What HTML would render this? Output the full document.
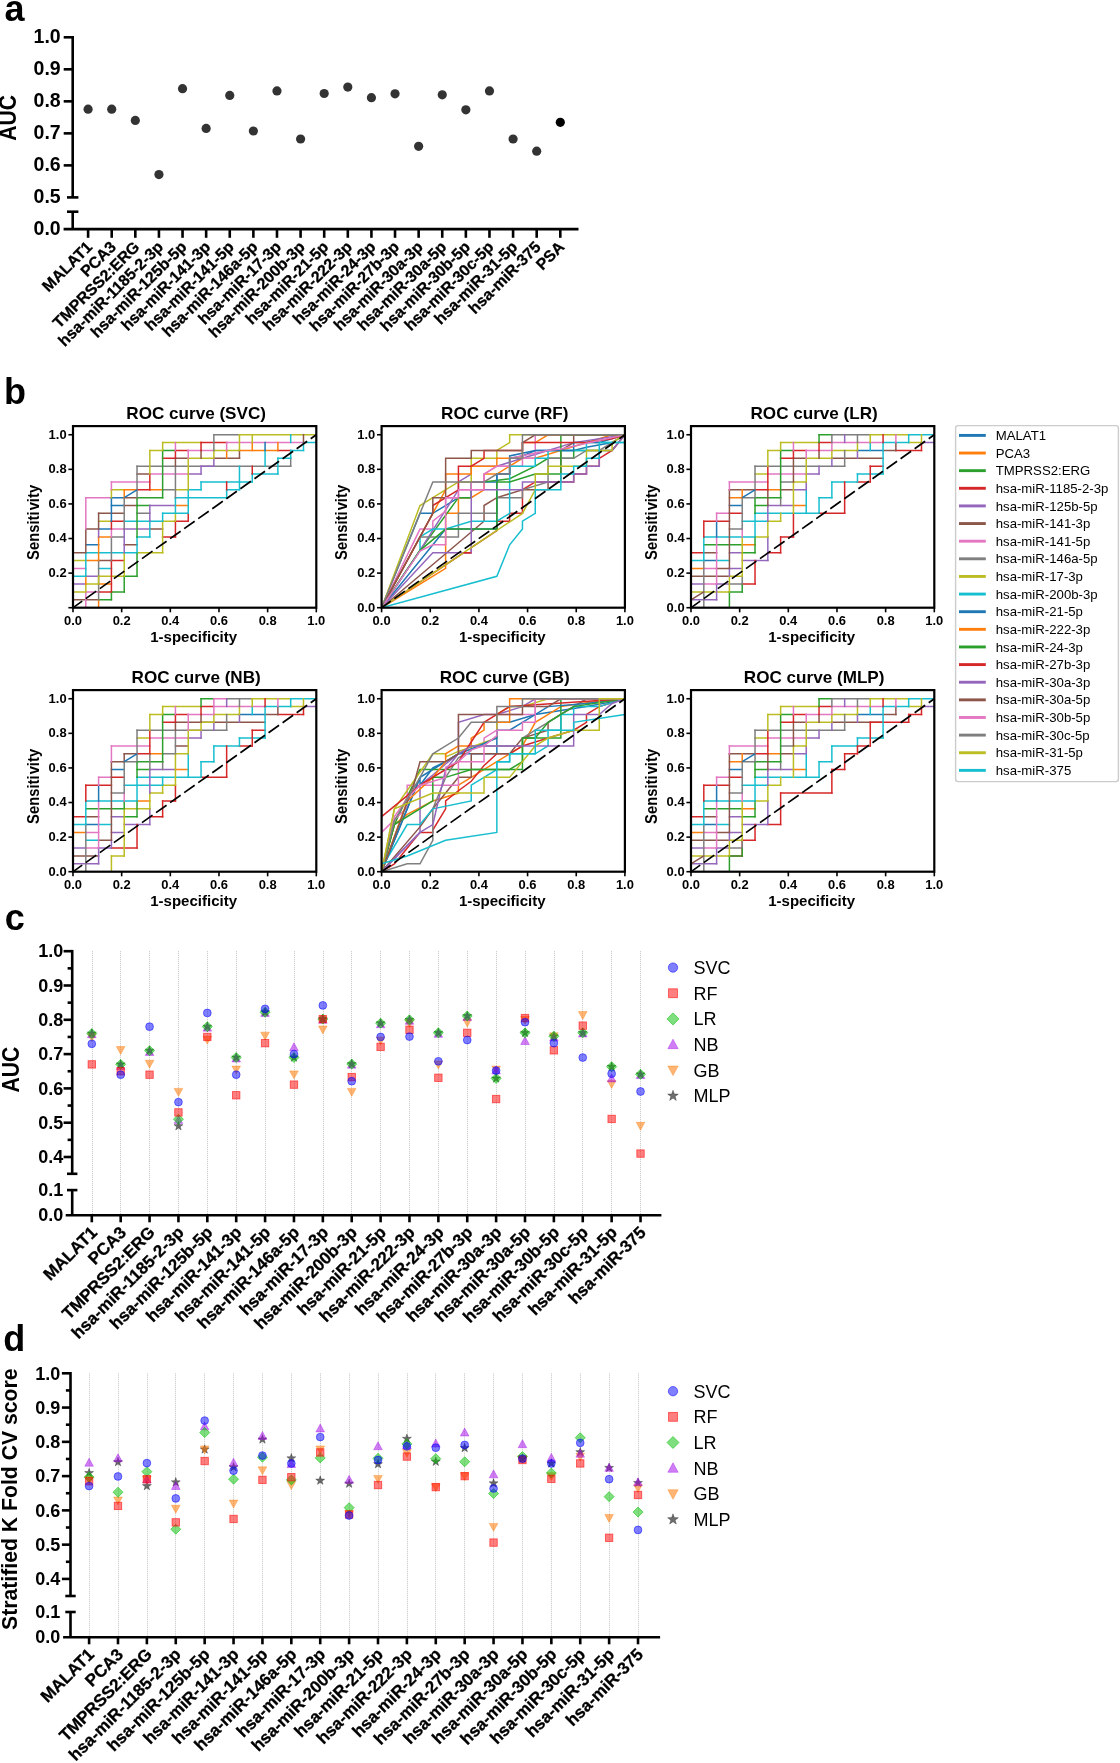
<!DOCTYPE html>
<html><head><meta charset="utf-8"><title>Figure</title>
<style>
html,body{margin:0;padding:0;background:#fff;}
body{width:1120px;height:1763px;overflow:hidden;}
svg{display:block;font-family:"Liberation Sans",sans-serif;will-change:transform;transform:translateZ(0);}
</style></head><body>
<svg width="1120" height="1763" viewBox="0 0 1120 1763">
<text x="4.6" y="21" font-size="36" font-weight="bold" text-anchor="start">a</text>
<text x="4" y="404.3" font-size="36" font-weight="bold" text-anchor="start">b</text>
<text x="4.85" y="929.65" font-size="36" font-weight="bold" text-anchor="start">c</text>
<text x="3.2" y="1351" font-size="36" font-weight="bold" text-anchor="start">d</text>
<line x1="72.7" y1="36" x2="72.7" y2="197.4" stroke="#000" stroke-width="2.6"/>
<line x1="67" y1="197.4" x2="78.4" y2="197.4" stroke="#000" stroke-width="2.6"/>
<line x1="67" y1="211.7" x2="78.4" y2="211.7" stroke="#000" stroke-width="2.6"/>
<line x1="72.7" y1="211.7" x2="72.7" y2="229.1" stroke="#000" stroke-width="2.6"/>
<line x1="63.6" y1="229.1" x2="578.5" y2="229.1" stroke="#000" stroke-width="2.6"/>
<line x1="63.7" y1="37.3" x2="72.7" y2="37.3" stroke="#000" stroke-width="2.6"/>
<text x="60.7" y="42.8" font-size="19.5" font-weight="bold" text-anchor="end">1.0</text>
<line x1="63.7" y1="69.32" x2="72.7" y2="69.32" stroke="#000" stroke-width="2.6"/>
<text x="60.7" y="74.82" font-size="19.5" font-weight="bold" text-anchor="end">0.9</text>
<line x1="63.7" y1="101.34" x2="72.7" y2="101.34" stroke="#000" stroke-width="2.6"/>
<text x="60.7" y="106.84" font-size="19.5" font-weight="bold" text-anchor="end">0.8</text>
<line x1="63.7" y1="133.36" x2="72.7" y2="133.36" stroke="#000" stroke-width="2.6"/>
<text x="60.7" y="138.86" font-size="19.5" font-weight="bold" text-anchor="end">0.7</text>
<line x1="63.7" y1="165.38" x2="72.7" y2="165.38" stroke="#000" stroke-width="2.6"/>
<text x="60.7" y="170.88" font-size="19.5" font-weight="bold" text-anchor="end">0.6</text>
<text x="60.7" y="202.9" font-size="19.5" font-weight="bold" text-anchor="end">0.5</text>
<text x="60.7" y="234.6" font-size="19.5" font-weight="bold" text-anchor="end">0.0</text>
<text transform="translate(15.5 117.8) rotate(-90) scale(1 1.09)" font-size="21.1" font-weight="bold" text-anchor="middle">AUC</text>
<line x1="88.1" y1="229.1" x2="88.1" y2="237.8" stroke="#000" stroke-width="2.6"/>
<text x="93.3" y="247.9" font-size="15.9" font-weight="bold" text-anchor="end" transform="rotate(-45 93.3 247.9)" stroke="#000" stroke-width="0.3">MALAT1</text>
<circle cx="88.1" cy="109.2" r="4.6" fill="#333"/>
<line x1="111.71" y1="229.1" x2="111.71" y2="237.8" stroke="#000" stroke-width="2.6"/>
<text x="116.91" y="247.9" font-size="15.9" font-weight="bold" text-anchor="end" transform="rotate(-45 116.91 247.9)" stroke="#000" stroke-width="0.3">PCA3</text>
<circle cx="111.71" cy="109.2" r="4.6" fill="#333"/>
<line x1="135.32" y1="229.1" x2="135.32" y2="237.8" stroke="#000" stroke-width="2.6"/>
<text x="140.52" y="247.9" font-size="15.9" font-weight="bold" text-anchor="end" transform="rotate(-45 140.52 247.9)" stroke="#000" stroke-width="0.3">TMPRSS2:ERG</text>
<circle cx="135.32" cy="120.41" r="4.6" fill="#333"/>
<line x1="158.93" y1="229.1" x2="158.93" y2="237.8" stroke="#000" stroke-width="2.6"/>
<text x="164.13" y="247.9" font-size="15.9" font-weight="bold" text-anchor="end" transform="rotate(-45 164.13 247.9)" stroke="#000" stroke-width="0.3">hsa-miR-1185-2-3p</text>
<circle cx="158.93" cy="174.53" r="4.6" fill="#333"/>
<line x1="182.54" y1="229.1" x2="182.54" y2="237.8" stroke="#000" stroke-width="2.6"/>
<text x="187.74" y="247.9" font-size="15.9" font-weight="bold" text-anchor="end" transform="rotate(-45 187.74 247.9)" stroke="#000" stroke-width="0.3">hsa-miR-125b-5p</text>
<circle cx="182.54" cy="88.71" r="4.6" fill="#333"/>
<line x1="206.15" y1="229.1" x2="206.15" y2="237.8" stroke="#000" stroke-width="2.6"/>
<text x="211.35" y="247.9" font-size="15.9" font-weight="bold" text-anchor="end" transform="rotate(-45 211.35 247.9)" stroke="#000" stroke-width="0.3">hsa-miR-141-3p</text>
<circle cx="206.15" cy="128.42" r="4.6" fill="#333"/>
<line x1="229.76" y1="229.1" x2="229.76" y2="237.8" stroke="#000" stroke-width="2.6"/>
<text x="234.96" y="247.9" font-size="15.9" font-weight="bold" text-anchor="end" transform="rotate(-45 234.96 247.9)" stroke="#000" stroke-width="0.3">hsa-miR-141-5p</text>
<circle cx="229.76" cy="95.44" r="4.6" fill="#333"/>
<line x1="253.37" y1="229.1" x2="253.37" y2="237.8" stroke="#000" stroke-width="2.6"/>
<text x="258.57" y="247.9" font-size="15.9" font-weight="bold" text-anchor="end" transform="rotate(-45 258.57 247.9)" stroke="#000" stroke-width="0.3">hsa-miR-146a-5p</text>
<circle cx="253.37" cy="130.98" r="4.6" fill="#333"/>
<line x1="276.98" y1="229.1" x2="276.98" y2="237.8" stroke="#000" stroke-width="2.6"/>
<text x="282.18" y="247.9" font-size="15.9" font-weight="bold" text-anchor="end" transform="rotate(-45 282.18 247.9)" stroke="#000" stroke-width="0.3">hsa-miR-17-3p</text>
<circle cx="276.98" cy="90.95" r="4.6" fill="#333"/>
<line x1="300.59" y1="229.1" x2="300.59" y2="237.8" stroke="#000" stroke-width="2.6"/>
<text x="305.79" y="247.9" font-size="15.9" font-weight="bold" text-anchor="end" transform="rotate(-45 305.79 247.9)" stroke="#000" stroke-width="0.3">hsa-miR-200b-3p</text>
<circle cx="300.59" cy="138.98" r="4.6" fill="#333"/>
<line x1="324.2" y1="229.1" x2="324.2" y2="237.8" stroke="#000" stroke-width="2.6"/>
<text x="329.4" y="247.9" font-size="15.9" font-weight="bold" text-anchor="end" transform="rotate(-45 329.4 247.9)" stroke="#000" stroke-width="0.3">hsa-miR-21-5p</text>
<circle cx="324.2" cy="93.51" r="4.6" fill="#333"/>
<line x1="347.81" y1="229.1" x2="347.81" y2="237.8" stroke="#000" stroke-width="2.6"/>
<text x="353.01" y="247.9" font-size="15.9" font-weight="bold" text-anchor="end" transform="rotate(-45 353.01 247.9)" stroke="#000" stroke-width="0.3">hsa-miR-222-3p</text>
<circle cx="347.81" cy="87.11" r="4.6" fill="#333"/>
<line x1="371.42" y1="229.1" x2="371.42" y2="237.8" stroke="#000" stroke-width="2.6"/>
<text x="376.62" y="247.9" font-size="15.9" font-weight="bold" text-anchor="end" transform="rotate(-45 376.62 247.9)" stroke="#000" stroke-width="0.3">hsa-miR-24-3p</text>
<circle cx="371.42" cy="97.68" r="4.6" fill="#333"/>
<line x1="395.03" y1="229.1" x2="395.03" y2="237.8" stroke="#000" stroke-width="2.6"/>
<text x="400.23" y="247.9" font-size="15.9" font-weight="bold" text-anchor="end" transform="rotate(-45 400.23 247.9)" stroke="#000" stroke-width="0.3">hsa-miR-27b-3p</text>
<circle cx="395.03" cy="93.84" r="4.6" fill="#333"/>
<line x1="418.64" y1="229.1" x2="418.64" y2="237.8" stroke="#000" stroke-width="2.6"/>
<text x="423.84" y="247.9" font-size="15.9" font-weight="bold" text-anchor="end" transform="rotate(-45 423.84 247.9)" stroke="#000" stroke-width="0.3">hsa-miR-30a-3p</text>
<circle cx="418.64" cy="146.35" r="4.6" fill="#333"/>
<line x1="442.25" y1="229.1" x2="442.25" y2="237.8" stroke="#000" stroke-width="2.6"/>
<text x="447.45" y="247.9" font-size="15.9" font-weight="bold" text-anchor="end" transform="rotate(-45 447.45 247.9)" stroke="#000" stroke-width="0.3">hsa-miR-30a-5p</text>
<circle cx="442.25" cy="94.8" r="4.6" fill="#333"/>
<line x1="465.86" y1="229.1" x2="465.86" y2="237.8" stroke="#000" stroke-width="2.6"/>
<text x="471.06" y="247.9" font-size="15.9" font-weight="bold" text-anchor="end" transform="rotate(-45 471.06 247.9)" stroke="#000" stroke-width="0.3">hsa-miR-30b-5p</text>
<circle cx="465.86" cy="109.84" r="4.6" fill="#333"/>
<line x1="489.47" y1="229.1" x2="489.47" y2="237.8" stroke="#000" stroke-width="2.6"/>
<text x="494.67" y="247.9" font-size="15.9" font-weight="bold" text-anchor="end" transform="rotate(-45 494.67 247.9)" stroke="#000" stroke-width="0.3">hsa-miR-30c-5p</text>
<circle cx="489.47" cy="90.95" r="4.6" fill="#333"/>
<line x1="513.08" y1="229.1" x2="513.08" y2="237.8" stroke="#000" stroke-width="2.6"/>
<text x="518.28" y="247.9" font-size="15.9" font-weight="bold" text-anchor="end" transform="rotate(-45 518.28 247.9)" stroke="#000" stroke-width="0.3">hsa-miR-31-5p</text>
<circle cx="513.08" cy="138.98" r="4.6" fill="#333"/>
<line x1="536.69" y1="229.1" x2="536.69" y2="237.8" stroke="#000" stroke-width="2.6"/>
<text x="541.89" y="247.9" font-size="15.9" font-weight="bold" text-anchor="end" transform="rotate(-45 541.89 247.9)" stroke="#000" stroke-width="0.3">hsa-miR-375</text>
<circle cx="536.69" cy="151.15" r="4.6" fill="#333"/>
<line x1="560.3" y1="229.1" x2="560.3" y2="237.8" stroke="#000" stroke-width="2.6"/>
<text x="565.5" y="247.9" font-size="15.9" font-weight="bold" text-anchor="end" transform="rotate(-45 565.5 247.9)" stroke="#000" stroke-width="0.3">PSA</text>
<circle cx="560.3" cy="122.33" r="4.6" fill="#000"/>
<g clip-path="url(#clip_SVC)">
<clipPath id="clip_SVC"><rect x="73" y="426.1" width="243.3" height="181.6"/></clipPath>
<path d="M73,599.84L98.61,599.84" stroke="#8c564b" stroke-width="1.5" stroke-linecap="square"/>
<path d="M98.61,599.84L111.42,599.84" stroke="#2ca02c" stroke-width="1.5" stroke-linecap="square"/>
<path d="M73,591.98L85.81,591.98" stroke="#bcbd22" stroke-width="1.5" stroke-linecap="square"/>
<path d="M85.81,591.98L98.61,591.98" stroke="#e377c2" stroke-width="1.5" stroke-linecap="square"/>
<path d="M98.61,591.98L111.42,591.98" stroke="#d62728" stroke-width="1.5" stroke-linecap="square"/>
<path d="M111.42,591.98L124.22,591.98" stroke="#2ca02c" stroke-width="1.5" stroke-linecap="square"/>
<path d="M73,584.12L85.81,584.12" stroke="#9467bd" stroke-width="1.5" stroke-linecap="square"/>
<path d="M85.81,584.12L98.61,584.12" stroke="#bcbd22" stroke-width="1.5" stroke-linecap="square"/>
<path d="M98.61,584.12L111.42,584.12" stroke="#ff7f0e" stroke-width="1.5" stroke-linecap="square"/>
<path d="M73,576.25L85.81,576.25" stroke="#17becf" stroke-width="1.5" stroke-linecap="square"/>
<path d="M85.81,576.25L98.61,576.25" stroke="#9467bd" stroke-width="1.5" stroke-linecap="square"/>
<path d="M98.61,576.25L124.22,576.25" stroke="#bcbd22" stroke-width="1.5" stroke-linecap="square"/>
<path d="M124.22,576.25L137.03,576.25" stroke="#2ca02c" stroke-width="1.5" stroke-linecap="square"/>
<path d="M73,568.39L85.81,568.39" stroke="#e377c2" stroke-width="1.5" stroke-linecap="square"/>
<path d="M98.61,568.39L111.42,568.39" stroke="#17becf" stroke-width="1.5" stroke-linecap="square"/>
<path d="M73,560.53L85.81,560.53" stroke="#bcbd22" stroke-width="1.5" stroke-linecap="square"/>
<path d="M85.81,560.53L98.61,560.53" stroke="#ff7f0e" stroke-width="1.5" stroke-linecap="square"/>
<path d="M98.61,560.53L111.42,560.53" stroke="#8c564b" stroke-width="1.5" stroke-linecap="square"/>
<path d="M111.42,560.53L124.22,560.53" stroke="#d62728" stroke-width="1.5" stroke-linecap="square"/>
<path d="M73,552.67L85.81,552.67" stroke="#8c564b" stroke-width="1.5" stroke-linecap="square"/>
<path d="M85.81,552.67L137.03,552.67" stroke="#17becf" stroke-width="1.5" stroke-linecap="square"/>
<path d="M137.03,552.67L162.64,552.67" stroke="#bcbd22" stroke-width="1.5" stroke-linecap="square"/>
<path d="M85.81,544.81L98.61,544.81" stroke="#1f77b4" stroke-width="1.5" stroke-linecap="square"/>
<path d="M124.22,544.81L137.03,544.81" stroke="#8c564b" stroke-width="1.5" stroke-linecap="square"/>
<path d="M98.61,536.95L111.42,536.95" stroke="#ff7f0e" stroke-width="1.5" stroke-linecap="square"/>
<path d="M111.42,536.95L124.22,536.95" stroke="#7f7f7f" stroke-width="1.5" stroke-linecap="square"/>
<path d="M137.03,536.95L149.83,536.95" stroke="#17becf" stroke-width="1.5" stroke-linecap="square"/>
<path d="M162.64,536.95L175.44,536.95" stroke="#d62728" stroke-width="1.5" stroke-linecap="square"/>
<path d="M85.81,529.09L98.61,529.09" stroke="#8c564b" stroke-width="1.5" stroke-linecap="square"/>
<path d="M98.61,529.09L111.42,529.09" stroke="#1f77b4" stroke-width="1.5" stroke-linecap="square"/>
<path d="M111.42,529.09L124.22,529.09" stroke="#e377c2" stroke-width="1.5" stroke-linecap="square"/>
<path d="M124.22,529.09L149.83,529.09" stroke="#9467bd" stroke-width="1.5" stroke-linecap="square"/>
<path d="M149.83,529.09L162.64,529.09" stroke="#8c564b" stroke-width="1.5" stroke-linecap="square"/>
<path d="M98.61,521.22L111.42,521.22" stroke="#bcbd22" stroke-width="1.5" stroke-linecap="square"/>
<path d="M111.42,521.22L124.22,521.22" stroke="#d62728" stroke-width="1.5" stroke-linecap="square"/>
<path d="M124.22,521.22L162.64,521.22" stroke="#17becf" stroke-width="1.5" stroke-linecap="square"/>
<path d="M162.64,521.22L175.44,521.22" stroke="#bcbd22" stroke-width="1.5" stroke-linecap="square"/>
<path d="M175.44,521.22L188.25,521.22" stroke="#d62728" stroke-width="1.5" stroke-linecap="square"/>
<path d="M98.61,513.36L124.22,513.36" stroke="#8c564b" stroke-width="1.5" stroke-linecap="square"/>
<path d="M137.03,513.36L149.83,513.36" stroke="#7f7f7f" stroke-width="1.5" stroke-linecap="square"/>
<path d="M162.64,513.36L188.25,513.36" stroke="#17becf" stroke-width="1.5" stroke-linecap="square"/>
<path d="M111.42,505.5L124.22,505.5" stroke="#1f77b4" stroke-width="1.5" stroke-linecap="square"/>
<path d="M124.22,505.5L137.03,505.5" stroke="#8c564b" stroke-width="1.5" stroke-linecap="square"/>
<path d="M137.03,505.5L149.83,505.5" stroke="#2ca02c" stroke-width="1.5" stroke-linecap="square"/>
<path d="M149.83,505.5L175.44,505.5" stroke="#9467bd" stroke-width="1.5" stroke-linecap="square"/>
<path d="M175.44,505.5L188.25,505.5" stroke="#ff7f0e" stroke-width="1.5" stroke-linecap="square"/>
<path d="M85.81,497.64L111.42,497.64" stroke="#e377c2" stroke-width="1.5" stroke-linecap="square"/>
<path d="M111.42,497.64L124.22,497.64" stroke="#1f77b4" stroke-width="1.5" stroke-linecap="square"/>
<path d="M124.22,497.64L137.03,497.64" stroke="#8c564b" stroke-width="1.5" stroke-linecap="square"/>
<path d="M137.03,497.64L162.64,497.64" stroke="#2ca02c" stroke-width="1.5" stroke-linecap="square"/>
<path d="M175.44,497.64L226.66,497.64" stroke="#17becf" stroke-width="1.5" stroke-linecap="square"/>
<path d="M111.42,489.78L124.22,489.78" stroke="#bcbd22" stroke-width="1.5" stroke-linecap="square"/>
<path d="M124.22,489.78L137.03,489.78" stroke="#ff7f0e" stroke-width="1.5" stroke-linecap="square"/>
<path d="M137.03,489.78L149.83,489.78" stroke="#d62728" stroke-width="1.5" stroke-linecap="square"/>
<path d="M149.83,489.78L162.64,489.78" stroke="#ff7f0e" stroke-width="1.5" stroke-linecap="square"/>
<path d="M162.64,489.78L175.44,489.78" stroke="#7f7f7f" stroke-width="1.5" stroke-linecap="square"/>
<path d="M175.44,489.78L188.25,489.78" stroke="#bcbd22" stroke-width="1.5" stroke-linecap="square"/>
<path d="M188.25,489.78L201.05,489.78" stroke="#17becf" stroke-width="1.5" stroke-linecap="square"/>
<path d="M226.66,489.78L239.47,489.78" stroke="#17becf" stroke-width="1.5" stroke-linecap="square"/>
<path d="M111.42,481.92L149.83,481.92" stroke="#e377c2" stroke-width="1.5" stroke-linecap="square"/>
<path d="M201.05,481.92L252.27,481.92" stroke="#17becf" stroke-width="1.5" stroke-linecap="square"/>
<path d="M137.03,474.05L149.83,474.05" stroke="#8c564b" stroke-width="1.5" stroke-linecap="square"/>
<path d="M149.83,474.05L188.25,474.05" stroke="#e377c2" stroke-width="1.5" stroke-linecap="square"/>
<path d="M188.25,474.05L201.05,474.05" stroke="#9467bd" stroke-width="1.5" stroke-linecap="square"/>
<path d="M252.27,474.05L277.88,474.05" stroke="#17becf" stroke-width="1.5" stroke-linecap="square"/>
<path d="M137.03,466.19L290.69,466.19" stroke="#7f7f7f" stroke-width="1.5" stroke-linecap="square"/>
<path d="M201.05,466.19L213.86,466.19" stroke="#9467bd" stroke-width="1.5" stroke-linecap="square"/>
<path d="M162.64,458.33L175.44,458.33" stroke="#d62728" stroke-width="1.5" stroke-linecap="square"/>
<path d="M175.44,458.33L188.25,458.33" stroke="#8c564b" stroke-width="1.5" stroke-linecap="square"/>
<path d="M188.25,458.33L213.86,458.33" stroke="#bcbd22" stroke-width="1.5" stroke-linecap="square"/>
<path d="M213.86,458.33L239.47,458.33" stroke="#8c564b" stroke-width="1.5" stroke-linecap="square"/>
<path d="M277.88,458.33L290.69,458.33" stroke="#17becf" stroke-width="1.5" stroke-linecap="square"/>
<path d="M149.83,450.47L162.64,450.47" stroke="#bcbd22" stroke-width="1.5" stroke-linecap="square"/>
<path d="M162.64,450.47L175.44,450.47" stroke="#2ca02c" stroke-width="1.5" stroke-linecap="square"/>
<path d="M175.44,450.47L188.25,450.47" stroke="#d62728" stroke-width="1.5" stroke-linecap="square"/>
<path d="M188.25,450.47L213.86,450.47" stroke="#e377c2" stroke-width="1.5" stroke-linecap="square"/>
<path d="M213.86,450.47L239.47,450.47" stroke="#bcbd22" stroke-width="1.5" stroke-linecap="square"/>
<path d="M239.47,450.47L277.88,450.47" stroke="#ff7f0e" stroke-width="1.5" stroke-linecap="square"/>
<path d="M277.88,450.47L290.69,450.47" stroke="#d62728" stroke-width="1.5" stroke-linecap="square"/>
<path d="M290.69,450.47L303.49,450.47" stroke="#17becf" stroke-width="1.5" stroke-linecap="square"/>
<path d="M162.64,442.61L201.05,442.61" stroke="#bcbd22" stroke-width="1.5" stroke-linecap="square"/>
<path d="M201.05,442.61L226.66,442.61" stroke="#d62728" stroke-width="1.5" stroke-linecap="square"/>
<path d="M226.66,442.61L303.49,442.61" stroke="#e377c2" stroke-width="1.5" stroke-linecap="square"/>
<path d="M303.49,442.61L316.3,442.61" stroke="#17becf" stroke-width="1.5" stroke-linecap="square"/>
<path d="M213.86,434.75L239.47,434.75" stroke="#7f7f7f" stroke-width="1.5" stroke-linecap="square"/>
<path d="M239.47,434.75L316.3,434.75" stroke="#bcbd22" stroke-width="1.5" stroke-linecap="square"/>
<path d="M85.81,607.7L85.81,591.98" stroke="#e377c2" stroke-width="1.5" stroke-linecap="square"/>
<path d="M85.81,591.98L85.81,584.12" stroke="#bcbd22" stroke-width="1.5" stroke-linecap="square"/>
<path d="M85.81,584.12L85.81,576.25" stroke="#ff7f0e" stroke-width="1.5" stroke-linecap="square"/>
<path d="M85.81,576.25L85.81,552.67" stroke="#17becf" stroke-width="1.5" stroke-linecap="square"/>
<path d="M85.81,552.67L85.81,529.09" stroke="#8c564b" stroke-width="1.5" stroke-linecap="square"/>
<path d="M85.81,529.09L85.81,497.64" stroke="#e377c2" stroke-width="1.5" stroke-linecap="square"/>
<path d="M98.61,607.7L98.61,599.84" stroke="#ff7f0e" stroke-width="1.5" stroke-linecap="square"/>
<path d="M98.61,599.84L98.61,560.53" stroke="#7f7f7f" stroke-width="1.5" stroke-linecap="square"/>
<path d="M98.61,584.12L98.61,576.25" stroke="#bcbd22" stroke-width="1.5" stroke-linecap="square"/>
<path d="M98.61,560.53L98.61,536.95" stroke="#ff7f0e" stroke-width="1.5" stroke-linecap="square"/>
<path d="M98.61,536.95L98.61,529.09" stroke="#9467bd" stroke-width="1.5" stroke-linecap="square"/>
<path d="M98.61,529.09L98.61,513.36" stroke="#8c564b" stroke-width="1.5" stroke-linecap="square"/>
<path d="M111.42,599.84L111.42,591.98" stroke="#2ca02c" stroke-width="1.5" stroke-linecap="square"/>
<path d="M111.42,591.98L111.42,560.53" stroke="#d62728" stroke-width="1.5" stroke-linecap="square"/>
<path d="M111.42,560.53L111.42,536.95" stroke="#7f7f7f" stroke-width="1.5" stroke-linecap="square"/>
<path d="M111.42,536.95L111.42,529.09" stroke="#e377c2" stroke-width="1.5" stroke-linecap="square"/>
<path d="M111.42,529.09L111.42,521.22" stroke="#d62728" stroke-width="1.5" stroke-linecap="square"/>
<path d="M111.42,521.22L111.42,497.64" stroke="#1f77b4" stroke-width="1.5" stroke-linecap="square"/>
<path d="M111.42,497.64L111.42,489.78" stroke="#bcbd22" stroke-width="1.5" stroke-linecap="square"/>
<path d="M111.42,489.78L111.42,481.92" stroke="#e377c2" stroke-width="1.5" stroke-linecap="square"/>
<path d="M124.22,591.98L124.22,576.25" stroke="#2ca02c" stroke-width="1.5" stroke-linecap="square"/>
<path d="M124.22,576.25L124.22,552.67" stroke="#bcbd22" stroke-width="1.5" stroke-linecap="square"/>
<path d="M124.22,552.67L124.22,529.09" stroke="#9467bd" stroke-width="1.5" stroke-linecap="square"/>
<path d="M124.22,529.09L124.22,497.64" stroke="#7f7f7f" stroke-width="1.5" stroke-linecap="square"/>
<path d="M124.22,497.64L124.22,489.78" stroke="#ff7f0e" stroke-width="1.5" stroke-linecap="square"/>
<path d="M137.03,576.25L137.03,552.67" stroke="#2ca02c" stroke-width="1.5" stroke-linecap="square"/>
<path d="M137.03,552.67L137.03,536.95" stroke="#17becf" stroke-width="1.5" stroke-linecap="square"/>
<path d="M137.03,536.95L137.03,497.64" stroke="#2ca02c" stroke-width="1.5" stroke-linecap="square"/>
<path d="M137.03,497.64L137.03,466.19" stroke="#7f7f7f" stroke-width="1.5" stroke-linecap="square"/>
<path d="M149.83,536.95L149.83,521.22" stroke="#17becf" stroke-width="1.5" stroke-linecap="square"/>
<path d="M149.83,521.22L149.83,505.5" stroke="#9467bd" stroke-width="1.5" stroke-linecap="square"/>
<path d="M149.83,489.78L149.83,474.05" stroke="#d62728" stroke-width="1.5" stroke-linecap="square"/>
<path d="M149.83,474.05L149.83,450.47" stroke="#bcbd22" stroke-width="1.5" stroke-linecap="square"/>
<path d="M162.64,552.67L162.64,521.22" stroke="#bcbd22" stroke-width="1.5" stroke-linecap="square"/>
<path d="M162.64,521.22L162.64,513.36" stroke="#17becf" stroke-width="1.5" stroke-linecap="square"/>
<path d="M162.64,497.64L162.64,450.47" stroke="#2ca02c" stroke-width="1.5" stroke-linecap="square"/>
<path d="M162.64,450.47L162.64,442.61" stroke="#bcbd22" stroke-width="1.5" stroke-linecap="square"/>
<path d="M175.44,536.95L175.44,521.22" stroke="#d62728" stroke-width="1.5" stroke-linecap="square"/>
<path d="M175.44,521.22L175.44,513.36" stroke="#bcbd22" stroke-width="1.5" stroke-linecap="square"/>
<path d="M175.44,513.36L175.44,497.64" stroke="#17becf" stroke-width="1.5" stroke-linecap="square"/>
<path d="M175.44,497.64L175.44,466.19" stroke="#7f7f7f" stroke-width="1.5" stroke-linecap="square"/>
<path d="M175.44,466.19L175.44,458.33" stroke="#8c564b" stroke-width="1.5" stroke-linecap="square"/>
<path d="M175.44,458.33L175.44,450.47" stroke="#d62728" stroke-width="1.5" stroke-linecap="square"/>
<path d="M175.44,450.47L175.44,442.61" stroke="#e377c2" stroke-width="1.5" stroke-linecap="square"/>
<path d="M188.25,521.22L188.25,513.36" stroke="#d62728" stroke-width="1.5" stroke-linecap="square"/>
<path d="M188.25,513.36L188.25,489.78" stroke="#17becf" stroke-width="1.5" stroke-linecap="square"/>
<path d="M188.25,489.78L188.25,458.33" stroke="#bcbd22" stroke-width="1.5" stroke-linecap="square"/>
<path d="M188.25,458.33L188.25,450.47" stroke="#e377c2" stroke-width="1.5" stroke-linecap="square"/>
<path d="M201.05,489.78L201.05,481.92" stroke="#17becf" stroke-width="1.5" stroke-linecap="square"/>
<path d="M201.05,474.05L201.05,466.19" stroke="#9467bd" stroke-width="1.5" stroke-linecap="square"/>
<path d="M201.05,458.33L201.05,450.47" stroke="#8c564b" stroke-width="1.5" stroke-linecap="square"/>
<path d="M201.05,450.47L201.05,442.61" stroke="#d62728" stroke-width="1.5" stroke-linecap="square"/>
<path d="M213.86,466.19L213.86,458.33" stroke="#9467bd" stroke-width="1.5" stroke-linecap="square"/>
<path d="M213.86,458.33L213.86,450.47" stroke="#bcbd22" stroke-width="1.5" stroke-linecap="square"/>
<path d="M213.86,450.47L213.86,434.75" stroke="#7f7f7f" stroke-width="1.5" stroke-linecap="square"/>
<path d="M226.66,497.64L226.66,489.78" stroke="#17becf" stroke-width="1.5" stroke-linecap="square"/>
<path d="M226.66,489.78L226.66,481.92" stroke="#d62728" stroke-width="1.5" stroke-linecap="square"/>
<path d="M226.66,458.33L226.66,450.47" stroke="#ff7f0e" stroke-width="1.5" stroke-linecap="square"/>
<path d="M226.66,450.47L226.66,442.61" stroke="#e377c2" stroke-width="1.5" stroke-linecap="square"/>
<path d="M239.47,489.78L239.47,466.19" stroke="#17becf" stroke-width="1.5" stroke-linecap="square"/>
<path d="M239.47,458.33L239.47,450.47" stroke="#8c564b" stroke-width="1.5" stroke-linecap="square"/>
<path d="M239.47,450.47L239.47,434.75" stroke="#bcbd22" stroke-width="1.5" stroke-linecap="square"/>
<path d="M252.27,481.92L252.27,474.05" stroke="#17becf" stroke-width="1.5" stroke-linecap="square"/>
<path d="M252.27,474.05L252.27,466.19" stroke="#d62728" stroke-width="1.5" stroke-linecap="square"/>
<path d="M252.27,450.47L252.27,442.61" stroke="#ff7f0e" stroke-width="1.5" stroke-linecap="square"/>
<path d="M252.27,442.61L252.27,434.75" stroke="#bcbd22" stroke-width="1.5" stroke-linecap="square"/>
<path d="M265.08,466.19L265.08,450.47" stroke="#17becf" stroke-width="1.5" stroke-linecap="square"/>
<path d="M265.08,450.47L265.08,442.61" stroke="#1f77b4" stroke-width="1.5" stroke-linecap="square"/>
<path d="M277.88,474.05L277.88,458.33" stroke="#17becf" stroke-width="1.5" stroke-linecap="square"/>
<path d="M277.88,450.47L277.88,442.61" stroke="#ff7f0e" stroke-width="1.5" stroke-linecap="square"/>
<path d="M290.69,466.19L290.69,458.33" stroke="#7f7f7f" stroke-width="1.5" stroke-linecap="square"/>
<path d="M290.69,458.33L290.69,450.47" stroke="#17becf" stroke-width="1.5" stroke-linecap="square"/>
<path d="M290.69,442.61L290.69,434.75" stroke="#17becf" stroke-width="1.5" stroke-linecap="square"/>
<path d="M303.49,450.47L303.49,442.61" stroke="#17becf" stroke-width="1.5" stroke-linecap="square"/>
<path d="M303.49,442.61L303.49,434.75" stroke="#8c564b" stroke-width="1.5" stroke-linecap="square"/>
<path d="M124.22,497.64L137.03,489.78" stroke="#1f77b4" stroke-width="1.5"/>
<path d="M73,607.7L316.3,434.75" stroke="#000" stroke-width="1.7" stroke-dasharray="12.9 4.35" stroke-dashoffset="1.6"/>
</g>
<rect x="73" y="426.1" width="243.3" height="181.6" fill="none" stroke="#000" stroke-width="2.2"/>
<line x1="73" y1="607.7" x2="73" y2="612.3" stroke="#000" stroke-width="1.6"/>
<text transform="translate(73 625) scale(1.08 1)" font-size="12" font-weight="bold" text-anchor="middle">0.0</text>
<line x1="68.4" y1="607.7" x2="73" y2="607.7" stroke="#000" stroke-width="1.6"/>
<line x1="121.66" y1="607.7" x2="121.66" y2="612.3" stroke="#000" stroke-width="1.6"/>
<text transform="translate(121.66 625) scale(1.08 1)" font-size="12" font-weight="bold" text-anchor="middle">0.2</text>
<line x1="68.4" y1="573.11" x2="73" y2="573.11" stroke="#000" stroke-width="1.6"/>
<text transform="translate(66.6 577.01) scale(1.08 1)" font-size="12" font-weight="bold" text-anchor="end">0.2</text>
<line x1="170.32" y1="607.7" x2="170.32" y2="612.3" stroke="#000" stroke-width="1.6"/>
<text transform="translate(170.32 625) scale(1.08 1)" font-size="12" font-weight="bold" text-anchor="middle">0.4</text>
<line x1="68.4" y1="538.52" x2="73" y2="538.52" stroke="#000" stroke-width="1.6"/>
<text transform="translate(66.6 542.42) scale(1.08 1)" font-size="12" font-weight="bold" text-anchor="end">0.4</text>
<line x1="218.98" y1="607.7" x2="218.98" y2="612.3" stroke="#000" stroke-width="1.6"/>
<text transform="translate(218.98 625) scale(1.08 1)" font-size="12" font-weight="bold" text-anchor="middle">0.6</text>
<line x1="68.4" y1="503.93" x2="73" y2="503.93" stroke="#000" stroke-width="1.6"/>
<text transform="translate(66.6 507.83) scale(1.08 1)" font-size="12" font-weight="bold" text-anchor="end">0.6</text>
<line x1="267.64" y1="607.7" x2="267.64" y2="612.3" stroke="#000" stroke-width="1.6"/>
<text transform="translate(267.64 625) scale(1.08 1)" font-size="12" font-weight="bold" text-anchor="middle">0.8</text>
<line x1="68.4" y1="469.34" x2="73" y2="469.34" stroke="#000" stroke-width="1.6"/>
<text transform="translate(66.6 473.24) scale(1.08 1)" font-size="12" font-weight="bold" text-anchor="end">0.8</text>
<line x1="316.3" y1="607.7" x2="316.3" y2="612.3" stroke="#000" stroke-width="1.6"/>
<text transform="translate(316.3 625) scale(1.08 1)" font-size="12" font-weight="bold" text-anchor="middle">1.0</text>
<line x1="68.4" y1="434.75" x2="73" y2="434.75" stroke="#000" stroke-width="1.6"/>
<text transform="translate(66.6 438.65) scale(1.08 1)" font-size="12" font-weight="bold" text-anchor="end">1.0</text>
<text x="196.15" y="418.9" font-size="17.1" font-weight="bold" text-anchor="middle">ROC curve (SVC)</text>
<text x="193.65" y="641.8" font-size="15.0" font-weight="bold" text-anchor="middle">1-specificity</text>
<text transform="translate(38.8 522.42) rotate(-90) scale(1 1.14)" font-size="14.8" font-weight="bold" text-anchor="middle">Sensiti<tspan dx="1.1">vity</tspan></text>
<g clip-path="url(#clip_RF)">
<clipPath id="clip_RF"><rect x="381.6" y="426.1" width="243.3" height="181.6"/></clipPath>
<path d="M381.6,607.7 L420.02,513.36 L432.82,513.36 L458.43,497.64 L471.24,497.64 L471.24,481.92 L496.85,481.92 L496.85,474.05 L509.65,474.05 L509.65,455.97 L535.26,450.47 L573.68,450.47 L586.48,447.33 L612.09,442.61 L624.9,434.75" fill="none" stroke="#1f77b4" stroke-width="1.5" stroke-linejoin="miter"/>
<path d="M381.6,607.7 L445.63,568.39 L445.63,513.36 L458.43,513.36 L458.43,497.64 L471.24,497.64 L484.04,489.78 L484.04,474.05 L496.85,474.05 L522.46,458.33 L535.26,458.33 L573.68,446.54 L599.29,438.68 L612.09,434.75 L624.9,434.75" fill="none" stroke="#ff7f0e" stroke-width="1.5" stroke-linejoin="miter"/>
<path d="M381.6,607.7 L420.02,550.31 L458.43,497.64 L471.24,497.64 L471.24,481.92 L484.04,481.92 L509.65,478.77 L535.26,466.19 L548.07,458.33 L573.68,458.33 L573.68,450.47 L612.09,450.47 L624.9,434.75" fill="none" stroke="#2ca02c" stroke-width="1.5" stroke-linejoin="miter"/>
<path d="M381.6,607.7 L463.55,552.83 L471.24,552.67 L471.24,547.64 L496.85,530.5 L496.85,521.22 L509.65,521.22 L509.65,513.36 L522.46,513.36 L522.46,489.78 L535.26,481.92 L573.68,481.92 L573.68,474.05 L586.48,474.05 L586.48,466.19 L599.29,466.19 L599.29,458.33 L612.09,450.47 L624.9,434.75" fill="none" stroke="#d62728" stroke-width="1.5" stroke-linejoin="miter"/>
<path d="M381.6,607.7 L420.02,550.31 L458.43,489.78 L458.43,481.92 L471.24,474.05 L471.24,466.19 L496.85,466.19 L522.46,458.33 L548.07,450.47 L573.68,442.61 L599.29,438.68 L624.9,434.75" fill="none" stroke="#9467bd" stroke-width="1.5" stroke-linejoin="miter"/>
<path d="M381.6,607.7 L484.04,521.22 L484.04,505.5 L496.85,497.64 L522.46,489.78 L548.07,489.78 L548.07,481.92 L560.87,481.92 L560.87,450.47 L573.68,442.61 L573.68,434.75 L624.9,434.75" fill="none" stroke="#8c564b" stroke-width="1.5" stroke-linejoin="miter"/>
<path d="M381.6,607.7 L420.02,529.09 L432.82,529.09 L432.82,521.22 L445.63,511 L445.63,497.64 L458.43,497.64 L458.43,489.78 L471.24,489.78 L471.24,481.92 L484.04,481.92 L484.04,474.05 L496.85,466.19 L522.46,466.19 L522.46,458.33 L535.26,458.33 L535.26,434.75 L624.9,434.75" fill="none" stroke="#e377c2" stroke-width="1.5" stroke-linejoin="miter"/>
<path d="M381.6,607.7 L420.02,536.95 L458.43,536.95 L458.43,513.36 L496.85,513.36 L496.85,497.64 L522.46,497.64 L522.46,489.78 L548.07,481.92 L548.07,458.33 L573.68,458.33 L586.48,450.47 L599.29,450.47 L624.9,434.75" fill="none" stroke="#7f7f7f" stroke-width="1.5" stroke-linejoin="miter"/>
<path d="M381.6,607.7 L420.02,505.5 L432.82,497.64 L458.43,481.92 L471.24,481.92 L471.24,458.33 L496.85,458.33 L496.85,450.47 L509.65,442.61 L509.65,434.75 L624.9,434.75" fill="none" stroke="#bcbd22" stroke-width="1.5" stroke-linejoin="miter"/>
<path d="M381.6,607.7 L420.02,550.31 L420.02,536.95 L432.82,529.09 L445.63,529.09 L471.24,521.22 L496.85,521.22 L509.65,513.36 L509.65,466.19 L535.26,466.19 L535.26,458.33 L548.07,458.33 L548.07,450.47 L586.48,450.47 L586.48,442.61 L624.9,442.61 L624.9,434.75" fill="none" stroke="#17becf" stroke-width="1.5" stroke-linejoin="miter"/>
<path d="M381.6,607.7 L445.63,529.09 L496.85,529.09 L496.85,474.05 L509.65,474.05 L509.65,458.33 L522.46,455.97 L535.26,450.47 L573.68,450.47 L573.68,442.61 L599.29,442.61 L624.9,434.75" fill="none" stroke="#1f77b4" stroke-width="1.5" stroke-linejoin="miter"/>
<path d="M381.6,607.7 L432.82,513.36 L445.63,489.78 L445.63,474.05 L471.24,474.05 L471.24,466.19 L496.85,466.19 L496.85,458.33 L522.46,458.33 L522.46,442.61 L535.26,442.61 L548.07,434.75 L624.9,434.75" fill="none" stroke="#ff7f0e" stroke-width="1.5" stroke-linejoin="miter"/>
<path d="M381.6,607.7 L420.02,550.31 L445.63,529.09 L496.85,529.09 L496.85,481.92 L509.65,481.92 L535.26,474.05 L560.87,474.05 L560.87,434.75 L624.9,434.75" fill="none" stroke="#2ca02c" stroke-width="1.5" stroke-linejoin="miter"/>
<path d="M381.6,607.7 L432.82,513.36 L432.82,505.5 L458.43,489.78 L458.43,466.19 L471.24,466.19 L484.04,458.33 L484.04,450.47 L522.46,450.47 L522.46,442.61 L586.48,442.61 L612.09,438.68 L624.9,434.75" fill="none" stroke="#d62728" stroke-width="1.5" stroke-linejoin="miter"/>
<path d="M381.6,607.7 L432.82,552.67 L471.24,552.67 L471.24,489.78 L522.46,489.78 L522.46,481.92 L573.68,481.92 L573.68,474.05 L586.48,474.05 L586.48,466.19 L599.29,466.19 L599.29,450.47 L612.09,450.47 L624.9,434.75" fill="none" stroke="#9467bd" stroke-width="1.5" stroke-linejoin="miter"/>
<path d="M381.6,607.7 L432.82,513.36 L432.82,497.64 L445.63,497.64 L445.63,458.33 L471.24,458.33 L471.24,450.47 L522.46,450.47 L522.46,442.61 L535.26,434.75 L624.9,434.75" fill="none" stroke="#8c564b" stroke-width="1.5" stroke-linejoin="miter"/>
<path d="M381.6,607.7 L420.02,551.1 L432.82,544.81 L445.63,544.81 L445.63,497.64 L458.43,497.64 L458.43,489.78 L484.04,489.78 L484.04,474.05 L496.85,466.19 L509.65,466.19 L509.65,458.33 L548.07,450.47 L560.87,448.9 L624.9,434.75" fill="none" stroke="#e377c2" stroke-width="1.5" stroke-linejoin="miter"/>
<path d="M381.6,607.7 L432.82,481.92 L484.04,481.92 L496.85,474.05 L509.65,474.05 L509.65,458.33 L522.46,458.33 L522.46,434.75 L624.9,434.75" fill="none" stroke="#7f7f7f" stroke-width="1.5" stroke-linejoin="miter"/>
<path d="M381.6,607.7 L522.46,513.36 L535.26,489.78 L535.26,474.05 L548.07,474.05 L548.07,466.19 L586.48,466.19 L586.48,450.47 L612.09,450.47 L612.09,442.61 L624.9,434.75" fill="none" stroke="#bcbd22" stroke-width="1.5" stroke-linejoin="miter"/>
<path d="M381.6,607.7 L496.85,576.25 L509.65,544.81 L522.46,529.09 L522.46,521.22 L535.26,513.36 L535.26,489.78 L560.87,489.78 L560.87,474.05 L573.68,474.05 L573.68,466.19 L586.48,466.19 L586.48,458.33 L599.29,458.33 L599.29,442.61 L624.9,442.61" fill="none" stroke="#17becf" stroke-width="1.5" stroke-linejoin="miter"/>
<path d="M463.55,552.67 L471.24,552.67" fill="none" stroke="#d62728" stroke-width="1.5"/>
<path d="M381.6,607.7L624.9,434.75" stroke="#000" stroke-width="1.7" stroke-dasharray="12.9 4.35" stroke-dashoffset="1.6"/>
</g>
<rect x="381.6" y="426.1" width="243.3" height="181.6" fill="none" stroke="#000" stroke-width="2.2"/>
<line x1="381.6" y1="607.7" x2="381.6" y2="612.3" stroke="#000" stroke-width="1.6"/>
<text transform="translate(381.6 625) scale(1.08 1)" font-size="12" font-weight="bold" text-anchor="middle">0.0</text>
<line x1="377" y1="607.7" x2="381.6" y2="607.7" stroke="#000" stroke-width="1.6"/>
<text transform="translate(375.2 611.6) scale(1.08 1)" font-size="12" font-weight="bold" text-anchor="end">0.0</text>
<line x1="430.26" y1="607.7" x2="430.26" y2="612.3" stroke="#000" stroke-width="1.6"/>
<text transform="translate(430.26 625) scale(1.08 1)" font-size="12" font-weight="bold" text-anchor="middle">0.2</text>
<line x1="377" y1="573.11" x2="381.6" y2="573.11" stroke="#000" stroke-width="1.6"/>
<text transform="translate(375.2 577.01) scale(1.08 1)" font-size="12" font-weight="bold" text-anchor="end">0.2</text>
<line x1="478.92" y1="607.7" x2="478.92" y2="612.3" stroke="#000" stroke-width="1.6"/>
<text transform="translate(478.92 625) scale(1.08 1)" font-size="12" font-weight="bold" text-anchor="middle">0.4</text>
<line x1="377" y1="538.52" x2="381.6" y2="538.52" stroke="#000" stroke-width="1.6"/>
<text transform="translate(375.2 542.42) scale(1.08 1)" font-size="12" font-weight="bold" text-anchor="end">0.4</text>
<line x1="527.58" y1="607.7" x2="527.58" y2="612.3" stroke="#000" stroke-width="1.6"/>
<text transform="translate(527.58 625) scale(1.08 1)" font-size="12" font-weight="bold" text-anchor="middle">0.6</text>
<line x1="377" y1="503.93" x2="381.6" y2="503.93" stroke="#000" stroke-width="1.6"/>
<text transform="translate(375.2 507.83) scale(1.08 1)" font-size="12" font-weight="bold" text-anchor="end">0.6</text>
<line x1="576.24" y1="607.7" x2="576.24" y2="612.3" stroke="#000" stroke-width="1.6"/>
<text transform="translate(576.24 625) scale(1.08 1)" font-size="12" font-weight="bold" text-anchor="middle">0.8</text>
<line x1="377" y1="469.34" x2="381.6" y2="469.34" stroke="#000" stroke-width="1.6"/>
<text transform="translate(375.2 473.24) scale(1.08 1)" font-size="12" font-weight="bold" text-anchor="end">0.8</text>
<line x1="624.9" y1="607.7" x2="624.9" y2="612.3" stroke="#000" stroke-width="1.6"/>
<text transform="translate(624.9 625) scale(1.08 1)" font-size="12" font-weight="bold" text-anchor="middle">1.0</text>
<line x1="377" y1="434.75" x2="381.6" y2="434.75" stroke="#000" stroke-width="1.6"/>
<text transform="translate(375.2 438.65) scale(1.08 1)" font-size="12" font-weight="bold" text-anchor="end">1.0</text>
<text x="504.75" y="418.9" font-size="17.1" font-weight="bold" text-anchor="middle">ROC curve (RF)</text>
<text x="502.25" y="641.8" font-size="15.0" font-weight="bold" text-anchor="middle">1-specificity</text>
<text transform="translate(347.4 522.42) rotate(-90) scale(1 1.14)" font-size="14.8" font-weight="bold" text-anchor="middle">Sensiti<tspan dx="1.1">vity</tspan></text>
<g clip-path="url(#clip_LR)">
<clipPath id="clip_LR"><rect x="691" y="426.1" width="243.3" height="181.6"/></clipPath>
<path d="M691,599.84L716.61,599.84" stroke="#9467bd" stroke-width="1.5" stroke-linecap="square"/>
<path d="M691,591.98L729.42,591.98" stroke="#bcbd22" stroke-width="1.5" stroke-linecap="square"/>
<path d="M729.42,591.98L742.22,591.98" stroke="#2ca02c" stroke-width="1.5" stroke-linecap="square"/>
<path d="M691,584.12L703.81,584.12" stroke="#9467bd" stroke-width="1.5" stroke-linecap="square"/>
<path d="M703.81,584.12L716.61,584.12" stroke="#e377c2" stroke-width="1.5" stroke-linecap="square"/>
<path d="M716.61,584.12L729.42,584.12" stroke="#9467bd" stroke-width="1.5" stroke-linecap="square"/>
<path d="M729.42,584.12L742.22,584.12" stroke="#7f7f7f" stroke-width="1.5" stroke-linecap="square"/>
<path d="M742.22,584.12L755.03,584.12" stroke="#d62728" stroke-width="1.5" stroke-linecap="square"/>
<path d="M691,576.25L729.42,576.25" stroke="#8c564b" stroke-width="1.5" stroke-linecap="square"/>
<path d="M729.42,576.25L742.22,576.25" stroke="#bcbd22" stroke-width="1.5" stroke-linecap="square"/>
<path d="M691,568.39L703.81,568.39" stroke="#ff7f0e" stroke-width="1.5" stroke-linecap="square"/>
<path d="M703.81,568.39L716.61,568.39" stroke="#e377c2" stroke-width="1.5" stroke-linecap="square"/>
<path d="M716.61,568.39L729.42,568.39" stroke="#8c564b" stroke-width="1.5" stroke-linecap="square"/>
<path d="M729.42,568.39L742.22,568.39" stroke="#9467bd" stroke-width="1.5" stroke-linecap="square"/>
<path d="M691,560.53L703.81,560.53" stroke="#17becf" stroke-width="1.5" stroke-linecap="square"/>
<path d="M703.81,560.53L716.61,560.53" stroke="#1f77b4" stroke-width="1.5" stroke-linecap="square"/>
<path d="M716.61,560.53L729.42,560.53" stroke="#17becf" stroke-width="1.5" stroke-linecap="square"/>
<path d="M742.22,560.53L767.83,560.53" stroke="#9467bd" stroke-width="1.5" stroke-linecap="square"/>
<path d="M691,552.67L703.81,552.67" stroke="#d62728" stroke-width="1.5" stroke-linecap="square"/>
<path d="M703.81,552.67L716.61,552.67" stroke="#8c564b" stroke-width="1.5" stroke-linecap="square"/>
<path d="M729.42,552.67L742.22,552.67" stroke="#9467bd" stroke-width="1.5" stroke-linecap="square"/>
<path d="M742.22,552.67L755.03,552.67" stroke="#2ca02c" stroke-width="1.5" stroke-linecap="square"/>
<path d="M767.83,552.67L780.64,552.67" stroke="#d62728" stroke-width="1.5" stroke-linecap="square"/>
<path d="M703.81,544.81L742.22,544.81" stroke="#2ca02c" stroke-width="1.5" stroke-linecap="square"/>
<path d="M742.22,544.81L755.03,544.81" stroke="#ff7f0e" stroke-width="1.5" stroke-linecap="square"/>
<path d="M703.81,536.95L755.03,536.95" stroke="#17becf" stroke-width="1.5" stroke-linecap="square"/>
<path d="M755.03,536.95L767.83,536.95" stroke="#bcbd22" stroke-width="1.5" stroke-linecap="square"/>
<path d="M780.64,536.95L793.44,536.95" stroke="#d62728" stroke-width="1.5" stroke-linecap="square"/>
<path d="M729.42,529.09L742.22,529.09" stroke="#7f7f7f" stroke-width="1.5" stroke-linecap="square"/>
<path d="M703.81,521.22L729.42,521.22" stroke="#d62728" stroke-width="1.5" stroke-linecap="square"/>
<path d="M742.22,521.22L767.83,521.22" stroke="#17becf" stroke-width="1.5" stroke-linecap="square"/>
<path d="M767.83,521.22L780.64,521.22" stroke="#bcbd22" stroke-width="1.5" stroke-linecap="square"/>
<path d="M716.61,513.36L729.42,513.36" stroke="#e377c2" stroke-width="1.5" stroke-linecap="square"/>
<path d="M729.42,513.36L742.22,513.36" stroke="#d62728" stroke-width="1.5" stroke-linecap="square"/>
<path d="M755.03,513.36L819.05,513.36" stroke="#17becf" stroke-width="1.5" stroke-linecap="square"/>
<path d="M819.05,513.36L844.66,513.36" stroke="#d62728" stroke-width="1.5" stroke-linecap="square"/>
<path d="M729.42,505.5L742.22,505.5" stroke="#1f77b4" stroke-width="1.5" stroke-linecap="square"/>
<path d="M755.03,505.5L767.83,505.5" stroke="#2ca02c" stroke-width="1.5" stroke-linecap="square"/>
<path d="M767.83,505.5L793.44,505.5" stroke="#9467bd" stroke-width="1.5" stroke-linecap="square"/>
<path d="M793.44,505.5L806.25,505.5" stroke="#ff7f0e" stroke-width="1.5" stroke-linecap="square"/>
<path d="M729.42,497.64L742.22,497.64" stroke="#ff7f0e" stroke-width="1.5" stroke-linecap="square"/>
<path d="M742.22,497.64L755.03,497.64" stroke="#7f7f7f" stroke-width="1.5" stroke-linecap="square"/>
<path d="M755.03,497.64L780.64,497.64" stroke="#2ca02c" stroke-width="1.5" stroke-linecap="square"/>
<path d="M819.05,497.64L831.86,497.64" stroke="#17becf" stroke-width="1.5" stroke-linecap="square"/>
<path d="M729.42,489.78L755.03,489.78" stroke="#8c564b" stroke-width="1.5" stroke-linecap="square"/>
<path d="M755.03,489.78L767.83,489.78" stroke="#d62728" stroke-width="1.5" stroke-linecap="square"/>
<path d="M767.83,489.78L780.64,489.78" stroke="#ff7f0e" stroke-width="1.5" stroke-linecap="square"/>
<path d="M780.64,489.78L793.44,489.78" stroke="#8c564b" stroke-width="1.5" stroke-linecap="square"/>
<path d="M793.44,489.78L806.25,489.78" stroke="#9467bd" stroke-width="1.5" stroke-linecap="square"/>
<path d="M729.42,481.92L767.83,481.92" stroke="#e377c2" stroke-width="1.5" stroke-linecap="square"/>
<path d="M780.64,481.92L793.44,481.92" stroke="#7f7f7f" stroke-width="1.5" stroke-linecap="square"/>
<path d="M793.44,481.92L806.25,481.92" stroke="#bcbd22" stroke-width="1.5" stroke-linecap="square"/>
<path d="M831.86,481.92L857.47,481.92" stroke="#17becf" stroke-width="1.5" stroke-linecap="square"/>
<path d="M857.47,481.92L870.27,481.92" stroke="#d62728" stroke-width="1.5" stroke-linecap="square"/>
<path d="M755.03,474.05L767.83,474.05" stroke="#bcbd22" stroke-width="1.5" stroke-linecap="square"/>
<path d="M767.83,474.05L806.25,474.05" stroke="#e377c2" stroke-width="1.5" stroke-linecap="square"/>
<path d="M806.25,474.05L819.05,474.05" stroke="#9467bd" stroke-width="1.5" stroke-linecap="square"/>
<path d="M857.47,474.05L883.08,474.05" stroke="#17becf" stroke-width="1.5" stroke-linecap="square"/>
<path d="M755.03,466.19L844.66,466.19" stroke="#7f7f7f" stroke-width="1.5" stroke-linecap="square"/>
<path d="M870.27,466.19L883.08,466.19" stroke="#d62728" stroke-width="1.5" stroke-linecap="square"/>
<path d="M780.64,458.33L793.44,458.33" stroke="#d62728" stroke-width="1.5" stroke-linecap="square"/>
<path d="M793.44,458.33L806.25,458.33" stroke="#8c564b" stroke-width="1.5" stroke-linecap="square"/>
<path d="M806.25,458.33L831.86,458.33" stroke="#bcbd22" stroke-width="1.5" stroke-linecap="square"/>
<path d="M831.86,458.33L883.08,458.33" stroke="#8c564b" stroke-width="1.5" stroke-linecap="square"/>
<path d="M767.83,450.47L780.64,450.47" stroke="#bcbd22" stroke-width="1.5" stroke-linecap="square"/>
<path d="M780.64,450.47L793.44,450.47" stroke="#2ca02c" stroke-width="1.5" stroke-linecap="square"/>
<path d="M793.44,450.47L806.25,450.47" stroke="#d62728" stroke-width="1.5" stroke-linecap="square"/>
<path d="M806.25,450.47L831.86,450.47" stroke="#e377c2" stroke-width="1.5" stroke-linecap="square"/>
<path d="M831.86,450.47L857.47,450.47" stroke="#bcbd22" stroke-width="1.5" stroke-linecap="square"/>
<path d="M857.47,450.47L883.08,450.47" stroke="#1f77b4" stroke-width="1.5" stroke-linecap="square"/>
<path d="M883.08,450.47L895.88,450.47" stroke="#8c564b" stroke-width="1.5" stroke-linecap="square"/>
<path d="M895.88,450.47L921.49,450.47" stroke="#d62728" stroke-width="1.5" stroke-linecap="square"/>
<path d="M780.64,442.61L819.05,442.61" stroke="#bcbd22" stroke-width="1.5" stroke-linecap="square"/>
<path d="M819.05,442.61L831.86,442.61" stroke="#d62728" stroke-width="1.5" stroke-linecap="square"/>
<path d="M831.86,442.61L883.08,442.61" stroke="#e377c2" stroke-width="1.5" stroke-linecap="square"/>
<path d="M883.08,442.61L908.69,442.61" stroke="#17becf" stroke-width="1.5" stroke-linecap="square"/>
<path d="M908.69,442.61L921.49,442.61" stroke="#bcbd22" stroke-width="1.5" stroke-linecap="square"/>
<path d="M921.49,442.61L934.3,442.61" stroke="#9467bd" stroke-width="1.5" stroke-linecap="square"/>
<path d="M819.05,434.75L831.86,434.75" stroke="#2ca02c" stroke-width="1.5" stroke-linecap="square"/>
<path d="M831.86,434.75L870.27,434.75" stroke="#7f7f7f" stroke-width="1.5" stroke-linecap="square"/>
<path d="M870.27,434.75L908.69,434.75" stroke="#bcbd22" stroke-width="1.5" stroke-linecap="square"/>
<path d="M908.69,434.75L934.3,434.75" stroke="#17becf" stroke-width="1.5" stroke-linecap="square"/>
<path d="M703.81,607.7L703.81,560.53" stroke="#7f7f7f" stroke-width="1.5" stroke-linecap="square"/>
<path d="M703.81,560.53L703.81,536.95" stroke="#17becf" stroke-width="1.5" stroke-linecap="square"/>
<path d="M703.81,536.95L703.81,521.22" stroke="#d62728" stroke-width="1.5" stroke-linecap="square"/>
<path d="M716.61,599.84L716.61,584.12" stroke="#9467bd" stroke-width="1.5" stroke-linecap="square"/>
<path d="M716.61,584.12L716.61,536.95" stroke="#e377c2" stroke-width="1.5" stroke-linecap="square"/>
<path d="M716.61,536.95L716.61,521.22" stroke="#1f77b4" stroke-width="1.5" stroke-linecap="square"/>
<path d="M716.61,521.22L716.61,513.36" stroke="#e377c2" stroke-width="1.5" stroke-linecap="square"/>
<path d="M729.42,607.7L729.42,591.98" stroke="#2ca02c" stroke-width="1.5" stroke-linecap="square"/>
<path d="M729.42,591.98L729.42,576.25" stroke="#bcbd22" stroke-width="1.5" stroke-linecap="square"/>
<path d="M729.42,576.25L729.42,568.39" stroke="#9467bd" stroke-width="1.5" stroke-linecap="square"/>
<path d="M729.42,568.39L729.42,489.78" stroke="#8c564b" stroke-width="1.5" stroke-linecap="square"/>
<path d="M729.42,489.78L729.42,481.92" stroke="#e377c2" stroke-width="1.5" stroke-linecap="square"/>
<path d="M742.22,591.98L742.22,584.12" stroke="#2ca02c" stroke-width="1.5" stroke-linecap="square"/>
<path d="M742.22,584.12L742.22,576.25" stroke="#7f7f7f" stroke-width="1.5" stroke-linecap="square"/>
<path d="M742.22,576.25L742.22,536.95" stroke="#bcbd22" stroke-width="1.5" stroke-linecap="square"/>
<path d="M742.22,536.95L742.22,529.09" stroke="#e377c2" stroke-width="1.5" stroke-linecap="square"/>
<path d="M742.22,529.09L742.22,497.64" stroke="#7f7f7f" stroke-width="1.5" stroke-linecap="square"/>
<path d="M742.22,497.64L742.22,489.78" stroke="#ff7f0e" stroke-width="1.5" stroke-linecap="square"/>
<path d="M755.03,584.12L755.03,560.53" stroke="#d62728" stroke-width="1.5" stroke-linecap="square"/>
<path d="M755.03,552.67L755.03,536.95" stroke="#2ca02c" stroke-width="1.5" stroke-linecap="square"/>
<path d="M755.03,536.95L755.03,513.36" stroke="#17becf" stroke-width="1.5" stroke-linecap="square"/>
<path d="M755.03,513.36L755.03,497.64" stroke="#2ca02c" stroke-width="1.5" stroke-linecap="square"/>
<path d="M755.03,497.64L755.03,466.19" stroke="#7f7f7f" stroke-width="1.5" stroke-linecap="square"/>
<path d="M767.83,560.53L767.83,536.95" stroke="#9467bd" stroke-width="1.5" stroke-linecap="square"/>
<path d="M767.83,536.95L767.83,521.22" stroke="#bcbd22" stroke-width="1.5" stroke-linecap="square"/>
<path d="M767.83,521.22L767.83,505.5" stroke="#9467bd" stroke-width="1.5" stroke-linecap="square"/>
<path d="M767.83,505.5L767.83,489.78" stroke="#8c564b" stroke-width="1.5" stroke-linecap="square"/>
<path d="M767.83,489.78L767.83,466.19" stroke="#d62728" stroke-width="1.5" stroke-linecap="square"/>
<path d="M767.83,466.19L767.83,450.47" stroke="#bcbd22" stroke-width="1.5" stroke-linecap="square"/>
<path d="M780.64,552.67L780.64,536.95" stroke="#d62728" stroke-width="1.5" stroke-linecap="square"/>
<path d="M780.64,521.22L780.64,513.36" stroke="#bcbd22" stroke-width="1.5" stroke-linecap="square"/>
<path d="M780.64,505.5L780.64,497.64" stroke="#7f7f7f" stroke-width="1.5" stroke-linecap="square"/>
<path d="M780.64,497.64L780.64,450.47" stroke="#2ca02c" stroke-width="1.5" stroke-linecap="square"/>
<path d="M780.64,450.47L780.64,442.61" stroke="#bcbd22" stroke-width="1.5" stroke-linecap="square"/>
<path d="M793.44,536.95L793.44,513.36" stroke="#d62728" stroke-width="1.5" stroke-linecap="square"/>
<path d="M793.44,513.36L793.44,481.92" stroke="#bcbd22" stroke-width="1.5" stroke-linecap="square"/>
<path d="M793.44,481.92L793.44,458.33" stroke="#8c564b" stroke-width="1.5" stroke-linecap="square"/>
<path d="M793.44,458.33L793.44,450.47" stroke="#d62728" stroke-width="1.5" stroke-linecap="square"/>
<path d="M793.44,450.47L793.44,442.61" stroke="#e377c2" stroke-width="1.5" stroke-linecap="square"/>
<path d="M806.25,513.36L806.25,489.78" stroke="#17becf" stroke-width="1.5" stroke-linecap="square"/>
<path d="M806.25,489.78L806.25,481.92" stroke="#9467bd" stroke-width="1.5" stroke-linecap="square"/>
<path d="M806.25,481.92L806.25,458.33" stroke="#bcbd22" stroke-width="1.5" stroke-linecap="square"/>
<path d="M806.25,458.33L806.25,450.47" stroke="#e377c2" stroke-width="1.5" stroke-linecap="square"/>
<path d="M819.05,513.36L819.05,497.64" stroke="#17becf" stroke-width="1.5" stroke-linecap="square"/>
<path d="M819.05,474.05L819.05,466.19" stroke="#9467bd" stroke-width="1.5" stroke-linecap="square"/>
<path d="M819.05,458.33L819.05,450.47" stroke="#8c564b" stroke-width="1.5" stroke-linecap="square"/>
<path d="M819.05,450.47L819.05,442.61" stroke="#d62728" stroke-width="1.5" stroke-linecap="square"/>
<path d="M819.05,442.61L819.05,434.75" stroke="#2ca02c" stroke-width="1.5" stroke-linecap="square"/>
<path d="M831.86,497.64L831.86,481.92" stroke="#17becf" stroke-width="1.5" stroke-linecap="square"/>
<path d="M831.86,466.19L831.86,458.33" stroke="#9467bd" stroke-width="1.5" stroke-linecap="square"/>
<path d="M831.86,458.33L831.86,450.47" stroke="#bcbd22" stroke-width="1.5" stroke-linecap="square"/>
<path d="M831.86,450.47L831.86,442.61" stroke="#e377c2" stroke-width="1.5" stroke-linecap="square"/>
<path d="M831.86,442.61L831.86,434.75" stroke="#7f7f7f" stroke-width="1.5" stroke-linecap="square"/>
<path d="M844.66,513.36L844.66,481.92" stroke="#d62728" stroke-width="1.5" stroke-linecap="square"/>
<path d="M844.66,466.19L844.66,450.47" stroke="#7f7f7f" stroke-width="1.5" stroke-linecap="square"/>
<path d="M844.66,442.61L844.66,434.75" stroke="#9467bd" stroke-width="1.5" stroke-linecap="square"/>
<path d="M857.47,481.92L857.47,474.05" stroke="#17becf" stroke-width="1.5" stroke-linecap="square"/>
<path d="M857.47,458.33L857.47,450.47" stroke="#9467bd" stroke-width="1.5" stroke-linecap="square"/>
<path d="M857.47,450.47L857.47,442.61" stroke="#bcbd22" stroke-width="1.5" stroke-linecap="square"/>
<path d="M857.47,442.61L857.47,434.75" stroke="#7f7f7f" stroke-width="1.5" stroke-linecap="square"/>
<path d="M870.27,481.92L870.27,466.19" stroke="#d62728" stroke-width="1.5" stroke-linecap="square"/>
<path d="M870.27,450.47L870.27,442.61" stroke="#17becf" stroke-width="1.5" stroke-linecap="square"/>
<path d="M870.27,442.61L870.27,434.75" stroke="#bcbd22" stroke-width="1.5" stroke-linecap="square"/>
<path d="M883.08,474.05L883.08,442.61" stroke="#17becf" stroke-width="1.5" stroke-linecap="square"/>
<path d="M883.08,442.61L883.08,434.75" stroke="#d62728" stroke-width="1.5" stroke-linecap="square"/>
<path d="M895.88,450.47L895.88,442.61" stroke="#8c564b" stroke-width="1.5" stroke-linecap="square"/>
<path d="M895.88,442.61L895.88,434.75" stroke="#e377c2" stroke-width="1.5" stroke-linecap="square"/>
<path d="M908.69,442.61L908.69,434.75" stroke="#17becf" stroke-width="1.5" stroke-linecap="square"/>
<path d="M921.49,450.47L921.49,442.61" stroke="#d62728" stroke-width="1.5" stroke-linecap="square"/>
<path d="M921.49,442.61L921.49,434.75" stroke="#bcbd22" stroke-width="1.5" stroke-linecap="square"/>
<path d="M742.22,497.64L755.03,489.78" stroke="#1f77b4" stroke-width="1.5"/>
<path d="M691,599.84L703.81,591.98" stroke="#8c564b" stroke-width="1.5"/>
<path d="M691,607.7L934.3,434.75" stroke="#000" stroke-width="1.7" stroke-dasharray="12.9 4.35" stroke-dashoffset="1.6"/>
</g>
<rect x="691" y="426.1" width="243.3" height="181.6" fill="none" stroke="#000" stroke-width="2.2"/>
<line x1="691" y1="607.7" x2="691" y2="612.3" stroke="#000" stroke-width="1.6"/>
<text transform="translate(691 625) scale(1.08 1)" font-size="12" font-weight="bold" text-anchor="middle">0.0</text>
<line x1="686.4" y1="607.7" x2="691" y2="607.7" stroke="#000" stroke-width="1.6"/>
<text transform="translate(684.6 611.6) scale(1.08 1)" font-size="12" font-weight="bold" text-anchor="end">0.0</text>
<line x1="739.66" y1="607.7" x2="739.66" y2="612.3" stroke="#000" stroke-width="1.6"/>
<text transform="translate(739.66 625) scale(1.08 1)" font-size="12" font-weight="bold" text-anchor="middle">0.2</text>
<line x1="686.4" y1="573.11" x2="691" y2="573.11" stroke="#000" stroke-width="1.6"/>
<text transform="translate(684.6 577.01) scale(1.08 1)" font-size="12" font-weight="bold" text-anchor="end">0.2</text>
<line x1="788.32" y1="607.7" x2="788.32" y2="612.3" stroke="#000" stroke-width="1.6"/>
<text transform="translate(788.32 625) scale(1.08 1)" font-size="12" font-weight="bold" text-anchor="middle">0.4</text>
<line x1="686.4" y1="538.52" x2="691" y2="538.52" stroke="#000" stroke-width="1.6"/>
<text transform="translate(684.6 542.42) scale(1.08 1)" font-size="12" font-weight="bold" text-anchor="end">0.4</text>
<line x1="836.98" y1="607.7" x2="836.98" y2="612.3" stroke="#000" stroke-width="1.6"/>
<text transform="translate(836.98 625) scale(1.08 1)" font-size="12" font-weight="bold" text-anchor="middle">0.6</text>
<line x1="686.4" y1="503.93" x2="691" y2="503.93" stroke="#000" stroke-width="1.6"/>
<text transform="translate(684.6 507.83) scale(1.08 1)" font-size="12" font-weight="bold" text-anchor="end">0.6</text>
<line x1="885.64" y1="607.7" x2="885.64" y2="612.3" stroke="#000" stroke-width="1.6"/>
<text transform="translate(885.64 625) scale(1.08 1)" font-size="12" font-weight="bold" text-anchor="middle">0.8</text>
<line x1="686.4" y1="469.34" x2="691" y2="469.34" stroke="#000" stroke-width="1.6"/>
<text transform="translate(684.6 473.24) scale(1.08 1)" font-size="12" font-weight="bold" text-anchor="end">0.8</text>
<line x1="934.3" y1="607.7" x2="934.3" y2="612.3" stroke="#000" stroke-width="1.6"/>
<text transform="translate(934.3 625) scale(1.08 1)" font-size="12" font-weight="bold" text-anchor="middle">1.0</text>
<line x1="686.4" y1="434.75" x2="691" y2="434.75" stroke="#000" stroke-width="1.6"/>
<text transform="translate(684.6 438.65) scale(1.08 1)" font-size="12" font-weight="bold" text-anchor="end">1.0</text>
<text x="814.15" y="418.9" font-size="17.1" font-weight="bold" text-anchor="middle">ROC curve (LR)</text>
<text x="811.65" y="641.8" font-size="15.0" font-weight="bold" text-anchor="middle">1-specificity</text>
<text transform="translate(656.8 522.42) rotate(-90) scale(1 1.14)" font-size="14.8" font-weight="bold" text-anchor="middle">Sensiti<tspan dx="1.1">vity</tspan></text>
<g clip-path="url(#clip_NB)">
<clipPath id="clip_NB"><rect x="73" y="690.1" width="243.3" height="181.6"/></clipPath>
<path d="M73,863.84L98.61,863.84" stroke="#9467bd" stroke-width="1.5" stroke-linecap="square"/>
<path d="M73,855.98L98.61,855.98" stroke="#8c564b" stroke-width="1.5" stroke-linecap="square"/>
<path d="M111.42,855.98L124.22,855.98" stroke="#bcbd22" stroke-width="1.5" stroke-linecap="square"/>
<path d="M73,848.12L85.81,848.12" stroke="#9467bd" stroke-width="1.5" stroke-linecap="square"/>
<path d="M85.81,848.12L98.61,848.12" stroke="#e377c2" stroke-width="1.5" stroke-linecap="square"/>
<path d="M98.61,848.12L111.42,848.12" stroke="#9467bd" stroke-width="1.5" stroke-linecap="square"/>
<path d="M111.42,848.12L137.03,848.12" stroke="#d62728" stroke-width="1.5" stroke-linecap="square"/>
<path d="M85.81,840.25L98.61,840.25" stroke="#17becf" stroke-width="1.5" stroke-linecap="square"/>
<path d="M98.61,840.25L111.42,840.25" stroke="#8c564b" stroke-width="1.5" stroke-linecap="square"/>
<path d="M73,832.39L85.81,832.39" stroke="#ff7f0e" stroke-width="1.5" stroke-linecap="square"/>
<path d="M85.81,832.39L98.61,832.39" stroke="#e377c2" stroke-width="1.5" stroke-linecap="square"/>
<path d="M111.42,832.39L124.22,832.39" stroke="#9467bd" stroke-width="1.5" stroke-linecap="square"/>
<path d="M73,824.53L85.81,824.53" stroke="#17becf" stroke-width="1.5" stroke-linecap="square"/>
<path d="M85.81,824.53L98.61,824.53" stroke="#1f77b4" stroke-width="1.5" stroke-linecap="square"/>
<path d="M98.61,824.53L111.42,824.53" stroke="#17becf" stroke-width="1.5" stroke-linecap="square"/>
<path d="M124.22,824.53L149.83,824.53" stroke="#9467bd" stroke-width="1.5" stroke-linecap="square"/>
<path d="M73,816.67L85.81,816.67" stroke="#d62728" stroke-width="1.5" stroke-linecap="square"/>
<path d="M85.81,816.67L98.61,816.67" stroke="#8c564b" stroke-width="1.5" stroke-linecap="square"/>
<path d="M111.42,816.67L124.22,816.67" stroke="#9467bd" stroke-width="1.5" stroke-linecap="square"/>
<path d="M124.22,816.67L137.03,816.67" stroke="#2ca02c" stroke-width="1.5" stroke-linecap="square"/>
<path d="M149.83,816.67L162.64,816.67" stroke="#d62728" stroke-width="1.5" stroke-linecap="square"/>
<path d="M85.81,808.81L124.22,808.81" stroke="#2ca02c" stroke-width="1.5" stroke-linecap="square"/>
<path d="M124.22,808.81L149.83,808.81" stroke="#bcbd22" stroke-width="1.5" stroke-linecap="square"/>
<path d="M85.81,800.95L137.03,800.95" stroke="#17becf" stroke-width="1.5" stroke-linecap="square"/>
<path d="M137.03,800.95L149.83,800.95" stroke="#ff7f0e" stroke-width="1.5" stroke-linecap="square"/>
<path d="M162.64,800.95L175.44,800.95" stroke="#d62728" stroke-width="1.5" stroke-linecap="square"/>
<path d="M111.42,793.09L124.22,793.09" stroke="#7f7f7f" stroke-width="1.5" stroke-linecap="square"/>
<path d="M149.83,793.09L162.64,793.09" stroke="#bcbd22" stroke-width="1.5" stroke-linecap="square"/>
<path d="M85.81,785.22L111.42,785.22" stroke="#d62728" stroke-width="1.5" stroke-linecap="square"/>
<path d="M124.22,785.22L162.64,785.22" stroke="#17becf" stroke-width="1.5" stroke-linecap="square"/>
<path d="M162.64,785.22L175.44,785.22" stroke="#bcbd22" stroke-width="1.5" stroke-linecap="square"/>
<path d="M98.61,777.36L111.42,777.36" stroke="#e377c2" stroke-width="1.5" stroke-linecap="square"/>
<path d="M111.42,777.36L124.22,777.36" stroke="#d62728" stroke-width="1.5" stroke-linecap="square"/>
<path d="M137.03,777.36L201.05,777.36" stroke="#17becf" stroke-width="1.5" stroke-linecap="square"/>
<path d="M201.05,777.36L226.66,777.36" stroke="#d62728" stroke-width="1.5" stroke-linecap="square"/>
<path d="M111.42,769.5L124.22,769.5" stroke="#1f77b4" stroke-width="1.5" stroke-linecap="square"/>
<path d="M137.03,769.5L149.83,769.5" stroke="#2ca02c" stroke-width="1.5" stroke-linecap="square"/>
<path d="M149.83,769.5L175.44,769.5" stroke="#9467bd" stroke-width="1.5" stroke-linecap="square"/>
<path d="M175.44,769.5L188.25,769.5" stroke="#ff7f0e" stroke-width="1.5" stroke-linecap="square"/>
<path d="M111.42,761.64L124.22,761.64" stroke="#8c564b" stroke-width="1.5" stroke-linecap="square"/>
<path d="M124.22,761.64L137.03,761.64" stroke="#7f7f7f" stroke-width="1.5" stroke-linecap="square"/>
<path d="M137.03,761.64L162.64,761.64" stroke="#2ca02c" stroke-width="1.5" stroke-linecap="square"/>
<path d="M201.05,761.64L213.86,761.64" stroke="#17becf" stroke-width="1.5" stroke-linecap="square"/>
<path d="M124.22,753.78L137.03,753.78" stroke="#8c564b" stroke-width="1.5" stroke-linecap="square"/>
<path d="M137.03,753.78L149.83,753.78" stroke="#d62728" stroke-width="1.5" stroke-linecap="square"/>
<path d="M149.83,753.78L162.64,753.78" stroke="#ff7f0e" stroke-width="1.5" stroke-linecap="square"/>
<path d="M162.64,753.78L175.44,753.78" stroke="#7f7f7f" stroke-width="1.5" stroke-linecap="square"/>
<path d="M175.44,753.78L188.25,753.78" stroke="#bcbd22" stroke-width="1.5" stroke-linecap="square"/>
<path d="M111.42,745.92L149.83,745.92" stroke="#e377c2" stroke-width="1.5" stroke-linecap="square"/>
<path d="M175.44,745.92L188.25,745.92" stroke="#8c564b" stroke-width="1.5" stroke-linecap="square"/>
<path d="M213.86,745.92L239.47,745.92" stroke="#17becf" stroke-width="1.5" stroke-linecap="square"/>
<path d="M239.47,745.92L252.27,745.92" stroke="#d62728" stroke-width="1.5" stroke-linecap="square"/>
<path d="M137.03,738.05L149.83,738.05" stroke="#bcbd22" stroke-width="1.5" stroke-linecap="square"/>
<path d="M149.83,738.05L188.25,738.05" stroke="#e377c2" stroke-width="1.5" stroke-linecap="square"/>
<path d="M188.25,738.05L201.05,738.05" stroke="#9467bd" stroke-width="1.5" stroke-linecap="square"/>
<path d="M239.47,738.05L265.08,738.05" stroke="#17becf" stroke-width="1.5" stroke-linecap="square"/>
<path d="M137.03,730.19L226.66,730.19" stroke="#7f7f7f" stroke-width="1.5" stroke-linecap="square"/>
<path d="M188.25,730.19L201.05,730.19" stroke="#bcbd22" stroke-width="1.5" stroke-linecap="square"/>
<path d="M252.27,730.19L265.08,730.19" stroke="#d62728" stroke-width="1.5" stroke-linecap="square"/>
<path d="M162.64,722.33L175.44,722.33" stroke="#d62728" stroke-width="1.5" stroke-linecap="square"/>
<path d="M175.44,722.33L265.08,722.33" stroke="#8c564b" stroke-width="1.5" stroke-linecap="square"/>
<path d="M201.05,722.33L213.86,722.33" stroke="#bcbd22" stroke-width="1.5" stroke-linecap="square"/>
<path d="M149.83,714.47L162.64,714.47" stroke="#bcbd22" stroke-width="1.5" stroke-linecap="square"/>
<path d="M162.64,714.47L175.44,714.47" stroke="#2ca02c" stroke-width="1.5" stroke-linecap="square"/>
<path d="M175.44,714.47L188.25,714.47" stroke="#d62728" stroke-width="1.5" stroke-linecap="square"/>
<path d="M188.25,714.47L213.86,714.47" stroke="#e377c2" stroke-width="1.5" stroke-linecap="square"/>
<path d="M213.86,714.47L239.47,714.47" stroke="#bcbd22" stroke-width="1.5" stroke-linecap="square"/>
<path d="M239.47,714.47L265.08,714.47" stroke="#1f77b4" stroke-width="1.5" stroke-linecap="square"/>
<path d="M265.08,714.47L277.88,714.47" stroke="#8c564b" stroke-width="1.5" stroke-linecap="square"/>
<path d="M277.88,714.47L303.49,714.47" stroke="#d62728" stroke-width="1.5" stroke-linecap="square"/>
<path d="M162.64,706.61L201.05,706.61" stroke="#bcbd22" stroke-width="1.5" stroke-linecap="square"/>
<path d="M201.05,706.61L213.86,706.61" stroke="#d62728" stroke-width="1.5" stroke-linecap="square"/>
<path d="M213.86,706.61L265.08,706.61" stroke="#e377c2" stroke-width="1.5" stroke-linecap="square"/>
<path d="M265.08,706.61L290.69,706.61" stroke="#17becf" stroke-width="1.5" stroke-linecap="square"/>
<path d="M290.69,706.61L303.49,706.61" stroke="#bcbd22" stroke-width="1.5" stroke-linecap="square"/>
<path d="M303.49,706.61L316.3,706.61" stroke="#9467bd" stroke-width="1.5" stroke-linecap="square"/>
<path d="M201.05,698.75L213.86,698.75" stroke="#2ca02c" stroke-width="1.5" stroke-linecap="square"/>
<path d="M213.86,698.75L226.66,698.75" stroke="#e377c2" stroke-width="1.5" stroke-linecap="square"/>
<path d="M226.66,698.75L252.27,698.75" stroke="#7f7f7f" stroke-width="1.5" stroke-linecap="square"/>
<path d="M252.27,698.75L290.69,698.75" stroke="#bcbd22" stroke-width="1.5" stroke-linecap="square"/>
<path d="M290.69,698.75L316.3,698.75" stroke="#17becf" stroke-width="1.5" stroke-linecap="square"/>
<path d="M85.81,871.7L85.81,824.53" stroke="#7f7f7f" stroke-width="1.5" stroke-linecap="square"/>
<path d="M85.81,824.53L85.81,800.95" stroke="#17becf" stroke-width="1.5" stroke-linecap="square"/>
<path d="M85.81,800.95L85.81,785.22" stroke="#d62728" stroke-width="1.5" stroke-linecap="square"/>
<path d="M98.61,863.84L98.61,848.12" stroke="#9467bd" stroke-width="1.5" stroke-linecap="square"/>
<path d="M98.61,848.12L98.61,800.95" stroke="#e377c2" stroke-width="1.5" stroke-linecap="square"/>
<path d="M98.61,800.95L98.61,785.22" stroke="#1f77b4" stroke-width="1.5" stroke-linecap="square"/>
<path d="M98.61,785.22L98.61,777.36" stroke="#e377c2" stroke-width="1.5" stroke-linecap="square"/>
<path d="M111.42,871.7L111.42,855.98" stroke="#bcbd22" stroke-width="1.5" stroke-linecap="square"/>
<path d="M111.42,848.12L111.42,840.25" stroke="#9467bd" stroke-width="1.5" stroke-linecap="square"/>
<path d="M111.42,840.25L111.42,761.64" stroke="#8c564b" stroke-width="1.5" stroke-linecap="square"/>
<path d="M111.42,761.64L111.42,745.92" stroke="#e377c2" stroke-width="1.5" stroke-linecap="square"/>
<path d="M124.22,855.98L124.22,808.81" stroke="#bcbd22" stroke-width="1.5" stroke-linecap="square"/>
<path d="M124.22,808.81L124.22,800.95" stroke="#2ca02c" stroke-width="1.5" stroke-linecap="square"/>
<path d="M124.22,800.95L124.22,793.09" stroke="#e377c2" stroke-width="1.5" stroke-linecap="square"/>
<path d="M124.22,793.09L124.22,761.64" stroke="#7f7f7f" stroke-width="1.5" stroke-linecap="square"/>
<path d="M124.22,761.64L124.22,753.78" stroke="#8c564b" stroke-width="1.5" stroke-linecap="square"/>
<path d="M137.03,848.12L137.03,824.53" stroke="#d62728" stroke-width="1.5" stroke-linecap="square"/>
<path d="M137.03,816.67L137.03,800.95" stroke="#2ca02c" stroke-width="1.5" stroke-linecap="square"/>
<path d="M137.03,800.95L137.03,777.36" stroke="#17becf" stroke-width="1.5" stroke-linecap="square"/>
<path d="M137.03,777.36L137.03,761.64" stroke="#2ca02c" stroke-width="1.5" stroke-linecap="square"/>
<path d="M137.03,761.64L137.03,730.19" stroke="#7f7f7f" stroke-width="1.5" stroke-linecap="square"/>
<path d="M149.83,824.53L149.83,808.81" stroke="#9467bd" stroke-width="1.5" stroke-linecap="square"/>
<path d="M149.83,808.81L149.83,793.09" stroke="#bcbd22" stroke-width="1.5" stroke-linecap="square"/>
<path d="M149.83,793.09L149.83,769.5" stroke="#9467bd" stroke-width="1.5" stroke-linecap="square"/>
<path d="M149.83,769.5L149.83,753.78" stroke="#7f7f7f" stroke-width="1.5" stroke-linecap="square"/>
<path d="M149.83,753.78L149.83,730.19" stroke="#d62728" stroke-width="1.5" stroke-linecap="square"/>
<path d="M149.83,730.19L149.83,714.47" stroke="#bcbd22" stroke-width="1.5" stroke-linecap="square"/>
<path d="M162.64,816.67L162.64,800.95" stroke="#d62728" stroke-width="1.5" stroke-linecap="square"/>
<path d="M162.64,793.09L162.64,785.22" stroke="#bcbd22" stroke-width="1.5" stroke-linecap="square"/>
<path d="M162.64,785.22L162.64,777.36" stroke="#17becf" stroke-width="1.5" stroke-linecap="square"/>
<path d="M162.64,769.5L162.64,761.64" stroke="#7f7f7f" stroke-width="1.5" stroke-linecap="square"/>
<path d="M162.64,761.64L162.64,714.47" stroke="#2ca02c" stroke-width="1.5" stroke-linecap="square"/>
<path d="M162.64,714.47L162.64,706.61" stroke="#bcbd22" stroke-width="1.5" stroke-linecap="square"/>
<path d="M175.44,800.95L175.44,785.22" stroke="#d62728" stroke-width="1.5" stroke-linecap="square"/>
<path d="M175.44,785.22L175.44,753.78" stroke="#bcbd22" stroke-width="1.5" stroke-linecap="square"/>
<path d="M175.44,753.78L175.44,730.19" stroke="#7f7f7f" stroke-width="1.5" stroke-linecap="square"/>
<path d="M175.44,730.19L175.44,722.33" stroke="#8c564b" stroke-width="1.5" stroke-linecap="square"/>
<path d="M175.44,722.33L175.44,714.47" stroke="#d62728" stroke-width="1.5" stroke-linecap="square"/>
<path d="M175.44,714.47L175.44,706.61" stroke="#e377c2" stroke-width="1.5" stroke-linecap="square"/>
<path d="M188.25,777.36L188.25,753.78" stroke="#17becf" stroke-width="1.5" stroke-linecap="square"/>
<path d="M188.25,753.78L188.25,730.19" stroke="#bcbd22" stroke-width="1.5" stroke-linecap="square"/>
<path d="M188.25,730.19L188.25,714.47" stroke="#e377c2" stroke-width="1.5" stroke-linecap="square"/>
<path d="M201.05,777.36L201.05,761.64" stroke="#17becf" stroke-width="1.5" stroke-linecap="square"/>
<path d="M201.05,738.05L201.05,730.19" stroke="#9467bd" stroke-width="1.5" stroke-linecap="square"/>
<path d="M201.05,730.19L201.05,722.33" stroke="#bcbd22" stroke-width="1.5" stroke-linecap="square"/>
<path d="M201.05,722.33L201.05,714.47" stroke="#8c564b" stroke-width="1.5" stroke-linecap="square"/>
<path d="M201.05,714.47L201.05,706.61" stroke="#d62728" stroke-width="1.5" stroke-linecap="square"/>
<path d="M201.05,706.61L201.05,698.75" stroke="#2ca02c" stroke-width="1.5" stroke-linecap="square"/>
<path d="M213.86,761.64L213.86,745.92" stroke="#17becf" stroke-width="1.5" stroke-linecap="square"/>
<path d="M213.86,730.19L213.86,722.33" stroke="#9467bd" stroke-width="1.5" stroke-linecap="square"/>
<path d="M213.86,722.33L213.86,714.47" stroke="#bcbd22" stroke-width="1.5" stroke-linecap="square"/>
<path d="M213.86,714.47L213.86,698.75" stroke="#e377c2" stroke-width="1.5" stroke-linecap="square"/>
<path d="M226.66,777.36L226.66,745.92" stroke="#d62728" stroke-width="1.5" stroke-linecap="square"/>
<path d="M226.66,730.19L226.66,714.47" stroke="#7f7f7f" stroke-width="1.5" stroke-linecap="square"/>
<path d="M226.66,706.61L226.66,698.75" stroke="#9467bd" stroke-width="1.5" stroke-linecap="square"/>
<path d="M239.47,745.92L239.47,738.05" stroke="#17becf" stroke-width="1.5" stroke-linecap="square"/>
<path d="M239.47,722.33L239.47,714.47" stroke="#9467bd" stroke-width="1.5" stroke-linecap="square"/>
<path d="M239.47,714.47L239.47,706.61" stroke="#bcbd22" stroke-width="1.5" stroke-linecap="square"/>
<path d="M239.47,706.61L239.47,698.75" stroke="#7f7f7f" stroke-width="1.5" stroke-linecap="square"/>
<path d="M252.27,745.92L252.27,730.19" stroke="#d62728" stroke-width="1.5" stroke-linecap="square"/>
<path d="M252.27,714.47L252.27,706.61" stroke="#17becf" stroke-width="1.5" stroke-linecap="square"/>
<path d="M252.27,706.61L252.27,698.75" stroke="#bcbd22" stroke-width="1.5" stroke-linecap="square"/>
<path d="M265.08,738.05L265.08,706.61" stroke="#17becf" stroke-width="1.5" stroke-linecap="square"/>
<path d="M265.08,706.61L265.08,698.75" stroke="#d62728" stroke-width="1.5" stroke-linecap="square"/>
<path d="M277.88,714.47L277.88,706.61" stroke="#8c564b" stroke-width="1.5" stroke-linecap="square"/>
<path d="M277.88,706.61L277.88,698.75" stroke="#e377c2" stroke-width="1.5" stroke-linecap="square"/>
<path d="M290.69,706.61L290.69,698.75" stroke="#17becf" stroke-width="1.5" stroke-linecap="square"/>
<path d="M303.49,714.47L303.49,706.61" stroke="#d62728" stroke-width="1.5" stroke-linecap="square"/>
<path d="M303.49,706.61L303.49,698.75" stroke="#bcbd22" stroke-width="1.5" stroke-linecap="square"/>
<path d="M124.22,761.64L137.03,753.78" stroke="#1f77b4" stroke-width="1.5"/>
<path d="M73,871.7L316.3,698.75" stroke="#000" stroke-width="1.7" stroke-dasharray="12.9 4.35" stroke-dashoffset="1.6"/>
</g>
<rect x="73" y="690.1" width="243.3" height="181.6" fill="none" stroke="#000" stroke-width="2.2"/>
<line x1="73" y1="871.7" x2="73" y2="876.3" stroke="#000" stroke-width="1.6"/>
<text transform="translate(73 889) scale(1.08 1)" font-size="12" font-weight="bold" text-anchor="middle">0.0</text>
<line x1="68.4" y1="871.7" x2="73" y2="871.7" stroke="#000" stroke-width="1.6"/>
<text transform="translate(66.6 875.6) scale(1.08 1)" font-size="12" font-weight="bold" text-anchor="end">0.0</text>
<line x1="121.66" y1="871.7" x2="121.66" y2="876.3" stroke="#000" stroke-width="1.6"/>
<text transform="translate(121.66 889) scale(1.08 1)" font-size="12" font-weight="bold" text-anchor="middle">0.2</text>
<line x1="68.4" y1="837.11" x2="73" y2="837.11" stroke="#000" stroke-width="1.6"/>
<text transform="translate(66.6 841.01) scale(1.08 1)" font-size="12" font-weight="bold" text-anchor="end">0.2</text>
<line x1="170.32" y1="871.7" x2="170.32" y2="876.3" stroke="#000" stroke-width="1.6"/>
<text transform="translate(170.32 889) scale(1.08 1)" font-size="12" font-weight="bold" text-anchor="middle">0.4</text>
<line x1="68.4" y1="802.52" x2="73" y2="802.52" stroke="#000" stroke-width="1.6"/>
<text transform="translate(66.6 806.42) scale(1.08 1)" font-size="12" font-weight="bold" text-anchor="end">0.4</text>
<line x1="218.98" y1="871.7" x2="218.98" y2="876.3" stroke="#000" stroke-width="1.6"/>
<text transform="translate(218.98 889) scale(1.08 1)" font-size="12" font-weight="bold" text-anchor="middle">0.6</text>
<line x1="68.4" y1="767.93" x2="73" y2="767.93" stroke="#000" stroke-width="1.6"/>
<text transform="translate(66.6 771.83) scale(1.08 1)" font-size="12" font-weight="bold" text-anchor="end">0.6</text>
<line x1="267.64" y1="871.7" x2="267.64" y2="876.3" stroke="#000" stroke-width="1.6"/>
<text transform="translate(267.64 889) scale(1.08 1)" font-size="12" font-weight="bold" text-anchor="middle">0.8</text>
<line x1="68.4" y1="733.34" x2="73" y2="733.34" stroke="#000" stroke-width="1.6"/>
<text transform="translate(66.6 737.24) scale(1.08 1)" font-size="12" font-weight="bold" text-anchor="end">0.8</text>
<line x1="316.3" y1="871.7" x2="316.3" y2="876.3" stroke="#000" stroke-width="1.6"/>
<text transform="translate(316.3 889) scale(1.08 1)" font-size="12" font-weight="bold" text-anchor="middle">1.0</text>
<line x1="68.4" y1="698.75" x2="73" y2="698.75" stroke="#000" stroke-width="1.6"/>
<text transform="translate(66.6 702.65) scale(1.08 1)" font-size="12" font-weight="bold" text-anchor="end">1.0</text>
<text x="196.15" y="682.9" font-size="17.1" font-weight="bold" text-anchor="middle">ROC curve (NB)</text>
<text x="193.65" y="905.8" font-size="15.0" font-weight="bold" text-anchor="middle">1-specificity</text>
<text transform="translate(38.8 786.42) rotate(-90) scale(1 1.14)" font-size="14.8" font-weight="bold" text-anchor="middle">Sensiti<tspan dx="1.1">vity</tspan></text>
<g clip-path="url(#clip_GB)">
<clipPath id="clip_GB"><rect x="381.6" y="690.1" width="243.3" height="181.6"/></clipPath>
<path d="M381.6,871.7 L420.02,777.36 L432.82,769.5 L445.63,761.64 L458.43,753.78 L496.85,753.78 L496.85,722.33 L509.65,722.33 L535.26,714.47 L586.48,706.61 L612.09,701.89 L624.9,698.75" fill="none" stroke="#1f77b4" stroke-width="1.5" stroke-linejoin="miter"/>
<path d="M381.6,871.7 L394.41,824.53 L407.21,814.31 L432.82,800.95 L458.43,793.09 L458.43,785.22 L471.24,777.36 L496.85,761.64 L509.65,753.78 L522.46,745.92 L535.26,722.33 L560.87,706.61 L586.48,702.68 L624.9,698.75" fill="none" stroke="#ff7f0e" stroke-width="1.5" stroke-linejoin="miter"/>
<path d="M381.6,871.7 L394.41,824.53 L420.02,769.5 L509.65,769.5 L522.46,769.5 L522.46,738.05 L560.87,738.05 L560.87,698.75 L624.9,698.75" fill="none" stroke="#2ca02c" stroke-width="1.5" stroke-linejoin="miter"/>
<path d="M381.6,871.7 L394.41,863.84 L420.02,832.39 L432.82,832.39 L432.82,830.03 L445.63,808.81 L445.63,800.95 L458.43,790.73 L471.24,781.29 L484.04,765.57 L496.85,753.78 L509.65,753.78 L522.46,745.92 L548.07,738.05 L573.68,730.19 L586.48,722.33 L586.48,714.47 L599.29,706.61 L624.9,698.75" fill="none" stroke="#d62728" stroke-width="1.5" stroke-linejoin="miter"/>
<path d="M381.6,871.7 L420.02,832.39 L420.02,785.22 L432.82,775 L445.63,764 L458.43,753.78 L458.43,744.34 L458.43,722.33 L484.04,714.47 L496.85,714.47 L522.46,706.61 L535.26,698.75 L624.9,698.75" fill="none" stroke="#9467bd" stroke-width="1.5" stroke-linejoin="miter"/>
<path d="M381.6,871.7 L420.02,826.89 L432.82,808.81 L445.63,793.09 L458.43,777.36 L471.24,777.36 L471.24,753.78 L509.65,753.78 L522.46,738.05 L548.07,730.19 L548.07,722.33 L560.87,714.47 L573.68,706.61 L586.48,698.75 L624.9,698.75" fill="none" stroke="#8c564b" stroke-width="1.5" stroke-linejoin="miter"/>
<path d="M381.6,832.39 L407.21,807.24 L407.21,785.22 L458.43,785.22 L458.43,761.64 L484.04,761.64 L484.04,738.05 L496.85,730.19 L496.85,714.47 L535.26,714.47 L535.26,698.75 L624.9,698.75" fill="none" stroke="#e377c2" stroke-width="1.5" stroke-linejoin="miter"/>
<path d="M381.6,871.7 L407.21,863.84 L420.02,863.84 L432.82,840.25 L432.82,808.81 L445.63,777.36 L458.43,757.71 L471.24,750.63 L471.24,745.92 L522.46,745.92 L522.46,738.05 L535.26,730.19 L548.07,722.33 L560.87,714.47 L586.48,698.75 L624.9,698.75" fill="none" stroke="#7f7f7f" stroke-width="1.5" stroke-linejoin="miter"/>
<path d="M381.6,871.7 L394.41,808.81 L432.82,753.78 L445.63,753.78 L445.63,756.92 L458.43,751.42 L496.85,738.05 L496.85,714.47 L509.65,706.61 L522.46,706.61 L548.07,698.75 L624.9,698.75" fill="none" stroke="#bcbd22" stroke-width="1.5" stroke-linejoin="miter"/>
<path d="M381.6,867.77 L407.21,824.53 L420.02,824.53 L432.82,808.81 L471.24,800.95 L471.24,785.22 L484.04,777.36 L496.85,769.5 L496.85,761.64 L509.65,761.64 L509.65,753.78 L535.26,753.78 L548.07,745.92 L548.07,730.19 L560.87,730.19 L560.87,714.47 L573.68,714.47 L573.68,706.61 L599.29,706.61 L624.9,698.75" fill="none" stroke="#17becf" stroke-width="1.5" stroke-linejoin="miter"/>
<path d="M381.6,871.7 L420.02,777.36 L420.02,785.22 L432.82,767.93 L445.63,761.64 L458.43,753.78 L471.24,749.06 L496.85,738.05 L496.85,730.19 L509.65,730.19 L522.46,722.33 L548.07,706.61 L586.48,703.46 L624.9,698.75" fill="none" stroke="#1f77b4" stroke-width="1.5" stroke-linejoin="miter"/>
<path d="M381.6,871.7 L407.21,800.95 L432.82,777.36 L445.63,761.64 L445.63,753.78 L458.43,745.92 L471.24,745.92 L471.24,738.05 L484.04,730.19 L484.04,722.33 L509.65,722.33 L509.65,698.75 L624.9,698.75" fill="none" stroke="#ff7f0e" stroke-width="1.5" stroke-linejoin="miter"/>
<path d="M381.6,871.7 L394.41,824.53 L432.82,800.95 L432.82,777.36 L445.63,777.36 L471.24,769.5 L509.65,769.5 L522.46,761.64 L522.46,738.05 L535.26,738.05 L548.07,722.33 L560.87,714.47 L573.68,706.61 L624.9,698.75" fill="none" stroke="#2ca02c" stroke-width="1.5" stroke-linejoin="miter"/>
<path d="M381.6,816.67 L420.02,785.22 L445.63,769.5 L458.43,761.64 L471.24,741.99 L484.04,722.33 L496.85,714.47 L509.65,706.61 L624.9,698.75" fill="none" stroke="#d62728" stroke-width="1.5" stroke-linejoin="miter"/>
<path d="M381.6,871.7 L420.02,832.39 L432.82,824.53 L445.63,769.5 L458.43,753.78 L471.24,745.92 L573.68,745.92 L573.68,714.47 L599.29,714.47 L612.09,703.46 L624.9,698.75" fill="none" stroke="#9467bd" stroke-width="1.5" stroke-linejoin="miter"/>
<path d="M381.6,871.7 L413.61,785.22 L420.02,761.64 L445.63,761.64 L458.43,753.78 L458.43,714.47 L522.46,714.47 L522.46,706.61 L548.07,706.61 L560.87,698.75 L624.9,698.75" fill="none" stroke="#8c564b" stroke-width="1.5" stroke-linejoin="miter"/>
<path d="M381.6,871.7 L394.41,816.67 L407.21,798.59 L420.02,785.22 L445.63,777.36 L445.63,767.14 L458.43,761.64 L471.24,749.85 L484.04,745.92 L496.85,735.7 L496.85,730.19 L522.46,730.19 L522.46,722.33 L535.26,722.33 L535.26,698.75 L624.9,698.75" fill="none" stroke="#e377c2" stroke-width="1.5" stroke-linejoin="miter"/>
<path d="M381.6,871.7 L394.41,820.6 L420.02,777.36 L432.82,753.78 L458.43,738.05 L471.24,722.33 L496.85,722.33 L496.85,706.61 L522.46,706.61 L522.46,698.75 L624.9,698.75" fill="none" stroke="#7f7f7f" stroke-width="1.5" stroke-linejoin="miter"/>
<path d="M381.6,871.7 L394.41,808.81 L432.82,793.09 L458.43,793.09 L484.04,793.09 L484.04,777.36 L509.65,777.36 L522.46,761.64 L535.26,745.92 L548.07,738.05 L573.68,730.19 L599.29,730.19 L599.29,698.75 L624.9,698.75" fill="none" stroke="#bcbd22" stroke-width="1.5" stroke-linejoin="miter"/>
<path d="M381.6,863.84 L407.21,855.98 L445.63,840.25 L496.85,832.39 L496.85,761.64 L509.65,761.64 L509.65,753.78 L535.26,753.78 L535.26,730.19 L573.68,730.19 L573.68,722.33 L624.9,714.47" fill="none" stroke="#17becf" stroke-width="1.5" stroke-linejoin="miter"/>
<path d="M381.6,871.7L624.9,698.75" stroke="#000" stroke-width="1.7" stroke-dasharray="12.9 4.35" stroke-dashoffset="1.6"/>
</g>
<rect x="381.6" y="690.1" width="243.3" height="181.6" fill="none" stroke="#000" stroke-width="2.2"/>
<line x1="381.6" y1="871.7" x2="381.6" y2="876.3" stroke="#000" stroke-width="1.6"/>
<text transform="translate(381.6 889) scale(1.08 1)" font-size="12" font-weight="bold" text-anchor="middle">0.0</text>
<line x1="377" y1="871.7" x2="381.6" y2="871.7" stroke="#000" stroke-width="1.6"/>
<text transform="translate(375.2 875.6) scale(1.08 1)" font-size="12" font-weight="bold" text-anchor="end">0.0</text>
<line x1="430.26" y1="871.7" x2="430.26" y2="876.3" stroke="#000" stroke-width="1.6"/>
<text transform="translate(430.26 889) scale(1.08 1)" font-size="12" font-weight="bold" text-anchor="middle">0.2</text>
<line x1="377" y1="837.11" x2="381.6" y2="837.11" stroke="#000" stroke-width="1.6"/>
<text transform="translate(375.2 841.01) scale(1.08 1)" font-size="12" font-weight="bold" text-anchor="end">0.2</text>
<line x1="478.92" y1="871.7" x2="478.92" y2="876.3" stroke="#000" stroke-width="1.6"/>
<text transform="translate(478.92 889) scale(1.08 1)" font-size="12" font-weight="bold" text-anchor="middle">0.4</text>
<line x1="377" y1="802.52" x2="381.6" y2="802.52" stroke="#000" stroke-width="1.6"/>
<text transform="translate(375.2 806.42) scale(1.08 1)" font-size="12" font-weight="bold" text-anchor="end">0.4</text>
<line x1="527.58" y1="871.7" x2="527.58" y2="876.3" stroke="#000" stroke-width="1.6"/>
<text transform="translate(527.58 889) scale(1.08 1)" font-size="12" font-weight="bold" text-anchor="middle">0.6</text>
<line x1="377" y1="767.93" x2="381.6" y2="767.93" stroke="#000" stroke-width="1.6"/>
<text transform="translate(375.2 771.83) scale(1.08 1)" font-size="12" font-weight="bold" text-anchor="end">0.6</text>
<line x1="576.24" y1="871.7" x2="576.24" y2="876.3" stroke="#000" stroke-width="1.6"/>
<text transform="translate(576.24 889) scale(1.08 1)" font-size="12" font-weight="bold" text-anchor="middle">0.8</text>
<line x1="377" y1="733.34" x2="381.6" y2="733.34" stroke="#000" stroke-width="1.6"/>
<text transform="translate(375.2 737.24) scale(1.08 1)" font-size="12" font-weight="bold" text-anchor="end">0.8</text>
<line x1="624.9" y1="871.7" x2="624.9" y2="876.3" stroke="#000" stroke-width="1.6"/>
<text transform="translate(624.9 889) scale(1.08 1)" font-size="12" font-weight="bold" text-anchor="middle">1.0</text>
<line x1="377" y1="698.75" x2="381.6" y2="698.75" stroke="#000" stroke-width="1.6"/>
<text transform="translate(375.2 702.65) scale(1.08 1)" font-size="12" font-weight="bold" text-anchor="end">1.0</text>
<text x="504.75" y="682.9" font-size="17.1" font-weight="bold" text-anchor="middle">ROC curve (GB)</text>
<text x="502.25" y="905.8" font-size="15.0" font-weight="bold" text-anchor="middle">1-specificity</text>
<text transform="translate(347.4 786.42) rotate(-90) scale(1 1.14)" font-size="14.8" font-weight="bold" text-anchor="middle">Sensiti<tspan dx="1.1">vity</tspan></text>
<g clip-path="url(#clip_MLP)">
<clipPath id="clip_MLP"><rect x="691" y="690.1" width="243.3" height="181.6"/></clipPath>
<path d="M729.42,855.98L742.22,855.98" stroke="#d62728" stroke-width="1.5" stroke-linecap="square"/>
<path d="M742.22,840.25L755.03,840.25" stroke="#d62728" stroke-width="1.5" stroke-linecap="square"/>
<path d="M780.64,793.09L831.86,793.09" stroke="#d62728" stroke-width="1.5" stroke-linecap="square"/>
<path d="M691,863.84L716.61,863.84" stroke="#9467bd" stroke-width="1.5" stroke-linecap="square"/>
<path d="M691,855.98L729.42,855.98" stroke="#bcbd22" stroke-width="1.5" stroke-linecap="square"/>
<path d="M729.42,855.98L742.22,855.98" stroke="#2ca02c" stroke-width="1.5" stroke-linecap="square"/>
<path d="M691,848.12L703.81,848.12" stroke="#9467bd" stroke-width="1.5" stroke-linecap="square"/>
<path d="M703.81,848.12L716.61,848.12" stroke="#e377c2" stroke-width="1.5" stroke-linecap="square"/>
<path d="M716.61,848.12L729.42,848.12" stroke="#9467bd" stroke-width="1.5" stroke-linecap="square"/>
<path d="M729.42,848.12L742.22,848.12" stroke="#7f7f7f" stroke-width="1.5" stroke-linecap="square"/>
<path d="M691,840.25L729.42,840.25" stroke="#8c564b" stroke-width="1.5" stroke-linecap="square"/>
<path d="M729.42,840.25L742.22,840.25" stroke="#bcbd22" stroke-width="1.5" stroke-linecap="square"/>
<path d="M691,832.39L703.81,832.39" stroke="#ff7f0e" stroke-width="1.5" stroke-linecap="square"/>
<path d="M703.81,832.39L716.61,832.39" stroke="#e377c2" stroke-width="1.5" stroke-linecap="square"/>
<path d="M716.61,832.39L729.42,832.39" stroke="#8c564b" stroke-width="1.5" stroke-linecap="square"/>
<path d="M729.42,832.39L742.22,832.39" stroke="#9467bd" stroke-width="1.5" stroke-linecap="square"/>
<path d="M691,824.53L703.81,824.53" stroke="#17becf" stroke-width="1.5" stroke-linecap="square"/>
<path d="M703.81,824.53L716.61,824.53" stroke="#1f77b4" stroke-width="1.5" stroke-linecap="square"/>
<path d="M716.61,824.53L729.42,824.53" stroke="#17becf" stroke-width="1.5" stroke-linecap="square"/>
<path d="M742.22,824.53L767.83,824.53" stroke="#9467bd" stroke-width="1.5" stroke-linecap="square"/>
<path d="M691,816.67L703.81,816.67" stroke="#d62728" stroke-width="1.5" stroke-linecap="square"/>
<path d="M703.81,816.67L716.61,816.67" stroke="#8c564b" stroke-width="1.5" stroke-linecap="square"/>
<path d="M729.42,816.67L742.22,816.67" stroke="#9467bd" stroke-width="1.5" stroke-linecap="square"/>
<path d="M742.22,816.67L755.03,816.67" stroke="#2ca02c" stroke-width="1.5" stroke-linecap="square"/>
<path d="M703.81,808.81L742.22,808.81" stroke="#2ca02c" stroke-width="1.5" stroke-linecap="square"/>
<path d="M742.22,808.81L755.03,808.81" stroke="#ff7f0e" stroke-width="1.5" stroke-linecap="square"/>
<path d="M703.81,800.95L755.03,800.95" stroke="#17becf" stroke-width="1.5" stroke-linecap="square"/>
<path d="M755.03,800.95L767.83,800.95" stroke="#bcbd22" stroke-width="1.5" stroke-linecap="square"/>
<path d="M729.42,793.09L742.22,793.09" stroke="#7f7f7f" stroke-width="1.5" stroke-linecap="square"/>
<path d="M703.81,785.22L729.42,785.22" stroke="#d62728" stroke-width="1.5" stroke-linecap="square"/>
<path d="M742.22,785.22L767.83,785.22" stroke="#17becf" stroke-width="1.5" stroke-linecap="square"/>
<path d="M767.83,785.22L780.64,785.22" stroke="#bcbd22" stroke-width="1.5" stroke-linecap="square"/>
<path d="M716.61,777.36L729.42,777.36" stroke="#e377c2" stroke-width="1.5" stroke-linecap="square"/>
<path d="M729.42,777.36L742.22,777.36" stroke="#d62728" stroke-width="1.5" stroke-linecap="square"/>
<path d="M755.03,777.36L819.05,777.36" stroke="#17becf" stroke-width="1.5" stroke-linecap="square"/>
<path d="M729.42,769.5L742.22,769.5" stroke="#1f77b4" stroke-width="1.5" stroke-linecap="square"/>
<path d="M755.03,769.5L767.83,769.5" stroke="#2ca02c" stroke-width="1.5" stroke-linecap="square"/>
<path d="M767.83,769.5L793.44,769.5" stroke="#9467bd" stroke-width="1.5" stroke-linecap="square"/>
<path d="M793.44,769.5L806.25,769.5" stroke="#ff7f0e" stroke-width="1.5" stroke-linecap="square"/>
<path d="M729.42,761.64L742.22,761.64" stroke="#ff7f0e" stroke-width="1.5" stroke-linecap="square"/>
<path d="M742.22,761.64L755.03,761.64" stroke="#7f7f7f" stroke-width="1.5" stroke-linecap="square"/>
<path d="M755.03,761.64L780.64,761.64" stroke="#2ca02c" stroke-width="1.5" stroke-linecap="square"/>
<path d="M819.05,761.64L831.86,761.64" stroke="#17becf" stroke-width="1.5" stroke-linecap="square"/>
<path d="M729.42,753.78L755.03,753.78" stroke="#8c564b" stroke-width="1.5" stroke-linecap="square"/>
<path d="M755.03,753.78L767.83,753.78" stroke="#d62728" stroke-width="1.5" stroke-linecap="square"/>
<path d="M767.83,753.78L780.64,753.78" stroke="#ff7f0e" stroke-width="1.5" stroke-linecap="square"/>
<path d="M780.64,753.78L793.44,753.78" stroke="#8c564b" stroke-width="1.5" stroke-linecap="square"/>
<path d="M793.44,753.78L806.25,753.78" stroke="#9467bd" stroke-width="1.5" stroke-linecap="square"/>
<path d="M729.42,745.92L767.83,745.92" stroke="#e377c2" stroke-width="1.5" stroke-linecap="square"/>
<path d="M780.64,745.92L793.44,745.92" stroke="#7f7f7f" stroke-width="1.5" stroke-linecap="square"/>
<path d="M793.44,745.92L806.25,745.92" stroke="#bcbd22" stroke-width="1.5" stroke-linecap="square"/>
<path d="M831.86,745.92L857.47,745.92" stroke="#17becf" stroke-width="1.5" stroke-linecap="square"/>
<path d="M755.03,738.05L767.83,738.05" stroke="#bcbd22" stroke-width="1.5" stroke-linecap="square"/>
<path d="M767.83,738.05L806.25,738.05" stroke="#e377c2" stroke-width="1.5" stroke-linecap="square"/>
<path d="M806.25,738.05L819.05,738.05" stroke="#9467bd" stroke-width="1.5" stroke-linecap="square"/>
<path d="M857.47,738.05L883.08,738.05" stroke="#17becf" stroke-width="1.5" stroke-linecap="square"/>
<path d="M755.03,730.19L844.66,730.19" stroke="#7f7f7f" stroke-width="1.5" stroke-linecap="square"/>
<path d="M780.64,722.33L793.44,722.33" stroke="#d62728" stroke-width="1.5" stroke-linecap="square"/>
<path d="M793.44,722.33L806.25,722.33" stroke="#8c564b" stroke-width="1.5" stroke-linecap="square"/>
<path d="M806.25,722.33L831.86,722.33" stroke="#bcbd22" stroke-width="1.5" stroke-linecap="square"/>
<path d="M831.86,722.33L883.08,722.33" stroke="#8c564b" stroke-width="1.5" stroke-linecap="square"/>
<path d="M767.83,714.47L780.64,714.47" stroke="#bcbd22" stroke-width="1.5" stroke-linecap="square"/>
<path d="M780.64,714.47L793.44,714.47" stroke="#2ca02c" stroke-width="1.5" stroke-linecap="square"/>
<path d="M793.44,714.47L806.25,714.47" stroke="#d62728" stroke-width="1.5" stroke-linecap="square"/>
<path d="M806.25,714.47L831.86,714.47" stroke="#e377c2" stroke-width="1.5" stroke-linecap="square"/>
<path d="M831.86,714.47L857.47,714.47" stroke="#bcbd22" stroke-width="1.5" stroke-linecap="square"/>
<path d="M857.47,714.47L883.08,714.47" stroke="#1f77b4" stroke-width="1.5" stroke-linecap="square"/>
<path d="M883.08,714.47L895.88,714.47" stroke="#8c564b" stroke-width="1.5" stroke-linecap="square"/>
<path d="M780.64,706.61L819.05,706.61" stroke="#bcbd22" stroke-width="1.5" stroke-linecap="square"/>
<path d="M819.05,706.61L831.86,706.61" stroke="#d62728" stroke-width="1.5" stroke-linecap="square"/>
<path d="M831.86,706.61L883.08,706.61" stroke="#e377c2" stroke-width="1.5" stroke-linecap="square"/>
<path d="M883.08,706.61L908.69,706.61" stroke="#17becf" stroke-width="1.5" stroke-linecap="square"/>
<path d="M908.69,706.61L921.49,706.61" stroke="#bcbd22" stroke-width="1.5" stroke-linecap="square"/>
<path d="M921.49,706.61L934.3,706.61" stroke="#9467bd" stroke-width="1.5" stroke-linecap="square"/>
<path d="M819.05,698.75L831.86,698.75" stroke="#2ca02c" stroke-width="1.5" stroke-linecap="square"/>
<path d="M831.86,698.75L870.27,698.75" stroke="#7f7f7f" stroke-width="1.5" stroke-linecap="square"/>
<path d="M870.27,698.75L908.69,698.75" stroke="#bcbd22" stroke-width="1.5" stroke-linecap="square"/>
<path d="M908.69,698.75L934.3,698.75" stroke="#17becf" stroke-width="1.5" stroke-linecap="square"/>
<path d="M767.83,824.53L780.64,824.53" stroke="#d62728" stroke-width="1.5" stroke-linecap="square"/>
<path d="M831.86,769.5L844.66,769.5" stroke="#d62728" stroke-width="1.5" stroke-linecap="square"/>
<path d="M844.66,753.78L857.47,753.78" stroke="#d62728" stroke-width="1.5" stroke-linecap="square"/>
<path d="M857.47,745.92L870.27,745.92" stroke="#d62728" stroke-width="1.5" stroke-linecap="square"/>
<path d="M870.27,722.33L908.69,722.33" stroke="#d62728" stroke-width="1.5" stroke-linecap="square"/>
<path d="M908.69,714.47L921.49,714.47" stroke="#d62728" stroke-width="1.5" stroke-linecap="square"/>
<path d="M742.22,855.98L742.22,840.25" stroke="#d62728" stroke-width="1.5" stroke-linecap="square"/>
<path d="M755.03,840.25L755.03,824.53" stroke="#d62728" stroke-width="1.5" stroke-linecap="square"/>
<path d="M780.64,824.53L780.64,793.09" stroke="#d62728" stroke-width="1.5" stroke-linecap="square"/>
<path d="M703.81,871.7L703.81,824.53" stroke="#7f7f7f" stroke-width="1.5" stroke-linecap="square"/>
<path d="M703.81,824.53L703.81,800.95" stroke="#17becf" stroke-width="1.5" stroke-linecap="square"/>
<path d="M703.81,800.95L703.81,785.22" stroke="#d62728" stroke-width="1.5" stroke-linecap="square"/>
<path d="M716.61,863.84L716.61,848.12" stroke="#9467bd" stroke-width="1.5" stroke-linecap="square"/>
<path d="M716.61,848.12L716.61,800.95" stroke="#e377c2" stroke-width="1.5" stroke-linecap="square"/>
<path d="M716.61,800.95L716.61,785.22" stroke="#1f77b4" stroke-width="1.5" stroke-linecap="square"/>
<path d="M716.61,785.22L716.61,777.36" stroke="#e377c2" stroke-width="1.5" stroke-linecap="square"/>
<path d="M729.42,871.7L729.42,855.98" stroke="#2ca02c" stroke-width="1.5" stroke-linecap="square"/>
<path d="M729.42,855.98L729.42,840.25" stroke="#bcbd22" stroke-width="1.5" stroke-linecap="square"/>
<path d="M729.42,840.25L729.42,832.39" stroke="#9467bd" stroke-width="1.5" stroke-linecap="square"/>
<path d="M729.42,832.39L729.42,753.78" stroke="#8c564b" stroke-width="1.5" stroke-linecap="square"/>
<path d="M729.42,753.78L729.42,745.92" stroke="#e377c2" stroke-width="1.5" stroke-linecap="square"/>
<path d="M742.22,855.98L742.22,848.12" stroke="#2ca02c" stroke-width="1.5" stroke-linecap="square"/>
<path d="M742.22,848.12L742.22,840.25" stroke="#7f7f7f" stroke-width="1.5" stroke-linecap="square"/>
<path d="M742.22,840.25L742.22,800.95" stroke="#bcbd22" stroke-width="1.5" stroke-linecap="square"/>
<path d="M742.22,800.95L742.22,793.09" stroke="#e377c2" stroke-width="1.5" stroke-linecap="square"/>
<path d="M742.22,793.09L742.22,761.64" stroke="#7f7f7f" stroke-width="1.5" stroke-linecap="square"/>
<path d="M742.22,761.64L742.22,753.78" stroke="#ff7f0e" stroke-width="1.5" stroke-linecap="square"/>
<path d="M755.03,816.67L755.03,800.95" stroke="#2ca02c" stroke-width="1.5" stroke-linecap="square"/>
<path d="M755.03,800.95L755.03,777.36" stroke="#17becf" stroke-width="1.5" stroke-linecap="square"/>
<path d="M755.03,777.36L755.03,761.64" stroke="#2ca02c" stroke-width="1.5" stroke-linecap="square"/>
<path d="M755.03,761.64L755.03,730.19" stroke="#7f7f7f" stroke-width="1.5" stroke-linecap="square"/>
<path d="M767.83,824.53L767.83,800.95" stroke="#9467bd" stroke-width="1.5" stroke-linecap="square"/>
<path d="M767.83,800.95L767.83,785.22" stroke="#bcbd22" stroke-width="1.5" stroke-linecap="square"/>
<path d="M767.83,785.22L767.83,769.5" stroke="#9467bd" stroke-width="1.5" stroke-linecap="square"/>
<path d="M767.83,769.5L767.83,753.78" stroke="#8c564b" stroke-width="1.5" stroke-linecap="square"/>
<path d="M767.83,753.78L767.83,730.19" stroke="#d62728" stroke-width="1.5" stroke-linecap="square"/>
<path d="M767.83,730.19L767.83,714.47" stroke="#bcbd22" stroke-width="1.5" stroke-linecap="square"/>
<path d="M780.64,785.22L780.64,777.36" stroke="#bcbd22" stroke-width="1.5" stroke-linecap="square"/>
<path d="M780.64,769.5L780.64,761.64" stroke="#7f7f7f" stroke-width="1.5" stroke-linecap="square"/>
<path d="M780.64,761.64L780.64,714.47" stroke="#2ca02c" stroke-width="1.5" stroke-linecap="square"/>
<path d="M780.64,714.47L780.64,706.61" stroke="#bcbd22" stroke-width="1.5" stroke-linecap="square"/>
<path d="M793.44,777.36L793.44,745.92" stroke="#bcbd22" stroke-width="1.5" stroke-linecap="square"/>
<path d="M793.44,745.92L793.44,722.33" stroke="#8c564b" stroke-width="1.5" stroke-linecap="square"/>
<path d="M793.44,722.33L793.44,714.47" stroke="#d62728" stroke-width="1.5" stroke-linecap="square"/>
<path d="M793.44,714.47L793.44,706.61" stroke="#e377c2" stroke-width="1.5" stroke-linecap="square"/>
<path d="M806.25,777.36L806.25,753.78" stroke="#17becf" stroke-width="1.5" stroke-linecap="square"/>
<path d="M806.25,753.78L806.25,745.92" stroke="#9467bd" stroke-width="1.5" stroke-linecap="square"/>
<path d="M806.25,745.92L806.25,722.33" stroke="#bcbd22" stroke-width="1.5" stroke-linecap="square"/>
<path d="M806.25,722.33L806.25,714.47" stroke="#e377c2" stroke-width="1.5" stroke-linecap="square"/>
<path d="M819.05,777.36L819.05,761.64" stroke="#17becf" stroke-width="1.5" stroke-linecap="square"/>
<path d="M819.05,738.05L819.05,730.19" stroke="#9467bd" stroke-width="1.5" stroke-linecap="square"/>
<path d="M819.05,722.33L819.05,714.47" stroke="#8c564b" stroke-width="1.5" stroke-linecap="square"/>
<path d="M819.05,714.47L819.05,706.61" stroke="#d62728" stroke-width="1.5" stroke-linecap="square"/>
<path d="M819.05,706.61L819.05,698.75" stroke="#2ca02c" stroke-width="1.5" stroke-linecap="square"/>
<path d="M831.86,761.64L831.86,745.92" stroke="#17becf" stroke-width="1.5" stroke-linecap="square"/>
<path d="M831.86,730.19L831.86,722.33" stroke="#9467bd" stroke-width="1.5" stroke-linecap="square"/>
<path d="M831.86,722.33L831.86,714.47" stroke="#bcbd22" stroke-width="1.5" stroke-linecap="square"/>
<path d="M831.86,714.47L831.86,706.61" stroke="#e377c2" stroke-width="1.5" stroke-linecap="square"/>
<path d="M831.86,706.61L831.86,698.75" stroke="#7f7f7f" stroke-width="1.5" stroke-linecap="square"/>
<path d="M844.66,730.19L844.66,714.47" stroke="#7f7f7f" stroke-width="1.5" stroke-linecap="square"/>
<path d="M844.66,706.61L844.66,698.75" stroke="#9467bd" stroke-width="1.5" stroke-linecap="square"/>
<path d="M857.47,745.92L857.47,738.05" stroke="#17becf" stroke-width="1.5" stroke-linecap="square"/>
<path d="M857.47,722.33L857.47,714.47" stroke="#9467bd" stroke-width="1.5" stroke-linecap="square"/>
<path d="M857.47,714.47L857.47,706.61" stroke="#bcbd22" stroke-width="1.5" stroke-linecap="square"/>
<path d="M857.47,706.61L857.47,698.75" stroke="#7f7f7f" stroke-width="1.5" stroke-linecap="square"/>
<path d="M870.27,714.47L870.27,706.61" stroke="#17becf" stroke-width="1.5" stroke-linecap="square"/>
<path d="M870.27,706.61L870.27,698.75" stroke="#bcbd22" stroke-width="1.5" stroke-linecap="square"/>
<path d="M883.08,738.05L883.08,706.61" stroke="#17becf" stroke-width="1.5" stroke-linecap="square"/>
<path d="M883.08,706.61L883.08,698.75" stroke="#d62728" stroke-width="1.5" stroke-linecap="square"/>
<path d="M895.88,714.47L895.88,706.61" stroke="#8c564b" stroke-width="1.5" stroke-linecap="square"/>
<path d="M895.88,706.61L895.88,698.75" stroke="#e377c2" stroke-width="1.5" stroke-linecap="square"/>
<path d="M908.69,706.61L908.69,698.75" stroke="#17becf" stroke-width="1.5" stroke-linecap="square"/>
<path d="M921.49,714.47L921.49,706.61" stroke="#d62728" stroke-width="1.5" stroke-linecap="square"/>
<path d="M921.49,706.61L921.49,698.75" stroke="#bcbd22" stroke-width="1.5" stroke-linecap="square"/>
<path d="M831.86,793.09L831.86,769.5" stroke="#d62728" stroke-width="1.5" stroke-linecap="square"/>
<path d="M844.66,769.5L844.66,753.78" stroke="#d62728" stroke-width="1.5" stroke-linecap="square"/>
<path d="M857.47,753.78L857.47,745.92" stroke="#d62728" stroke-width="1.5" stroke-linecap="square"/>
<path d="M870.27,745.92L870.27,722.33" stroke="#d62728" stroke-width="1.5" stroke-linecap="square"/>
<path d="M908.69,722.33L908.69,714.47" stroke="#d62728" stroke-width="1.5" stroke-linecap="square"/>
<path d="M742.22,761.64L755.03,753.78" stroke="#1f77b4" stroke-width="1.5"/>
<path d="M691,863.84L703.81,855.98" stroke="#8c564b" stroke-width="1.5"/>
<path d="M691,871.7L934.3,698.75" stroke="#000" stroke-width="1.7" stroke-dasharray="12.9 4.35" stroke-dashoffset="1.6"/>
</g>
<rect x="691" y="690.1" width="243.3" height="181.6" fill="none" stroke="#000" stroke-width="2.2"/>
<line x1="691" y1="871.7" x2="691" y2="876.3" stroke="#000" stroke-width="1.6"/>
<text transform="translate(691 889) scale(1.08 1)" font-size="12" font-weight="bold" text-anchor="middle">0.0</text>
<line x1="686.4" y1="871.7" x2="691" y2="871.7" stroke="#000" stroke-width="1.6"/>
<text transform="translate(684.6 875.6) scale(1.08 1)" font-size="12" font-weight="bold" text-anchor="end">0.0</text>
<line x1="739.66" y1="871.7" x2="739.66" y2="876.3" stroke="#000" stroke-width="1.6"/>
<text transform="translate(739.66 889) scale(1.08 1)" font-size="12" font-weight="bold" text-anchor="middle">0.2</text>
<line x1="686.4" y1="837.11" x2="691" y2="837.11" stroke="#000" stroke-width="1.6"/>
<text transform="translate(684.6 841.01) scale(1.08 1)" font-size="12" font-weight="bold" text-anchor="end">0.2</text>
<line x1="788.32" y1="871.7" x2="788.32" y2="876.3" stroke="#000" stroke-width="1.6"/>
<text transform="translate(788.32 889) scale(1.08 1)" font-size="12" font-weight="bold" text-anchor="middle">0.4</text>
<line x1="686.4" y1="802.52" x2="691" y2="802.52" stroke="#000" stroke-width="1.6"/>
<text transform="translate(684.6 806.42) scale(1.08 1)" font-size="12" font-weight="bold" text-anchor="end">0.4</text>
<line x1="836.98" y1="871.7" x2="836.98" y2="876.3" stroke="#000" stroke-width="1.6"/>
<text transform="translate(836.98 889) scale(1.08 1)" font-size="12" font-weight="bold" text-anchor="middle">0.6</text>
<line x1="686.4" y1="767.93" x2="691" y2="767.93" stroke="#000" stroke-width="1.6"/>
<text transform="translate(684.6 771.83) scale(1.08 1)" font-size="12" font-weight="bold" text-anchor="end">0.6</text>
<line x1="885.64" y1="871.7" x2="885.64" y2="876.3" stroke="#000" stroke-width="1.6"/>
<text transform="translate(885.64 889) scale(1.08 1)" font-size="12" font-weight="bold" text-anchor="middle">0.8</text>
<line x1="686.4" y1="733.34" x2="691" y2="733.34" stroke="#000" stroke-width="1.6"/>
<text transform="translate(684.6 737.24) scale(1.08 1)" font-size="12" font-weight="bold" text-anchor="end">0.8</text>
<line x1="934.3" y1="871.7" x2="934.3" y2="876.3" stroke="#000" stroke-width="1.6"/>
<text transform="translate(934.3 889) scale(1.08 1)" font-size="12" font-weight="bold" text-anchor="middle">1.0</text>
<line x1="686.4" y1="698.75" x2="691" y2="698.75" stroke="#000" stroke-width="1.6"/>
<text transform="translate(684.6 702.65) scale(1.08 1)" font-size="12" font-weight="bold" text-anchor="end">1.0</text>
<text x="814.15" y="682.9" font-size="17.1" font-weight="bold" text-anchor="middle">ROC curve (MLP)</text>
<text x="811.65" y="905.8" font-size="15.0" font-weight="bold" text-anchor="middle">1-specificity</text>
<text transform="translate(656.8 786.42) rotate(-90) scale(1 1.14)" font-size="14.8" font-weight="bold" text-anchor="middle">Sensiti<tspan dx="1.1">vity</tspan></text>
<rect x="955.6" y="425.6" width="162.8" height="356.0" rx="2.5" fill="#fff" stroke="#ccc" stroke-width="1.4"/>
<line x1="959" y1="435.4" x2="985.8" y2="435.4" stroke="#1f77b4" stroke-width="2.9"/>
<text transform="translate(995.7 440) scale(1.1 1)" font-size="12" font-weight="normal" text-anchor="start">MALAT1</text>
<line x1="959" y1="453.03" x2="985.8" y2="453.03" stroke="#ff7f0e" stroke-width="2.9"/>
<text transform="translate(995.7 457.63) scale(1.1 1)" font-size="12" font-weight="normal" text-anchor="start">PCA3</text>
<line x1="959" y1="470.66" x2="985.8" y2="470.66" stroke="#2ca02c" stroke-width="2.9"/>
<text transform="translate(995.7 475.26) scale(1.1 1)" font-size="12" font-weight="normal" text-anchor="start">TMPRSS2:ERG</text>
<line x1="959" y1="488.29" x2="985.8" y2="488.29" stroke="#d62728" stroke-width="2.9"/>
<text transform="translate(995.7 492.89) scale(1.1 1)" font-size="12" font-weight="normal" text-anchor="start">hsa-miR-1185-2-3p</text>
<line x1="959" y1="505.92" x2="985.8" y2="505.92" stroke="#9467bd" stroke-width="2.9"/>
<text transform="translate(995.7 510.52) scale(1.1 1)" font-size="12" font-weight="normal" text-anchor="start">hsa-miR-125b-5p</text>
<line x1="959" y1="523.55" x2="985.8" y2="523.55" stroke="#8c564b" stroke-width="2.9"/>
<text transform="translate(995.7 528.15) scale(1.1 1)" font-size="12" font-weight="normal" text-anchor="start">hsa-miR-141-3p</text>
<line x1="959" y1="541.18" x2="985.8" y2="541.18" stroke="#e377c2" stroke-width="2.9"/>
<text transform="translate(995.7 545.78) scale(1.1 1)" font-size="12" font-weight="normal" text-anchor="start">hsa-miR-141-5p</text>
<line x1="959" y1="558.81" x2="985.8" y2="558.81" stroke="#7f7f7f" stroke-width="2.9"/>
<text transform="translate(995.7 563.41) scale(1.1 1)" font-size="12" font-weight="normal" text-anchor="start">hsa-miR-146a-5p</text>
<line x1="959" y1="576.44" x2="985.8" y2="576.44" stroke="#bcbd22" stroke-width="2.9"/>
<text transform="translate(995.7 581.04) scale(1.1 1)" font-size="12" font-weight="normal" text-anchor="start">hsa-miR-17-3p</text>
<line x1="959" y1="594.07" x2="985.8" y2="594.07" stroke="#17becf" stroke-width="2.9"/>
<text transform="translate(995.7 598.67) scale(1.1 1)" font-size="12" font-weight="normal" text-anchor="start">hsa-miR-200b-3p</text>
<line x1="959" y1="611.7" x2="985.8" y2="611.7" stroke="#1f77b4" stroke-width="2.9"/>
<text transform="translate(995.7 616.3) scale(1.1 1)" font-size="12" font-weight="normal" text-anchor="start">hsa-miR-21-5p</text>
<line x1="959" y1="629.33" x2="985.8" y2="629.33" stroke="#ff7f0e" stroke-width="2.9"/>
<text transform="translate(995.7 633.93) scale(1.1 1)" font-size="12" font-weight="normal" text-anchor="start">hsa-miR-222-3p</text>
<line x1="959" y1="646.96" x2="985.8" y2="646.96" stroke="#2ca02c" stroke-width="2.9"/>
<text transform="translate(995.7 651.56) scale(1.1 1)" font-size="12" font-weight="normal" text-anchor="start">hsa-miR-24-3p</text>
<line x1="959" y1="664.59" x2="985.8" y2="664.59" stroke="#d62728" stroke-width="2.9"/>
<text transform="translate(995.7 669.19) scale(1.1 1)" font-size="12" font-weight="normal" text-anchor="start">hsa-miR-27b-3p</text>
<line x1="959" y1="682.22" x2="985.8" y2="682.22" stroke="#9467bd" stroke-width="2.9"/>
<text transform="translate(995.7 686.82) scale(1.1 1)" font-size="12" font-weight="normal" text-anchor="start">hsa-miR-30a-3p</text>
<line x1="959" y1="699.85" x2="985.8" y2="699.85" stroke="#8c564b" stroke-width="2.9"/>
<text transform="translate(995.7 704.45) scale(1.1 1)" font-size="12" font-weight="normal" text-anchor="start">hsa-miR-30a-5p</text>
<line x1="959" y1="717.48" x2="985.8" y2="717.48" stroke="#e377c2" stroke-width="2.9"/>
<text transform="translate(995.7 722.08) scale(1.1 1)" font-size="12" font-weight="normal" text-anchor="start">hsa-miR-30b-5p</text>
<line x1="959" y1="735.11" x2="985.8" y2="735.11" stroke="#7f7f7f" stroke-width="2.9"/>
<text transform="translate(995.7 739.71) scale(1.1 1)" font-size="12" font-weight="normal" text-anchor="start">hsa-miR-30c-5p</text>
<line x1="959" y1="752.74" x2="985.8" y2="752.74" stroke="#bcbd22" stroke-width="2.9"/>
<text transform="translate(995.7 757.34) scale(1.1 1)" font-size="12" font-weight="normal" text-anchor="start">hsa-miR-31-5p</text>
<line x1="959" y1="770.37" x2="985.8" y2="770.37" stroke="#17becf" stroke-width="2.9"/>
<text transform="translate(995.7 774.97) scale(1.1 1)" font-size="12" font-weight="normal" text-anchor="start">hsa-miR-375</text>
<line x1="92.5" y1="951.2" x2="92.5" y2="1215.3" stroke="#c4c4c4" stroke-width="1" stroke-dasharray="1 1"/>
<line x1="120.5" y1="951.2" x2="120.5" y2="1215.3" stroke="#c4c4c4" stroke-width="1" stroke-dasharray="1 1"/>
<line x1="149.5" y1="951.2" x2="149.5" y2="1215.3" stroke="#c4c4c4" stroke-width="1" stroke-dasharray="1 1"/>
<line x1="178.5" y1="951.2" x2="178.5" y2="1215.3" stroke="#c4c4c4" stroke-width="1" stroke-dasharray="1 1"/>
<line x1="207.5" y1="951.2" x2="207.5" y2="1215.3" stroke="#c4c4c4" stroke-width="1" stroke-dasharray="1 1"/>
<line x1="236.5" y1="951.2" x2="236.5" y2="1215.3" stroke="#c4c4c4" stroke-width="1" stroke-dasharray="1 1"/>
<line x1="265.5" y1="951.2" x2="265.5" y2="1215.3" stroke="#c4c4c4" stroke-width="1" stroke-dasharray="1 1"/>
<line x1="294.5" y1="951.2" x2="294.5" y2="1215.3" stroke="#c4c4c4" stroke-width="1" stroke-dasharray="1 1"/>
<line x1="323.5" y1="951.2" x2="323.5" y2="1215.3" stroke="#c4c4c4" stroke-width="1" stroke-dasharray="1 1"/>
<line x1="351.5" y1="951.2" x2="351.5" y2="1215.3" stroke="#c4c4c4" stroke-width="1" stroke-dasharray="1 1"/>
<line x1="380.5" y1="951.2" x2="380.5" y2="1215.3" stroke="#c4c4c4" stroke-width="1" stroke-dasharray="1 1"/>
<line x1="409.5" y1="951.2" x2="409.5" y2="1215.3" stroke="#c4c4c4" stroke-width="1" stroke-dasharray="1 1"/>
<line x1="438.5" y1="951.2" x2="438.5" y2="1215.3" stroke="#c4c4c4" stroke-width="1" stroke-dasharray="1 1"/>
<line x1="467.5" y1="951.2" x2="467.5" y2="1215.3" stroke="#c4c4c4" stroke-width="1" stroke-dasharray="1 1"/>
<line x1="496.5" y1="951.2" x2="496.5" y2="1215.3" stroke="#c4c4c4" stroke-width="1" stroke-dasharray="1 1"/>
<line x1="525.5" y1="951.2" x2="525.5" y2="1215.3" stroke="#c4c4c4" stroke-width="1" stroke-dasharray="1 1"/>
<line x1="554.5" y1="951.2" x2="554.5" y2="1215.3" stroke="#c4c4c4" stroke-width="1" stroke-dasharray="1 1"/>
<line x1="582.5" y1="951.2" x2="582.5" y2="1215.3" stroke="#c4c4c4" stroke-width="1" stroke-dasharray="1 1"/>
<line x1="611.5" y1="951.2" x2="611.5" y2="1215.3" stroke="#c4c4c4" stroke-width="1" stroke-dasharray="1 1"/>
<line x1="640.5" y1="951.2" x2="640.5" y2="1215.3" stroke="#c4c4c4" stroke-width="1" stroke-dasharray="1 1"/>
<path d="M91.8,1028.82L92.91,1032L96.27,1032.07L93.59,1034.1L94.56,1037.32L91.8,1035.4L89.04,1037.32L90.01,1034.1L87.33,1032.07L90.69,1032Z" fill="#2a2a2a" fill-opacity="0.68" stroke="#111" stroke-opacity="0.55" stroke-width="0.6"/>
<path d="M120.68,1059.69L121.79,1062.87L125.15,1062.94L122.47,1064.97L123.44,1068.19L120.68,1066.27L117.92,1068.19L118.89,1064.97L116.21,1062.94L119.57,1062.87Z" fill="#2a2a2a" fill-opacity="0.68" stroke="#111" stroke-opacity="0.55" stroke-width="0.6"/>
<path d="M149.56,1045.97L150.67,1049.15L154.03,1049.22L151.35,1051.25L152.32,1054.47L149.56,1052.55L146.8,1054.47L147.77,1051.25L145.09,1049.22L148.45,1049.15Z" fill="#2a2a2a" fill-opacity="0.68" stroke="#111" stroke-opacity="0.55" stroke-width="0.6"/>
<path d="M178.44,1121.43L179.55,1124.61L182.91,1124.68L180.23,1126.71L181.2,1129.93L178.44,1128.01L175.68,1129.93L176.65,1126.71L173.97,1124.68L177.33,1124.61Z" fill="#2a2a2a" fill-opacity="0.68" stroke="#111" stroke-opacity="0.55" stroke-width="0.6"/>
<path d="M207.32,1021.96L208.43,1025.14L211.79,1025.21L209.11,1027.24L210.08,1030.46L207.32,1028.54L204.56,1030.46L205.53,1027.24L202.85,1025.21L206.21,1025.14Z" fill="#2a2a2a" fill-opacity="0.68" stroke="#111" stroke-opacity="0.55" stroke-width="0.6"/>
<path d="M236.2,1052.83L237.31,1056.01L240.67,1056.08L237.99,1058.11L238.96,1061.33L236.2,1059.41L233.44,1061.33L234.41,1058.11L231.73,1056.08L235.09,1056.01Z" fill="#2a2a2a" fill-opacity="0.68" stroke="#111" stroke-opacity="0.55" stroke-width="0.6"/>
<path d="M265.08,1007.55L266.19,1010.73L269.55,1010.8L266.87,1012.83L267.84,1016.06L265.08,1014.13L262.32,1016.06L263.29,1012.83L260.61,1010.8L263.97,1010.73Z" fill="#2a2a2a" fill-opacity="0.68" stroke="#111" stroke-opacity="0.55" stroke-width="0.6"/>
<path d="M293.96,1052.83L295.07,1056.01L298.43,1056.08L295.75,1058.11L296.72,1061.33L293.96,1059.41L291.2,1061.33L292.17,1058.11L289.49,1056.08L292.85,1056.01Z" fill="#2a2a2a" fill-opacity="0.68" stroke="#111" stroke-opacity="0.55" stroke-width="0.6"/>
<path d="M322.84,1014.41L323.95,1017.59L327.31,1017.66L324.63,1019.69L325.6,1022.92L322.84,1020.99L320.08,1022.92L321.05,1019.69L318.37,1017.66L321.73,1017.59Z" fill="#2a2a2a" fill-opacity="0.68" stroke="#111" stroke-opacity="0.55" stroke-width="0.6"/>
<path d="M351.72,1059.35L352.83,1062.53L356.19,1062.59L353.51,1064.63L354.48,1067.85L351.72,1065.93L348.96,1067.85L349.93,1064.63L347.25,1062.59L350.61,1062.53Z" fill="#2a2a2a" fill-opacity="0.68" stroke="#111" stroke-opacity="0.55" stroke-width="0.6"/>
<path d="M380.6,1018.53L381.71,1021.71L385.07,1021.78L382.39,1023.81L383.36,1027.03L380.6,1025.11L377.84,1027.03L378.81,1023.81L376.13,1021.78L379.49,1021.71Z" fill="#2a2a2a" fill-opacity="0.68" stroke="#111" stroke-opacity="0.55" stroke-width="0.6"/>
<path d="M409.48,1015.1L410.59,1018.28L413.95,1018.35L411.27,1020.38L412.24,1023.6L409.48,1021.68L406.72,1023.6L407.69,1020.38L405.01,1018.35L408.37,1018.28Z" fill="#2a2a2a" fill-opacity="0.68" stroke="#111" stroke-opacity="0.55" stroke-width="0.6"/>
<path d="M438.36,1028.13L439.47,1031.31L442.83,1031.38L440.15,1033.41L441.12,1036.64L438.36,1034.71L435.6,1036.64L436.57,1033.41L433.89,1031.38L437.25,1031.31Z" fill="#2a2a2a" fill-opacity="0.68" stroke="#111" stroke-opacity="0.55" stroke-width="0.6"/>
<path d="M467.24,1011.33L468.35,1014.51L471.71,1014.57L469.03,1016.61L470,1019.83L467.24,1017.91L464.48,1019.83L465.45,1016.61L462.77,1014.57L466.13,1014.51Z" fill="#2a2a2a" fill-opacity="0.68" stroke="#111" stroke-opacity="0.55" stroke-width="0.6"/>
<path d="M496.12,1073.75L497.23,1076.93L500.59,1077L497.91,1079.03L498.88,1082.26L496.12,1080.33L493.36,1082.26L494.33,1079.03L491.65,1077L495.01,1076.93Z" fill="#2a2a2a" fill-opacity="0.68" stroke="#111" stroke-opacity="0.55" stroke-width="0.6"/>
<path d="M525,1028.13L526.11,1031.31L529.47,1031.38L526.79,1033.41L527.76,1036.64L525,1034.71L522.24,1036.64L523.21,1033.41L520.53,1031.38L523.89,1031.31Z" fill="#2a2a2a" fill-opacity="0.68" stroke="#111" stroke-opacity="0.55" stroke-width="0.6"/>
<path d="M553.88,1031.56L554.99,1034.74L558.35,1034.81L555.67,1036.84L556.64,1040.07L553.88,1038.14L551.12,1040.07L552.09,1036.84L549.41,1034.81L552.77,1034.74Z" fill="#2a2a2a" fill-opacity="0.68" stroke="#111" stroke-opacity="0.55" stroke-width="0.6"/>
<path d="M582.76,1028.13L583.87,1031.31L587.23,1031.38L584.55,1033.41L585.52,1036.64L582.76,1034.71L580,1036.64L580.97,1033.41L578.29,1031.38L581.65,1031.31Z" fill="#2a2a2a" fill-opacity="0.68" stroke="#111" stroke-opacity="0.55" stroke-width="0.6"/>
<path d="M611.64,1062.09L612.75,1065.27L616.11,1065.34L613.43,1067.37L614.4,1070.59L611.64,1068.67L608.88,1070.59L609.85,1067.37L607.17,1065.34L610.53,1065.27Z" fill="#2a2a2a" fill-opacity="0.68" stroke="#111" stroke-opacity="0.55" stroke-width="0.6"/>
<path d="M640.52,1069.64L641.63,1072.82L644.99,1072.88L642.31,1074.92L643.28,1078.14L640.52,1076.22L637.76,1078.14L638.73,1074.92L636.05,1072.88L639.41,1072.82Z" fill="#2a2a2a" fill-opacity="0.68" stroke="#111" stroke-opacity="0.55" stroke-width="0.6"/>
<path d="M91.8,1041.47L96.1,1033.51L87.5,1033.51Z" fill="#ff7800" fill-opacity="0.55" stroke="#ff7800" stroke-opacity="0.45" stroke-width="0.8"/>
<path d="M120.68,1054.5L124.98,1046.54L116.38,1046.54Z" fill="#ff7800" fill-opacity="0.55" stroke="#ff7800" stroke-opacity="0.45" stroke-width="0.8"/>
<path d="M149.56,1068.22L153.86,1060.26L145.26,1060.26Z" fill="#ff7800" fill-opacity="0.55" stroke="#ff7800" stroke-opacity="0.45" stroke-width="0.8"/>
<path d="M178.44,1096.35L182.74,1088.39L174.14,1088.39Z" fill="#ff7800" fill-opacity="0.55" stroke="#ff7800" stroke-opacity="0.45" stroke-width="0.8"/>
<path d="M207.32,1044.21L211.62,1036.25L203.02,1036.25Z" fill="#ff7800" fill-opacity="0.55" stroke="#ff7800" stroke-opacity="0.45" stroke-width="0.8"/>
<path d="M236.2,1074.05L240.5,1066.1L231.9,1066.1Z" fill="#ff7800" fill-opacity="0.55" stroke="#ff7800" stroke-opacity="0.45" stroke-width="0.8"/>
<path d="M265.08,1040.09L269.38,1032.14L260.78,1032.14Z" fill="#ff7800" fill-opacity="0.55" stroke="#ff7800" stroke-opacity="0.45" stroke-width="0.8"/>
<path d="M293.96,1078.85L298.26,1070.9L289.66,1070.9Z" fill="#ff7800" fill-opacity="0.55" stroke="#ff7800" stroke-opacity="0.45" stroke-width="0.8"/>
<path d="M322.84,1033.92L327.14,1025.96L318.54,1025.96Z" fill="#ff7800" fill-opacity="0.55" stroke="#ff7800" stroke-opacity="0.45" stroke-width="0.8"/>
<path d="M351.72,1096.35L356.02,1088.39L347.42,1088.39Z" fill="#ff7800" fill-opacity="0.55" stroke="#ff7800" stroke-opacity="0.45" stroke-width="0.8"/>
<path d="M380.6,1044.9L384.9,1036.94L376.3,1036.94Z" fill="#ff7800" fill-opacity="0.55" stroke="#ff7800" stroke-opacity="0.45" stroke-width="0.8"/>
<path d="M409.48,1027.75L413.78,1019.79L405.18,1019.79Z" fill="#ff7800" fill-opacity="0.55" stroke="#ff7800" stroke-opacity="0.45" stroke-width="0.8"/>
<path d="M438.36,1068.91L442.66,1060.95L434.06,1060.95Z" fill="#ff7800" fill-opacity="0.55" stroke="#ff7800" stroke-opacity="0.45" stroke-width="0.8"/>
<path d="M467.24,1027.06L471.54,1019.1L462.94,1019.1Z" fill="#ff7800" fill-opacity="0.55" stroke="#ff7800" stroke-opacity="0.45" stroke-width="0.8"/>
<path d="M496.12,1074.05L500.42,1066.1L491.82,1066.1Z" fill="#ff7800" fill-opacity="0.55" stroke="#ff7800" stroke-opacity="0.45" stroke-width="0.8"/>
<path d="M525,1024.32L529.3,1016.36L520.7,1016.36Z" fill="#ff7800" fill-opacity="0.55" stroke="#ff7800" stroke-opacity="0.45" stroke-width="0.8"/>
<path d="M553.88,1040.78L558.18,1032.82L549.58,1032.82Z" fill="#ff7800" fill-opacity="0.55" stroke="#ff7800" stroke-opacity="0.45" stroke-width="0.8"/>
<path d="M582.76,1019.51L587.06,1011.56L578.46,1011.56Z" fill="#ff7800" fill-opacity="0.55" stroke="#ff7800" stroke-opacity="0.45" stroke-width="0.8"/>
<path d="M611.64,1088.46L615.94,1080.5L607.34,1080.5Z" fill="#ff7800" fill-opacity="0.55" stroke="#ff7800" stroke-opacity="0.45" stroke-width="0.8"/>
<path d="M640.52,1130.3L644.82,1122.35L636.22,1122.35Z" fill="#ff7800" fill-opacity="0.55" stroke="#ff7800" stroke-opacity="0.45" stroke-width="0.8"/>
<path d="M91.8,1029.69L96.1,1037.65L87.5,1037.65Z" fill="#a000e8" fill-opacity="0.5" stroke="#a000e8" stroke-opacity="0.45" stroke-width="0.8"/>
<path d="M120.68,1061.59L124.98,1069.55L116.38,1069.55Z" fill="#a000e8" fill-opacity="0.5" stroke="#a000e8" stroke-opacity="0.45" stroke-width="0.8"/>
<path d="M149.56,1047.53L153.86,1055.48L145.26,1055.48Z" fill="#a000e8" fill-opacity="0.5" stroke="#a000e8" stroke-opacity="0.45" stroke-width="0.8"/>
<path d="M178.44,1115.44L182.74,1123.4L174.14,1123.4Z" fill="#a000e8" fill-opacity="0.5" stroke="#a000e8" stroke-opacity="0.45" stroke-width="0.8"/>
<path d="M207.32,1023.17L211.62,1031.13L203.02,1031.13Z" fill="#a000e8" fill-opacity="0.5" stroke="#a000e8" stroke-opacity="0.45" stroke-width="0.8"/>
<path d="M236.2,1054.04L240.5,1062L231.9,1062Z" fill="#a000e8" fill-opacity="0.5" stroke="#a000e8" stroke-opacity="0.45" stroke-width="0.8"/>
<path d="M265.08,1008.43L269.38,1016.38L260.78,1016.38Z" fill="#a000e8" fill-opacity="0.5" stroke="#a000e8" stroke-opacity="0.45" stroke-width="0.8"/>
<path d="M293.96,1042.72L298.26,1050.68L289.66,1050.68Z" fill="#a000e8" fill-opacity="0.5" stroke="#a000e8" stroke-opacity="0.45" stroke-width="0.8"/>
<path d="M322.84,1015.29L327.14,1023.24L318.54,1023.24Z" fill="#a000e8" fill-opacity="0.5" stroke="#a000e8" stroke-opacity="0.45" stroke-width="0.8"/>
<path d="M351.72,1060.22L356.02,1068.17L347.42,1068.17Z" fill="#a000e8" fill-opacity="0.5" stroke="#a000e8" stroke-opacity="0.45" stroke-width="0.8"/>
<path d="M380.6,1019.74L384.9,1027.7L376.3,1027.7Z" fill="#a000e8" fill-opacity="0.5" stroke="#a000e8" stroke-opacity="0.45" stroke-width="0.8"/>
<path d="M409.48,1016.31L413.78,1024.27L405.18,1024.27Z" fill="#a000e8" fill-opacity="0.5" stroke="#a000e8" stroke-opacity="0.45" stroke-width="0.8"/>
<path d="M438.36,1029.35L442.66,1037.3L434.06,1037.3Z" fill="#a000e8" fill-opacity="0.5" stroke="#a000e8" stroke-opacity="0.45" stroke-width="0.8"/>
<path d="M467.24,1012.54L471.54,1020.5L462.94,1020.5Z" fill="#a000e8" fill-opacity="0.5" stroke="#a000e8" stroke-opacity="0.45" stroke-width="0.8"/>
<path d="M496.12,1066.05L500.42,1074L491.82,1074Z" fill="#a000e8" fill-opacity="0.5" stroke="#a000e8" stroke-opacity="0.45" stroke-width="0.8"/>
<path d="M525,1036.55L529.3,1044.51L520.7,1044.51Z" fill="#a000e8" fill-opacity="0.5" stroke="#a000e8" stroke-opacity="0.45" stroke-width="0.8"/>
<path d="M553.88,1033.12L558.18,1041.08L549.58,1041.08Z" fill="#a000e8" fill-opacity="0.5" stroke="#a000e8" stroke-opacity="0.45" stroke-width="0.8"/>
<path d="M582.76,1029L587.06,1036.96L578.46,1036.96Z" fill="#a000e8" fill-opacity="0.5" stroke="#a000e8" stroke-opacity="0.45" stroke-width="0.8"/>
<path d="M611.64,1073.94L615.94,1081.89L607.34,1081.89Z" fill="#a000e8" fill-opacity="0.5" stroke="#a000e8" stroke-opacity="0.45" stroke-width="0.8"/>
<path d="M640.52,1070.51L644.82,1078.46L636.22,1078.46Z" fill="#a000e8" fill-opacity="0.5" stroke="#a000e8" stroke-opacity="0.45" stroke-width="0.8"/>
<path d="M91.8,1028.52L96.8,1033.52L91.8,1038.52L86.8,1033.52Z" fill="#00c000" fill-opacity="0.5" stroke="#00c000" stroke-opacity="0.6" stroke-width="0.9"/>
<path d="M120.68,1059.39L125.68,1064.39L120.68,1069.39L115.68,1064.39Z" fill="#00c000" fill-opacity="0.5" stroke="#00c000" stroke-opacity="0.6" stroke-width="0.9"/>
<path d="M149.56,1045.67L154.56,1050.67L149.56,1055.67L144.56,1050.67Z" fill="#00c000" fill-opacity="0.5" stroke="#00c000" stroke-opacity="0.6" stroke-width="0.9"/>
<path d="M178.44,1114.27L183.44,1119.27L178.44,1124.27L173.44,1119.27Z" fill="#00c000" fill-opacity="0.5" stroke="#00c000" stroke-opacity="0.6" stroke-width="0.9"/>
<path d="M207.32,1021.66L212.32,1026.66L207.32,1031.66L202.32,1026.66Z" fill="#00c000" fill-opacity="0.5" stroke="#00c000" stroke-opacity="0.6" stroke-width="0.9"/>
<path d="M236.2,1052.53L241.2,1057.53L236.2,1062.53L231.2,1057.53Z" fill="#00c000" fill-opacity="0.5" stroke="#00c000" stroke-opacity="0.6" stroke-width="0.9"/>
<path d="M265.08,1007.25L270.08,1012.25L265.08,1017.25L260.08,1012.25Z" fill="#00c000" fill-opacity="0.5" stroke="#00c000" stroke-opacity="0.6" stroke-width="0.9"/>
<path d="M293.96,1052.53L298.96,1057.53L293.96,1062.53L288.96,1057.53Z" fill="#00c000" fill-opacity="0.5" stroke="#00c000" stroke-opacity="0.6" stroke-width="0.9"/>
<path d="M322.84,1014.11L327.84,1019.11L322.84,1024.11L317.84,1019.11Z" fill="#00c000" fill-opacity="0.5" stroke="#00c000" stroke-opacity="0.6" stroke-width="0.9"/>
<path d="M351.72,1059.05L356.72,1064.05L351.72,1069.05L346.72,1064.05Z" fill="#00c000" fill-opacity="0.5" stroke="#00c000" stroke-opacity="0.6" stroke-width="0.9"/>
<path d="M380.6,1018.23L385.6,1023.23L380.6,1028.23L375.6,1023.23Z" fill="#00c000" fill-opacity="0.5" stroke="#00c000" stroke-opacity="0.6" stroke-width="0.9"/>
<path d="M409.48,1014.8L414.48,1019.8L409.48,1024.8L404.48,1019.8Z" fill="#00c000" fill-opacity="0.5" stroke="#00c000" stroke-opacity="0.6" stroke-width="0.9"/>
<path d="M438.36,1027.83L443.36,1032.83L438.36,1037.83L433.36,1032.83Z" fill="#00c000" fill-opacity="0.5" stroke="#00c000" stroke-opacity="0.6" stroke-width="0.9"/>
<path d="M467.24,1011.03L472.24,1016.03L467.24,1021.03L462.24,1016.03Z" fill="#00c000" fill-opacity="0.5" stroke="#00c000" stroke-opacity="0.6" stroke-width="0.9"/>
<path d="M496.12,1073.45L501.12,1078.45L496.12,1083.45L491.12,1078.45Z" fill="#00c000" fill-opacity="0.5" stroke="#00c000" stroke-opacity="0.6" stroke-width="0.9"/>
<path d="M525,1027.83L530,1032.83L525,1037.83L520,1032.83Z" fill="#00c000" fill-opacity="0.5" stroke="#00c000" stroke-opacity="0.6" stroke-width="0.9"/>
<path d="M553.88,1031.26L558.88,1036.26L553.88,1041.26L548.88,1036.26Z" fill="#00c000" fill-opacity="0.5" stroke="#00c000" stroke-opacity="0.6" stroke-width="0.9"/>
<path d="M582.76,1027.83L587.76,1032.83L582.76,1037.83L577.76,1032.83Z" fill="#00c000" fill-opacity="0.5" stroke="#00c000" stroke-opacity="0.6" stroke-width="0.9"/>
<path d="M611.64,1061.79L616.64,1066.79L611.64,1071.79L606.64,1066.79Z" fill="#00c000" fill-opacity="0.5" stroke="#00c000" stroke-opacity="0.6" stroke-width="0.9"/>
<path d="M640.52,1069.34L645.52,1074.34L640.52,1079.34L635.52,1074.34Z" fill="#00c000" fill-opacity="0.5" stroke="#00c000" stroke-opacity="0.6" stroke-width="0.9"/>
<rect x="88.1" y="1060.69" width="7.4" height="7.4" fill="#ff0000" fill-opacity="0.5" stroke="#ff0000" stroke-opacity="0.6" stroke-width="0.9"/>
<rect x="116.98" y="1067.55" width="7.4" height="7.4" fill="#ff0000" fill-opacity="0.5" stroke="#ff0000" stroke-opacity="0.6" stroke-width="0.9"/>
<rect x="145.86" y="1070.98" width="7.4" height="7.4" fill="#ff0000" fill-opacity="0.5" stroke="#ff0000" stroke-opacity="0.6" stroke-width="0.9"/>
<rect x="174.74" y="1108.71" width="7.4" height="7.4" fill="#ff0000" fill-opacity="0.5" stroke="#ff0000" stroke-opacity="0.6" stroke-width="0.9"/>
<rect x="203.62" y="1033.25" width="7.4" height="7.4" fill="#ff0000" fill-opacity="0.5" stroke="#ff0000" stroke-opacity="0.6" stroke-width="0.9"/>
<rect x="232.5" y="1091.56" width="7.4" height="7.4" fill="#ff0000" fill-opacity="0.5" stroke="#ff0000" stroke-opacity="0.6" stroke-width="0.9"/>
<rect x="261.38" y="1039.42" width="7.4" height="7.4" fill="#ff0000" fill-opacity="0.5" stroke="#ff0000" stroke-opacity="0.6" stroke-width="0.9"/>
<rect x="290.26" y="1080.93" width="7.4" height="7.4" fill="#ff0000" fill-opacity="0.5" stroke="#ff0000" stroke-opacity="0.6" stroke-width="0.9"/>
<rect x="319.14" y="1015.41" width="7.4" height="7.4" fill="#ff0000" fill-opacity="0.5" stroke="#ff0000" stroke-opacity="0.6" stroke-width="0.9"/>
<rect x="348.02" y="1073.38" width="7.4" height="7.4" fill="#ff0000" fill-opacity="0.5" stroke="#ff0000" stroke-opacity="0.6" stroke-width="0.9"/>
<rect x="376.9" y="1043.2" width="7.4" height="7.4" fill="#ff0000" fill-opacity="0.5" stroke="#ff0000" stroke-opacity="0.6" stroke-width="0.9"/>
<rect x="405.78" y="1026.05" width="7.4" height="7.4" fill="#ff0000" fill-opacity="0.5" stroke="#ff0000" stroke-opacity="0.6" stroke-width="0.9"/>
<rect x="434.66" y="1074.07" width="7.4" height="7.4" fill="#ff0000" fill-opacity="0.5" stroke="#ff0000" stroke-opacity="0.6" stroke-width="0.9"/>
<rect x="463.54" y="1029.13" width="7.4" height="7.4" fill="#ff0000" fill-opacity="0.5" stroke="#ff0000" stroke-opacity="0.6" stroke-width="0.9"/>
<rect x="492.42" y="1095.33" width="7.4" height="7.4" fill="#ff0000" fill-opacity="0.5" stroke="#ff0000" stroke-opacity="0.6" stroke-width="0.9"/>
<rect x="521.3" y="1014.38" width="7.4" height="7.4" fill="#ff0000" fill-opacity="0.5" stroke="#ff0000" stroke-opacity="0.6" stroke-width="0.9"/>
<rect x="550.18" y="1046.63" width="7.4" height="7.4" fill="#ff0000" fill-opacity="0.5" stroke="#ff0000" stroke-opacity="0.6" stroke-width="0.9"/>
<rect x="579.06" y="1021.93" width="7.4" height="7.4" fill="#ff0000" fill-opacity="0.5" stroke="#ff0000" stroke-opacity="0.6" stroke-width="0.9"/>
<rect x="607.94" y="1115.23" width="7.4" height="7.4" fill="#ff0000" fill-opacity="0.5" stroke="#ff0000" stroke-opacity="0.6" stroke-width="0.9"/>
<rect x="636.82" y="1149.87" width="7.4" height="7.4" fill="#ff0000" fill-opacity="0.5" stroke="#ff0000" stroke-opacity="0.6" stroke-width="0.9"/>
<circle cx="91.8" cy="1043.81" r="3.9" fill="#0000ff" fill-opacity="0.5" stroke="#0000ff" stroke-opacity="0.55" stroke-width="0.9"/>
<circle cx="120.68" cy="1074.68" r="3.9" fill="#0000ff" fill-opacity="0.5" stroke="#0000ff" stroke-opacity="0.55" stroke-width="0.9"/>
<circle cx="149.56" cy="1026.66" r="3.9" fill="#0000ff" fill-opacity="0.5" stroke="#0000ff" stroke-opacity="0.55" stroke-width="0.9"/>
<circle cx="178.44" cy="1102.12" r="3.9" fill="#0000ff" fill-opacity="0.5" stroke="#0000ff" stroke-opacity="0.55" stroke-width="0.9"/>
<circle cx="207.32" cy="1012.94" r="3.9" fill="#0000ff" fill-opacity="0.5" stroke="#0000ff" stroke-opacity="0.55" stroke-width="0.9"/>
<circle cx="236.2" cy="1074.68" r="3.9" fill="#0000ff" fill-opacity="0.5" stroke="#0000ff" stroke-opacity="0.55" stroke-width="0.9"/>
<circle cx="265.08" cy="1008.82" r="3.9" fill="#0000ff" fill-opacity="0.5" stroke="#0000ff" stroke-opacity="0.55" stroke-width="0.9"/>
<circle cx="293.96" cy="1054.1" r="3.9" fill="#0000ff" fill-opacity="0.5" stroke="#0000ff" stroke-opacity="0.55" stroke-width="0.9"/>
<circle cx="322.84" cy="1005.39" r="3.9" fill="#0000ff" fill-opacity="0.5" stroke="#0000ff" stroke-opacity="0.55" stroke-width="0.9"/>
<circle cx="351.72" cy="1081.2" r="3.9" fill="#0000ff" fill-opacity="0.5" stroke="#0000ff" stroke-opacity="0.55" stroke-width="0.9"/>
<circle cx="380.6" cy="1036.95" r="3.9" fill="#0000ff" fill-opacity="0.5" stroke="#0000ff" stroke-opacity="0.55" stroke-width="0.9"/>
<circle cx="409.48" cy="1036.61" r="3.9" fill="#0000ff" fill-opacity="0.5" stroke="#0000ff" stroke-opacity="0.55" stroke-width="0.9"/>
<circle cx="438.36" cy="1061.3" r="3.9" fill="#0000ff" fill-opacity="0.5" stroke="#0000ff" stroke-opacity="0.55" stroke-width="0.9"/>
<circle cx="467.24" cy="1040.04" r="3.9" fill="#0000ff" fill-opacity="0.5" stroke="#0000ff" stroke-opacity="0.55" stroke-width="0.9"/>
<circle cx="496.12" cy="1070.56" r="3.9" fill="#0000ff" fill-opacity="0.5" stroke="#0000ff" stroke-opacity="0.55" stroke-width="0.9"/>
<circle cx="525" cy="1022.2" r="3.9" fill="#0000ff" fill-opacity="0.5" stroke="#0000ff" stroke-opacity="0.55" stroke-width="0.9"/>
<circle cx="553.88" cy="1043.12" r="3.9" fill="#0000ff" fill-opacity="0.5" stroke="#0000ff" stroke-opacity="0.55" stroke-width="0.9"/>
<circle cx="582.76" cy="1057.53" r="3.9" fill="#0000ff" fill-opacity="0.5" stroke="#0000ff" stroke-opacity="0.55" stroke-width="0.9"/>
<circle cx="611.64" cy="1073.65" r="3.9" fill="#0000ff" fill-opacity="0.5" stroke="#0000ff" stroke-opacity="0.55" stroke-width="0.9"/>
<circle cx="640.52" cy="1091.49" r="3.9" fill="#0000ff" fill-opacity="0.5" stroke="#0000ff" stroke-opacity="0.55" stroke-width="0.9"/>
<line x1="72.2" y1="949.9" x2="72.2" y2="1173.8" stroke="#000" stroke-width="2.6"/>
<line x1="67" y1="1173.8" x2="77.4" y2="1173.8" stroke="#000" stroke-width="2.6"/>
<line x1="67" y1="1190.1" x2="77.4" y2="1190.1" stroke="#000" stroke-width="2.6"/>
<line x1="72.2" y1="1190.1" x2="72.2" y2="1215.3" stroke="#000" stroke-width="2.6"/>
<line x1="65.7" y1="1215.3" x2="661.4" y2="1215.3" stroke="#000" stroke-width="2.6"/>
<line x1="63.6" y1="951.2" x2="72.2" y2="951.2" stroke="#000" stroke-width="2.6"/>
<text x="63.2" y="957.4" font-size="18" font-weight="bold" text-anchor="end">1.0</text>
<line x1="67.6" y1="968.35" x2="72.2" y2="968.35" stroke="#000" stroke-width="2.6"/>
<line x1="63.6" y1="985.5" x2="72.2" y2="985.5" stroke="#000" stroke-width="2.6"/>
<text x="63.2" y="991.7" font-size="18" font-weight="bold" text-anchor="end">0.9</text>
<line x1="67.6" y1="1002.65" x2="72.2" y2="1002.65" stroke="#000" stroke-width="2.6"/>
<line x1="63.6" y1="1019.8" x2="72.2" y2="1019.8" stroke="#000" stroke-width="2.6"/>
<text x="63.2" y="1026" font-size="18" font-weight="bold" text-anchor="end">0.8</text>
<line x1="67.6" y1="1036.95" x2="72.2" y2="1036.95" stroke="#000" stroke-width="2.6"/>
<line x1="63.6" y1="1054.1" x2="72.2" y2="1054.1" stroke="#000" stroke-width="2.6"/>
<text x="63.2" y="1060.3" font-size="18" font-weight="bold" text-anchor="end">0.7</text>
<line x1="67.6" y1="1071.25" x2="72.2" y2="1071.25" stroke="#000" stroke-width="2.6"/>
<line x1="63.6" y1="1088.4" x2="72.2" y2="1088.4" stroke="#000" stroke-width="2.6"/>
<text x="63.2" y="1094.6" font-size="18" font-weight="bold" text-anchor="end">0.6</text>
<line x1="67.6" y1="1105.55" x2="72.2" y2="1105.55" stroke="#000" stroke-width="2.6"/>
<line x1="63.6" y1="1122.7" x2="72.2" y2="1122.7" stroke="#000" stroke-width="2.6"/>
<text x="63.2" y="1128.9" font-size="18" font-weight="bold" text-anchor="end">0.5</text>
<line x1="67.6" y1="1139.85" x2="72.2" y2="1139.85" stroke="#000" stroke-width="2.6"/>
<line x1="63.6" y1="1157" x2="72.2" y2="1157" stroke="#000" stroke-width="2.6"/>
<text x="63.2" y="1163.2" font-size="18" font-weight="bold" text-anchor="end">0.4</text>
<text x="63.2" y="1196.3" font-size="18" font-weight="bold" text-anchor="end">0.1</text>
<text x="63.2" y="1220.9" font-size="18" font-weight="bold" text-anchor="end">0.0</text>
<text transform="translate(19.1 1069.7) rotate(-90) scale(1 1.11)" font-size="21.1" font-weight="bold" text-anchor="middle">AUC</text>
<line x1="91.8" y1="1215.3" x2="91.8" y2="1222.3" stroke="#000" stroke-width="2.6"/>
<text x="98.2" y="1233.5" font-size="17.0" font-weight="bold" text-anchor="end" transform="rotate(-45 98.2 1233.5)" stroke="#000" stroke-width="0.3">MALAT1</text>
<line x1="120.68" y1="1215.3" x2="120.68" y2="1222.3" stroke="#000" stroke-width="2.6"/>
<text x="127.08" y="1233.5" font-size="17.0" font-weight="bold" text-anchor="end" transform="rotate(-45 127.08 1233.5)" stroke="#000" stroke-width="0.3">PCA3</text>
<line x1="149.56" y1="1215.3" x2="149.56" y2="1222.3" stroke="#000" stroke-width="2.6"/>
<text x="155.96" y="1233.5" font-size="17.0" font-weight="bold" text-anchor="end" transform="rotate(-45 155.96 1233.5)" stroke="#000" stroke-width="0.3">TMPRSS2:ERG</text>
<line x1="178.44" y1="1215.3" x2="178.44" y2="1222.3" stroke="#000" stroke-width="2.6"/>
<text x="184.84" y="1233.5" font-size="17.0" font-weight="bold" text-anchor="end" transform="rotate(-45 184.84 1233.5)" stroke="#000" stroke-width="0.3">hsa-miR-1185-2-3p</text>
<line x1="207.32" y1="1215.3" x2="207.32" y2="1222.3" stroke="#000" stroke-width="2.6"/>
<text x="213.72" y="1233.5" font-size="17.0" font-weight="bold" text-anchor="end" transform="rotate(-45 213.72 1233.5)" stroke="#000" stroke-width="0.3">hsa-miR-125b-5p</text>
<line x1="236.2" y1="1215.3" x2="236.2" y2="1222.3" stroke="#000" stroke-width="2.6"/>
<text x="242.6" y="1233.5" font-size="17.0" font-weight="bold" text-anchor="end" transform="rotate(-45 242.6 1233.5)" stroke="#000" stroke-width="0.3">hsa-miR-141-3p</text>
<line x1="265.08" y1="1215.3" x2="265.08" y2="1222.3" stroke="#000" stroke-width="2.6"/>
<text x="271.48" y="1233.5" font-size="17.0" font-weight="bold" text-anchor="end" transform="rotate(-45 271.48 1233.5)" stroke="#000" stroke-width="0.3">hsa-miR-141-5p</text>
<line x1="293.96" y1="1215.3" x2="293.96" y2="1222.3" stroke="#000" stroke-width="2.6"/>
<text x="300.36" y="1233.5" font-size="17.0" font-weight="bold" text-anchor="end" transform="rotate(-45 300.36 1233.5)" stroke="#000" stroke-width="0.3">hsa-miR-146a-5p</text>
<line x1="322.84" y1="1215.3" x2="322.84" y2="1222.3" stroke="#000" stroke-width="2.6"/>
<text x="329.24" y="1233.5" font-size="17.0" font-weight="bold" text-anchor="end" transform="rotate(-45 329.24 1233.5)" stroke="#000" stroke-width="0.3">hsa-miR-17-3p</text>
<line x1="351.72" y1="1215.3" x2="351.72" y2="1222.3" stroke="#000" stroke-width="2.6"/>
<text x="358.12" y="1233.5" font-size="17.0" font-weight="bold" text-anchor="end" transform="rotate(-45 358.12 1233.5)" stroke="#000" stroke-width="0.3">hsa-miR-200b-3p</text>
<line x1="380.6" y1="1215.3" x2="380.6" y2="1222.3" stroke="#000" stroke-width="2.6"/>
<text x="387" y="1233.5" font-size="17.0" font-weight="bold" text-anchor="end" transform="rotate(-45 387 1233.5)" stroke="#000" stroke-width="0.3">hsa-miR-21-5p</text>
<line x1="409.48" y1="1215.3" x2="409.48" y2="1222.3" stroke="#000" stroke-width="2.6"/>
<text x="415.88" y="1233.5" font-size="17.0" font-weight="bold" text-anchor="end" transform="rotate(-45 415.88 1233.5)" stroke="#000" stroke-width="0.3">hsa-miR-222-3p</text>
<line x1="438.36" y1="1215.3" x2="438.36" y2="1222.3" stroke="#000" stroke-width="2.6"/>
<text x="444.76" y="1233.5" font-size="17.0" font-weight="bold" text-anchor="end" transform="rotate(-45 444.76 1233.5)" stroke="#000" stroke-width="0.3">hsa-miR-24-3p</text>
<line x1="467.24" y1="1215.3" x2="467.24" y2="1222.3" stroke="#000" stroke-width="2.6"/>
<text x="473.64" y="1233.5" font-size="17.0" font-weight="bold" text-anchor="end" transform="rotate(-45 473.64 1233.5)" stroke="#000" stroke-width="0.3">hsa-miR-27b-3p</text>
<line x1="496.12" y1="1215.3" x2="496.12" y2="1222.3" stroke="#000" stroke-width="2.6"/>
<text x="502.52" y="1233.5" font-size="17.0" font-weight="bold" text-anchor="end" transform="rotate(-45 502.52 1233.5)" stroke="#000" stroke-width="0.3">hsa-miR-30a-3p</text>
<line x1="525" y1="1215.3" x2="525" y2="1222.3" stroke="#000" stroke-width="2.6"/>
<text x="531.4" y="1233.5" font-size="17.0" font-weight="bold" text-anchor="end" transform="rotate(-45 531.4 1233.5)" stroke="#000" stroke-width="0.3">hsa-miR-30a-5p</text>
<line x1="553.88" y1="1215.3" x2="553.88" y2="1222.3" stroke="#000" stroke-width="2.6"/>
<text x="560.28" y="1233.5" font-size="17.0" font-weight="bold" text-anchor="end" transform="rotate(-45 560.28 1233.5)" stroke="#000" stroke-width="0.3">hsa-miR-30b-5p</text>
<line x1="582.76" y1="1215.3" x2="582.76" y2="1222.3" stroke="#000" stroke-width="2.6"/>
<text x="589.16" y="1233.5" font-size="17.0" font-weight="bold" text-anchor="end" transform="rotate(-45 589.16 1233.5)" stroke="#000" stroke-width="0.3">hsa-miR-30c-5p</text>
<line x1="611.64" y1="1215.3" x2="611.64" y2="1222.3" stroke="#000" stroke-width="2.6"/>
<text x="618.04" y="1233.5" font-size="17.0" font-weight="bold" text-anchor="end" transform="rotate(-45 618.04 1233.5)" stroke="#000" stroke-width="0.3">hsa-miR-31-5p</text>
<line x1="640.52" y1="1215.3" x2="640.52" y2="1222.3" stroke="#000" stroke-width="2.6"/>
<text x="646.92" y="1233.5" font-size="17.0" font-weight="bold" text-anchor="end" transform="rotate(-45 646.92 1233.5)" stroke="#000" stroke-width="0.3">hsa-miR-375</text>
<circle cx="673" cy="967.6" r="4.68" fill="#0000ff" fill-opacity="0.5" stroke="#0000ff" stroke-opacity="0.55" stroke-width="0.9"/>
<text x="693.6" y="974" font-size="18" font-weight="normal" text-anchor="start">SVC</text>
<rect x="668.56" y="988.81" width="8.88" height="8.88" fill="#ff0000" fill-opacity="0.5" stroke="#ff0000" stroke-opacity="0.6" stroke-width="0.9"/>
<text x="693.6" y="999.65" font-size="18" font-weight="normal" text-anchor="start">RF</text>
<path d="M673,1012.9L679,1018.9L673,1024.9L667,1018.9Z" fill="#00c000" fill-opacity="0.5" stroke="#00c000" stroke-opacity="0.6" stroke-width="0.9"/>
<text x="693.6" y="1025.3" font-size="18" font-weight="normal" text-anchor="start">LR</text>
<path d="M673,1039.13L678.16,1048.68L667.84,1048.68Z" fill="#a000e8" fill-opacity="0.5" stroke="#a000e8" stroke-opacity="0.45" stroke-width="0.8"/>
<text x="693.6" y="1050.95" font-size="18" font-weight="normal" text-anchor="start">NB</text>
<path d="M673,1075.62L678.16,1066.07L667.84,1066.07Z" fill="#ff7800" fill-opacity="0.55" stroke="#ff7800" stroke-opacity="0.45" stroke-width="0.8"/>
<text x="693.6" y="1076.6" font-size="18" font-weight="normal" text-anchor="start">GB</text>
<path d="M673,1090.21L674.33,1094.02L678.36,1094.11L675.15,1096.55L676.32,1100.41L673,1098.11L669.68,1100.41L670.85,1096.55L667.64,1094.11L671.67,1094.02Z" fill="#2a2a2a" fill-opacity="0.68" stroke="#111" stroke-opacity="0.55" stroke-width="0.6"/>
<text x="693.6" y="1102.25" font-size="18" font-weight="normal" text-anchor="start">MLP</text>
<line x1="89.5" y1="1373.3" x2="89.5" y2="1637.3" stroke="#c4c4c4" stroke-width="1" stroke-dasharray="1 1"/>
<line x1="118.5" y1="1373.3" x2="118.5" y2="1637.3" stroke="#c4c4c4" stroke-width="1" stroke-dasharray="1 1"/>
<line x1="147.5" y1="1373.3" x2="147.5" y2="1637.3" stroke="#c4c4c4" stroke-width="1" stroke-dasharray="1 1"/>
<line x1="175.5" y1="1373.3" x2="175.5" y2="1637.3" stroke="#c4c4c4" stroke-width="1" stroke-dasharray="1 1"/>
<line x1="204.5" y1="1373.3" x2="204.5" y2="1637.3" stroke="#c4c4c4" stroke-width="1" stroke-dasharray="1 1"/>
<line x1="233.5" y1="1373.3" x2="233.5" y2="1637.3" stroke="#c4c4c4" stroke-width="1" stroke-dasharray="1 1"/>
<line x1="262.5" y1="1373.3" x2="262.5" y2="1637.3" stroke="#c4c4c4" stroke-width="1" stroke-dasharray="1 1"/>
<line x1="291.5" y1="1373.3" x2="291.5" y2="1637.3" stroke="#c4c4c4" stroke-width="1" stroke-dasharray="1 1"/>
<line x1="320.5" y1="1373.3" x2="320.5" y2="1637.3" stroke="#c4c4c4" stroke-width="1" stroke-dasharray="1 1"/>
<line x1="349.5" y1="1373.3" x2="349.5" y2="1637.3" stroke="#c4c4c4" stroke-width="1" stroke-dasharray="1 1"/>
<line x1="378.5" y1="1373.3" x2="378.5" y2="1637.3" stroke="#c4c4c4" stroke-width="1" stroke-dasharray="1 1"/>
<line x1="407.5" y1="1373.3" x2="407.5" y2="1637.3" stroke="#c4c4c4" stroke-width="1" stroke-dasharray="1 1"/>
<line x1="435.5" y1="1373.3" x2="435.5" y2="1637.3" stroke="#c4c4c4" stroke-width="1" stroke-dasharray="1 1"/>
<line x1="464.5" y1="1373.3" x2="464.5" y2="1637.3" stroke="#c4c4c4" stroke-width="1" stroke-dasharray="1 1"/>
<line x1="493.5" y1="1373.3" x2="493.5" y2="1637.3" stroke="#c4c4c4" stroke-width="1" stroke-dasharray="1 1"/>
<line x1="522.5" y1="1373.3" x2="522.5" y2="1637.3" stroke="#c4c4c4" stroke-width="1" stroke-dasharray="1 1"/>
<line x1="551.5" y1="1373.3" x2="551.5" y2="1637.3" stroke="#c4c4c4" stroke-width="1" stroke-dasharray="1 1"/>
<line x1="580.5" y1="1373.3" x2="580.5" y2="1637.3" stroke="#c4c4c4" stroke-width="1" stroke-dasharray="1 1"/>
<line x1="609.5" y1="1373.3" x2="609.5" y2="1637.3" stroke="#c4c4c4" stroke-width="1" stroke-dasharray="1 1"/>
<line x1="638.5" y1="1373.3" x2="638.5" y2="1637.3" stroke="#c4c4c4" stroke-width="1" stroke-dasharray="1 1"/>
<path d="M89.1,1468.33L90.21,1471.5L93.57,1471.57L90.89,1473.61L91.86,1476.83L89.1,1474.91L86.34,1476.83L87.31,1473.61L84.63,1471.57L87.99,1471.5Z" fill="#2a2a2a" fill-opacity="0.68" stroke="#111" stroke-opacity="0.55" stroke-width="0.6"/>
<path d="M117.99,1457.36L119.1,1460.54L122.46,1460.61L119.78,1462.64L120.75,1465.86L117.99,1463.94L115.23,1465.86L116.2,1462.64L113.52,1460.61L116.88,1460.54Z" fill="#2a2a2a" fill-opacity="0.68" stroke="#111" stroke-opacity="0.55" stroke-width="0.6"/>
<path d="M146.88,1481.35L147.99,1484.53L151.35,1484.6L148.67,1486.63L149.64,1489.85L146.88,1487.93L144.12,1489.85L145.09,1486.63L142.41,1484.6L145.77,1484.53Z" fill="#2a2a2a" fill-opacity="0.68" stroke="#111" stroke-opacity="0.55" stroke-width="0.6"/>
<path d="M175.77,1477.58L176.88,1480.76L180.24,1480.83L177.56,1482.86L178.53,1486.08L175.77,1484.16L173.01,1486.08L173.98,1482.86L171.3,1480.83L174.66,1480.76Z" fill="#2a2a2a" fill-opacity="0.68" stroke="#111" stroke-opacity="0.55" stroke-width="0.6"/>
<path d="M204.66,1444.68L205.77,1447.86L209.13,1447.93L206.45,1449.96L207.42,1453.18L204.66,1451.26L201.9,1453.18L202.87,1449.96L200.19,1447.93L203.55,1447.86Z" fill="#2a2a2a" fill-opacity="0.68" stroke="#111" stroke-opacity="0.55" stroke-width="0.6"/>
<path d="M233.55,1462.5L234.66,1465.68L238.02,1465.75L235.34,1467.78L236.31,1471L233.55,1469.08L230.79,1471L231.76,1467.78L229.08,1465.75L232.44,1465.68Z" fill="#2a2a2a" fill-opacity="0.68" stroke="#111" stroke-opacity="0.55" stroke-width="0.6"/>
<path d="M262.44,1434.74L263.55,1437.92L266.91,1437.99L264.23,1440.02L265.2,1443.24L262.44,1441.32L259.68,1443.24L260.65,1440.02L257.97,1437.99L261.33,1437.92Z" fill="#2a2a2a" fill-opacity="0.68" stroke="#111" stroke-opacity="0.55" stroke-width="0.6"/>
<path d="M291.33,1453.59L292.44,1456.77L295.8,1456.84L293.12,1458.87L294.09,1462.09L291.33,1460.17L288.57,1462.09L289.54,1458.87L286.86,1456.84L290.22,1456.77Z" fill="#2a2a2a" fill-opacity="0.68" stroke="#111" stroke-opacity="0.55" stroke-width="0.6"/>
<path d="M320.22,1475.87L321.33,1479.04L324.69,1479.11L322.01,1481.15L322.98,1484.37L320.22,1482.45L317.46,1484.37L318.43,1481.15L315.75,1479.11L319.11,1479.04Z" fill="#2a2a2a" fill-opacity="0.68" stroke="#111" stroke-opacity="0.55" stroke-width="0.6"/>
<path d="M349.11,1478.95L350.22,1482.13L353.58,1482.2L350.9,1484.23L351.87,1487.45L349.11,1485.53L346.35,1487.45L347.32,1484.23L344.64,1482.2L348,1482.13Z" fill="#2a2a2a" fill-opacity="0.68" stroke="#111" stroke-opacity="0.55" stroke-width="0.6"/>
<path d="M378,1459.42L379.11,1462.59L382.47,1462.66L379.79,1464.7L380.76,1467.92L378,1466L375.24,1467.92L376.21,1464.7L373.53,1462.66L376.89,1462.59Z" fill="#2a2a2a" fill-opacity="0.68" stroke="#111" stroke-opacity="0.55" stroke-width="0.6"/>
<path d="M406.89,1434.06L408,1437.23L411.36,1437.3L408.68,1439.34L409.65,1442.56L406.89,1440.64L404.13,1442.56L405.1,1439.34L402.42,1437.3L405.78,1437.23Z" fill="#2a2a2a" fill-opacity="0.68" stroke="#111" stroke-opacity="0.55" stroke-width="0.6"/>
<path d="M435.78,1457.02L436.89,1460.2L440.25,1460.26L437.57,1462.3L438.54,1465.52L435.78,1463.6L433.02,1465.52L433.99,1462.3L431.31,1460.26L434.67,1460.2Z" fill="#2a2a2a" fill-opacity="0.68" stroke="#111" stroke-opacity="0.55" stroke-width="0.6"/>
<path d="M464.67,1443.31L465.78,1446.49L469.14,1446.56L466.46,1448.59L467.43,1451.81L464.67,1449.89L461.91,1451.81L462.88,1448.59L460.2,1446.56L463.56,1446.49Z" fill="#2a2a2a" fill-opacity="0.68" stroke="#111" stroke-opacity="0.55" stroke-width="0.6"/>
<path d="M493.56,1478.61L494.67,1481.79L498.03,1481.85L495.35,1483.89L496.32,1487.11L493.56,1485.19L490.8,1487.11L491.77,1483.89L489.09,1481.85L492.45,1481.79Z" fill="#2a2a2a" fill-opacity="0.68" stroke="#111" stroke-opacity="0.55" stroke-width="0.6"/>
<path d="M522.45,1453.93L523.56,1457.11L526.92,1457.18L524.24,1459.21L525.21,1462.43L522.45,1460.51L519.69,1462.43L520.66,1459.21L517.98,1457.18L521.34,1457.11Z" fill="#2a2a2a" fill-opacity="0.68" stroke="#111" stroke-opacity="0.55" stroke-width="0.6"/>
<path d="M551.34,1458.73L552.45,1461.91L555.81,1461.98L553.13,1464.01L554.1,1467.23L551.34,1465.31L548.58,1467.23L549.55,1464.01L546.87,1461.98L550.23,1461.91Z" fill="#2a2a2a" fill-opacity="0.68" stroke="#111" stroke-opacity="0.55" stroke-width="0.6"/>
<path d="M580.23,1447.42L581.34,1450.6L584.7,1450.67L582.02,1452.7L582.99,1455.92L580.23,1454L577.47,1455.92L578.44,1452.7L575.76,1450.67L579.12,1450.6Z" fill="#2a2a2a" fill-opacity="0.68" stroke="#111" stroke-opacity="0.55" stroke-width="0.6"/>
<path d="M609.12,1463.19L610.23,1466.36L613.59,1466.43L610.91,1468.47L611.88,1471.69L609.12,1469.77L606.36,1471.69L607.33,1468.47L604.65,1466.43L608.01,1466.36Z" fill="#2a2a2a" fill-opacity="0.68" stroke="#111" stroke-opacity="0.55" stroke-width="0.6"/>
<path d="M638.01,1478.26L639.12,1481.44L642.48,1481.51L639.8,1483.54L640.77,1486.77L638.01,1484.84L635.25,1486.77L636.22,1483.54L633.54,1481.51L636.9,1481.44Z" fill="#2a2a2a" fill-opacity="0.68" stroke="#111" stroke-opacity="0.55" stroke-width="0.6"/>
<path d="M89.1,1484.05L93.4,1476.1L84.8,1476.1Z" fill="#ff7800" fill-opacity="0.55" stroke="#ff7800" stroke-opacity="0.45" stroke-width="0.8"/>
<path d="M117.99,1504.96L122.29,1497L113.69,1497Z" fill="#ff7800" fill-opacity="0.55" stroke="#ff7800" stroke-opacity="0.45" stroke-width="0.8"/>
<path d="M146.88,1484.05L151.18,1476.1L142.58,1476.1Z" fill="#ff7800" fill-opacity="0.55" stroke="#ff7800" stroke-opacity="0.45" stroke-width="0.8"/>
<path d="M175.77,1513.18L180.07,1505.23L171.47,1505.23Z" fill="#ff7800" fill-opacity="0.55" stroke="#ff7800" stroke-opacity="0.45" stroke-width="0.8"/>
<path d="M204.66,1453.89L208.96,1445.94L200.36,1445.94Z" fill="#ff7800" fill-opacity="0.55" stroke="#ff7800" stroke-opacity="0.45" stroke-width="0.8"/>
<path d="M233.55,1508.04L237.85,1500.09L229.25,1500.09Z" fill="#ff7800" fill-opacity="0.55" stroke="#ff7800" stroke-opacity="0.45" stroke-width="0.8"/>
<path d="M262.44,1474.8L266.74,1466.84L258.14,1466.84Z" fill="#ff7800" fill-opacity="0.55" stroke="#ff7800" stroke-opacity="0.45" stroke-width="0.8"/>
<path d="M291.33,1489.54L295.63,1481.58L287.03,1481.58Z" fill="#ff7800" fill-opacity="0.55" stroke="#ff7800" stroke-opacity="0.45" stroke-width="0.8"/>
<path d="M320.22,1453.89L324.52,1445.94L315.92,1445.94Z" fill="#ff7800" fill-opacity="0.55" stroke="#ff7800" stroke-opacity="0.45" stroke-width="0.8"/>
<path d="M349.11,1518.32L353.41,1510.37L344.81,1510.37Z" fill="#ff7800" fill-opacity="0.55" stroke="#ff7800" stroke-opacity="0.45" stroke-width="0.8"/>
<path d="M378,1483.37L382.3,1475.41L373.7,1475.41Z" fill="#ff7800" fill-opacity="0.55" stroke="#ff7800" stroke-opacity="0.45" stroke-width="0.8"/>
<path d="M406.89,1457.32L411.19,1449.37L402.59,1449.37Z" fill="#ff7800" fill-opacity="0.55" stroke="#ff7800" stroke-opacity="0.45" stroke-width="0.8"/>
<path d="M435.78,1491.59L440.08,1483.64L431.48,1483.64Z" fill="#ff7800" fill-opacity="0.55" stroke="#ff7800" stroke-opacity="0.45" stroke-width="0.8"/>
<path d="M464.67,1480.62L468.97,1472.67L460.37,1472.67Z" fill="#ff7800" fill-opacity="0.55" stroke="#ff7800" stroke-opacity="0.45" stroke-width="0.8"/>
<path d="M493.56,1531.34L497.86,1523.39L489.26,1523.39Z" fill="#ff7800" fill-opacity="0.55" stroke="#ff7800" stroke-opacity="0.45" stroke-width="0.8"/>
<path d="M522.45,1463.49L526.75,1455.53L518.15,1455.53Z" fill="#ff7800" fill-opacity="0.55" stroke="#ff7800" stroke-opacity="0.45" stroke-width="0.8"/>
<path d="M551.34,1480.62L555.64,1472.67L547.04,1472.67Z" fill="#ff7800" fill-opacity="0.55" stroke="#ff7800" stroke-opacity="0.45" stroke-width="0.8"/>
<path d="M580.23,1461.09L584.53,1453.14L575.93,1453.14Z" fill="#ff7800" fill-opacity="0.55" stroke="#ff7800" stroke-opacity="0.45" stroke-width="0.8"/>
<path d="M609.12,1522.43L613.42,1514.48L604.82,1514.48Z" fill="#ff7800" fill-opacity="0.55" stroke="#ff7800" stroke-opacity="0.45" stroke-width="0.8"/>
<path d="M638.01,1492.62L642.31,1484.66L633.71,1484.66Z" fill="#ff7800" fill-opacity="0.55" stroke="#ff7800" stroke-opacity="0.45" stroke-width="0.8"/>
<path d="M89.1,1458.23L93.4,1466.18L84.8,1466.18Z" fill="#a000e8" fill-opacity="0.5" stroke="#a000e8" stroke-opacity="0.45" stroke-width="0.8"/>
<path d="M117.99,1453.77L122.29,1461.73L113.69,1461.73Z" fill="#a000e8" fill-opacity="0.5" stroke="#a000e8" stroke-opacity="0.45" stroke-width="0.8"/>
<path d="M146.88,1475.02L151.18,1482.98L142.58,1482.98Z" fill="#a000e8" fill-opacity="0.5" stroke="#a000e8" stroke-opacity="0.45" stroke-width="0.8"/>
<path d="M175.77,1481.53L180.07,1489.49L171.47,1489.49Z" fill="#a000e8" fill-opacity="0.5" stroke="#a000e8" stroke-opacity="0.45" stroke-width="0.8"/>
<path d="M204.66,1421.9L208.96,1429.86L200.36,1429.86Z" fill="#a000e8" fill-opacity="0.5" stroke="#a000e8" stroke-opacity="0.45" stroke-width="0.8"/>
<path d="M233.55,1458.23L237.85,1466.18L229.25,1466.18Z" fill="#a000e8" fill-opacity="0.5" stroke="#a000e8" stroke-opacity="0.45" stroke-width="0.8"/>
<path d="M262.44,1431.5L266.74,1439.45L258.14,1439.45Z" fill="#a000e8" fill-opacity="0.5" stroke="#a000e8" stroke-opacity="0.45" stroke-width="0.8"/>
<path d="M291.33,1459.6L295.63,1467.56L287.03,1467.56Z" fill="#a000e8" fill-opacity="0.5" stroke="#a000e8" stroke-opacity="0.45" stroke-width="0.8"/>
<path d="M320.22,1423.96L324.52,1431.91L315.92,1431.91Z" fill="#a000e8" fill-opacity="0.5" stroke="#a000e8" stroke-opacity="0.45" stroke-width="0.8"/>
<path d="M349.11,1475.36L353.41,1483.32L344.81,1483.32Z" fill="#a000e8" fill-opacity="0.5" stroke="#a000e8" stroke-opacity="0.45" stroke-width="0.8"/>
<path d="M378,1441.78L382.3,1449.74L373.7,1449.74Z" fill="#a000e8" fill-opacity="0.5" stroke="#a000e8" stroke-opacity="0.45" stroke-width="0.8"/>
<path d="M406.89,1440.75L411.19,1448.71L402.59,1448.71Z" fill="#a000e8" fill-opacity="0.5" stroke="#a000e8" stroke-opacity="0.45" stroke-width="0.8"/>
<path d="M435.78,1439.04L440.08,1446.99L431.48,1446.99Z" fill="#a000e8" fill-opacity="0.5" stroke="#a000e8" stroke-opacity="0.45" stroke-width="0.8"/>
<path d="M464.67,1428.07L468.97,1436.03L460.37,1436.03Z" fill="#a000e8" fill-opacity="0.5" stroke="#a000e8" stroke-opacity="0.45" stroke-width="0.8"/>
<path d="M493.56,1469.88L497.86,1477.84L489.26,1477.84Z" fill="#a000e8" fill-opacity="0.5" stroke="#a000e8" stroke-opacity="0.45" stroke-width="0.8"/>
<path d="M522.45,1439.72L526.75,1447.68L518.15,1447.68Z" fill="#a000e8" fill-opacity="0.5" stroke="#a000e8" stroke-opacity="0.45" stroke-width="0.8"/>
<path d="M551.34,1453.43L555.64,1461.39L547.04,1461.39Z" fill="#a000e8" fill-opacity="0.5" stroke="#a000e8" stroke-opacity="0.45" stroke-width="0.8"/>
<path d="M580.23,1449.32L584.53,1457.27L575.93,1457.27Z" fill="#a000e8" fill-opacity="0.5" stroke="#a000e8" stroke-opacity="0.45" stroke-width="0.8"/>
<path d="M609.12,1463.37L613.42,1471.33L604.82,1471.33Z" fill="#a000e8" fill-opacity="0.5" stroke="#a000e8" stroke-opacity="0.45" stroke-width="0.8"/>
<path d="M638.01,1477.76L642.31,1485.72L633.71,1485.72Z" fill="#a000e8" fill-opacity="0.5" stroke="#a000e8" stroke-opacity="0.45" stroke-width="0.8"/>
<path d="M89.1,1472.14L94.1,1477.14L89.1,1482.14L84.1,1477.14Z" fill="#00c000" fill-opacity="0.5" stroke="#00c000" stroke-opacity="0.6" stroke-width="0.9"/>
<path d="M117.99,1487.22L122.99,1492.22L117.99,1497.22L112.99,1492.22Z" fill="#00c000" fill-opacity="0.5" stroke="#00c000" stroke-opacity="0.6" stroke-width="0.9"/>
<path d="M146.88,1466.65L151.88,1471.65L146.88,1476.65L141.88,1471.65Z" fill="#00c000" fill-opacity="0.5" stroke="#00c000" stroke-opacity="0.6" stroke-width="0.9"/>
<path d="M175.77,1524.23L180.77,1529.23L175.77,1534.23L170.77,1529.23Z" fill="#00c000" fill-opacity="0.5" stroke="#00c000" stroke-opacity="0.6" stroke-width="0.9"/>
<path d="M204.66,1427.59L209.66,1432.59L204.66,1437.59L199.66,1432.59Z" fill="#00c000" fill-opacity="0.5" stroke="#00c000" stroke-opacity="0.6" stroke-width="0.9"/>
<path d="M233.55,1474.19L238.55,1479.19L233.55,1484.19L228.55,1479.19Z" fill="#00c000" fill-opacity="0.5" stroke="#00c000" stroke-opacity="0.6" stroke-width="0.9"/>
<path d="M262.44,1452.26L267.44,1457.26L262.44,1462.26L257.44,1457.26Z" fill="#00c000" fill-opacity="0.5" stroke="#00c000" stroke-opacity="0.6" stroke-width="0.9"/>
<path d="M291.33,1474.88L296.33,1479.88L291.33,1484.88L286.33,1479.88Z" fill="#00c000" fill-opacity="0.5" stroke="#00c000" stroke-opacity="0.6" stroke-width="0.9"/>
<path d="M320.22,1452.95L325.22,1457.95L320.22,1462.95L315.22,1457.95Z" fill="#00c000" fill-opacity="0.5" stroke="#00c000" stroke-opacity="0.6" stroke-width="0.9"/>
<path d="M349.11,1502.64L354.11,1507.64L349.11,1512.64L344.11,1507.64Z" fill="#00c000" fill-opacity="0.5" stroke="#00c000" stroke-opacity="0.6" stroke-width="0.9"/>
<path d="M378,1453.29L383,1458.29L378,1463.29L373,1458.29Z" fill="#00c000" fill-opacity="0.5" stroke="#00c000" stroke-opacity="0.6" stroke-width="0.9"/>
<path d="M406.89,1438.9L411.89,1443.9L406.89,1448.9L401.89,1443.9Z" fill="#00c000" fill-opacity="0.5" stroke="#00c000" stroke-opacity="0.6" stroke-width="0.9"/>
<path d="M435.78,1453.63L440.78,1458.63L435.78,1463.63L430.78,1458.63Z" fill="#00c000" fill-opacity="0.5" stroke="#00c000" stroke-opacity="0.6" stroke-width="0.9"/>
<path d="M464.67,1456.72L469.67,1461.72L464.67,1466.72L459.67,1461.72Z" fill="#00c000" fill-opacity="0.5" stroke="#00c000" stroke-opacity="0.6" stroke-width="0.9"/>
<path d="M493.56,1488.59L498.56,1493.59L493.56,1498.59L488.56,1493.59Z" fill="#00c000" fill-opacity="0.5" stroke="#00c000" stroke-opacity="0.6" stroke-width="0.9"/>
<path d="M522.45,1451.58L527.45,1456.58L522.45,1461.58L517.45,1456.58Z" fill="#00c000" fill-opacity="0.5" stroke="#00c000" stroke-opacity="0.6" stroke-width="0.9"/>
<path d="M551.34,1468.03L556.34,1473.03L551.34,1478.03L546.34,1473.03Z" fill="#00c000" fill-opacity="0.5" stroke="#00c000" stroke-opacity="0.6" stroke-width="0.9"/>
<path d="M580.23,1432.73L585.23,1437.73L580.23,1442.73L575.23,1437.73Z" fill="#00c000" fill-opacity="0.5" stroke="#00c000" stroke-opacity="0.6" stroke-width="0.9"/>
<path d="M609.12,1491.67L614.12,1496.67L609.12,1501.67L604.12,1496.67Z" fill="#00c000" fill-opacity="0.5" stroke="#00c000" stroke-opacity="0.6" stroke-width="0.9"/>
<path d="M638.01,1507.09L643.01,1512.09L638.01,1517.09L633.01,1512.09Z" fill="#00c000" fill-opacity="0.5" stroke="#00c000" stroke-opacity="0.6" stroke-width="0.9"/>
<rect x="85.4" y="1477.55" width="7.4" height="7.4" fill="#ff0000" fill-opacity="0.5" stroke="#ff0000" stroke-opacity="0.6" stroke-width="0.9"/>
<rect x="114.29" y="1502.22" width="7.4" height="7.4" fill="#ff0000" fill-opacity="0.5" stroke="#ff0000" stroke-opacity="0.6" stroke-width="0.9"/>
<rect x="143.18" y="1475.49" width="7.4" height="7.4" fill="#ff0000" fill-opacity="0.5" stroke="#ff0000" stroke-opacity="0.6" stroke-width="0.9"/>
<rect x="172.07" y="1518.67" width="7.4" height="7.4" fill="#ff0000" fill-opacity="0.5" stroke="#ff0000" stroke-opacity="0.6" stroke-width="0.9"/>
<rect x="200.96" y="1457.33" width="7.4" height="7.4" fill="#ff0000" fill-opacity="0.5" stroke="#ff0000" stroke-opacity="0.6" stroke-width="0.9"/>
<rect x="229.85" y="1515.25" width="7.4" height="7.4" fill="#ff0000" fill-opacity="0.5" stroke="#ff0000" stroke-opacity="0.6" stroke-width="0.9"/>
<rect x="258.74" y="1476.18" width="7.4" height="7.4" fill="#ff0000" fill-opacity="0.5" stroke="#ff0000" stroke-opacity="0.6" stroke-width="0.9"/>
<rect x="287.63" y="1473.44" width="7.4" height="7.4" fill="#ff0000" fill-opacity="0.5" stroke="#ff0000" stroke-opacity="0.6" stroke-width="0.9"/>
<rect x="316.52" y="1448.76" width="7.4" height="7.4" fill="#ff0000" fill-opacity="0.5" stroke="#ff0000" stroke-opacity="0.6" stroke-width="0.9"/>
<rect x="345.41" y="1510.79" width="7.4" height="7.4" fill="#ff0000" fill-opacity="0.5" stroke="#ff0000" stroke-opacity="0.6" stroke-width="0.9"/>
<rect x="374.3" y="1481.32" width="7.4" height="7.4" fill="#ff0000" fill-opacity="0.5" stroke="#ff0000" stroke-opacity="0.6" stroke-width="0.9"/>
<rect x="403.19" y="1452.88" width="7.4" height="7.4" fill="#ff0000" fill-opacity="0.5" stroke="#ff0000" stroke-opacity="0.6" stroke-width="0.9"/>
<rect x="432.08" y="1483.38" width="7.4" height="7.4" fill="#ff0000" fill-opacity="0.5" stroke="#ff0000" stroke-opacity="0.6" stroke-width="0.9"/>
<rect x="460.97" y="1472.41" width="7.4" height="7.4" fill="#ff0000" fill-opacity="0.5" stroke="#ff0000" stroke-opacity="0.6" stroke-width="0.9"/>
<rect x="489.86" y="1538.89" width="7.4" height="7.4" fill="#ff0000" fill-opacity="0.5" stroke="#ff0000" stroke-opacity="0.6" stroke-width="0.9"/>
<rect x="518.75" y="1456.3" width="7.4" height="7.4" fill="#ff0000" fill-opacity="0.5" stroke="#ff0000" stroke-opacity="0.6" stroke-width="0.9"/>
<rect x="547.64" y="1475.15" width="7.4" height="7.4" fill="#ff0000" fill-opacity="0.5" stroke="#ff0000" stroke-opacity="0.6" stroke-width="0.9"/>
<rect x="576.53" y="1459.73" width="7.4" height="7.4" fill="#ff0000" fill-opacity="0.5" stroke="#ff0000" stroke-opacity="0.6" stroke-width="0.9"/>
<rect x="605.42" y="1534.1" width="7.4" height="7.4" fill="#ff0000" fill-opacity="0.5" stroke="#ff0000" stroke-opacity="0.6" stroke-width="0.9"/>
<rect x="634.31" y="1491.26" width="7.4" height="7.4" fill="#ff0000" fill-opacity="0.5" stroke="#ff0000" stroke-opacity="0.6" stroke-width="0.9"/>
<circle cx="89.1" cy="1486.05" r="3.9" fill="#0000ff" fill-opacity="0.5" stroke="#0000ff" stroke-opacity="0.55" stroke-width="0.9"/>
<circle cx="117.99" cy="1476.45" r="3.9" fill="#0000ff" fill-opacity="0.5" stroke="#0000ff" stroke-opacity="0.55" stroke-width="0.9"/>
<circle cx="146.88" cy="1463.09" r="3.9" fill="#0000ff" fill-opacity="0.5" stroke="#0000ff" stroke-opacity="0.55" stroke-width="0.9"/>
<circle cx="175.77" cy="1498.39" r="3.9" fill="#0000ff" fill-opacity="0.5" stroke="#0000ff" stroke-opacity="0.55" stroke-width="0.9"/>
<circle cx="204.66" cy="1420.59" r="3.9" fill="#0000ff" fill-opacity="0.5" stroke="#0000ff" stroke-opacity="0.55" stroke-width="0.9"/>
<circle cx="233.55" cy="1470.63" r="3.9" fill="#0000ff" fill-opacity="0.5" stroke="#0000ff" stroke-opacity="0.55" stroke-width="0.9"/>
<circle cx="262.44" cy="1455.55" r="3.9" fill="#0000ff" fill-opacity="0.5" stroke="#0000ff" stroke-opacity="0.55" stroke-width="0.9"/>
<circle cx="291.33" cy="1463.43" r="3.9" fill="#0000ff" fill-opacity="0.5" stroke="#0000ff" stroke-opacity="0.55" stroke-width="0.9"/>
<circle cx="320.22" cy="1437.04" r="3.9" fill="#0000ff" fill-opacity="0.5" stroke="#0000ff" stroke-opacity="0.55" stroke-width="0.9"/>
<circle cx="349.11" cy="1515.52" r="3.9" fill="#0000ff" fill-opacity="0.5" stroke="#0000ff" stroke-opacity="0.55" stroke-width="0.9"/>
<circle cx="378" cy="1460" r="3.9" fill="#0000ff" fill-opacity="0.5" stroke="#0000ff" stroke-opacity="0.55" stroke-width="0.9"/>
<circle cx="406.89" cy="1446.3" r="3.9" fill="#0000ff" fill-opacity="0.5" stroke="#0000ff" stroke-opacity="0.55" stroke-width="0.9"/>
<circle cx="435.78" cy="1447.67" r="3.9" fill="#0000ff" fill-opacity="0.5" stroke="#0000ff" stroke-opacity="0.55" stroke-width="0.9"/>
<circle cx="464.67" cy="1444.92" r="3.9" fill="#0000ff" fill-opacity="0.5" stroke="#0000ff" stroke-opacity="0.55" stroke-width="0.9"/>
<circle cx="493.56" cy="1488.45" r="3.9" fill="#0000ff" fill-opacity="0.5" stroke="#0000ff" stroke-opacity="0.55" stroke-width="0.9"/>
<circle cx="522.45" cy="1458.63" r="3.9" fill="#0000ff" fill-opacity="0.5" stroke="#0000ff" stroke-opacity="0.55" stroke-width="0.9"/>
<circle cx="551.34" cy="1463.43" r="3.9" fill="#0000ff" fill-opacity="0.5" stroke="#0000ff" stroke-opacity="0.55" stroke-width="0.9"/>
<circle cx="580.23" cy="1442.87" r="3.9" fill="#0000ff" fill-opacity="0.5" stroke="#0000ff" stroke-opacity="0.55" stroke-width="0.9"/>
<circle cx="609.12" cy="1479.19" r="3.9" fill="#0000ff" fill-opacity="0.5" stroke="#0000ff" stroke-opacity="0.55" stroke-width="0.9"/>
<circle cx="638.01" cy="1529.91" r="3.9" fill="#0000ff" fill-opacity="0.5" stroke="#0000ff" stroke-opacity="0.55" stroke-width="0.9"/>
<line x1="70.5" y1="1372" x2="70.5" y2="1596" stroke="#000" stroke-width="2.6"/>
<line x1="65.3" y1="1596" x2="75.7" y2="1596" stroke="#000" stroke-width="2.6"/>
<line x1="65.3" y1="1612" x2="75.7" y2="1612" stroke="#000" stroke-width="2.6"/>
<line x1="70.5" y1="1612" x2="70.5" y2="1637.3" stroke="#000" stroke-width="2.6"/>
<line x1="63.1" y1="1637.3" x2="660.1" y2="1637.3" stroke="#000" stroke-width="2.6"/>
<line x1="61.9" y1="1373.3" x2="70.5" y2="1373.3" stroke="#000" stroke-width="2.6"/>
<text x="60.3" y="1379.5" font-size="18" font-weight="bold" text-anchor="end">1.0</text>
<line x1="65.9" y1="1390.43" x2="70.5" y2="1390.43" stroke="#000" stroke-width="2.6"/>
<line x1="61.9" y1="1407.57" x2="70.5" y2="1407.57" stroke="#000" stroke-width="2.6"/>
<text x="60.3" y="1413.77" font-size="18" font-weight="bold" text-anchor="end">0.9</text>
<line x1="65.9" y1="1424.7" x2="70.5" y2="1424.7" stroke="#000" stroke-width="2.6"/>
<line x1="61.9" y1="1441.84" x2="70.5" y2="1441.84" stroke="#000" stroke-width="2.6"/>
<text x="60.3" y="1448.04" font-size="18" font-weight="bold" text-anchor="end">0.8</text>
<line x1="65.9" y1="1458.97" x2="70.5" y2="1458.97" stroke="#000" stroke-width="2.6"/>
<line x1="61.9" y1="1476.11" x2="70.5" y2="1476.11" stroke="#000" stroke-width="2.6"/>
<text x="60.3" y="1482.31" font-size="18" font-weight="bold" text-anchor="end">0.7</text>
<line x1="65.9" y1="1493.24" x2="70.5" y2="1493.24" stroke="#000" stroke-width="2.6"/>
<line x1="61.9" y1="1510.38" x2="70.5" y2="1510.38" stroke="#000" stroke-width="2.6"/>
<text x="60.3" y="1516.58" font-size="18" font-weight="bold" text-anchor="end">0.6</text>
<line x1="65.9" y1="1527.51" x2="70.5" y2="1527.51" stroke="#000" stroke-width="2.6"/>
<line x1="61.9" y1="1544.65" x2="70.5" y2="1544.65" stroke="#000" stroke-width="2.6"/>
<text x="60.3" y="1550.85" font-size="18" font-weight="bold" text-anchor="end">0.5</text>
<line x1="65.9" y1="1561.79" x2="70.5" y2="1561.79" stroke="#000" stroke-width="2.6"/>
<line x1="61.9" y1="1578.92" x2="70.5" y2="1578.92" stroke="#000" stroke-width="2.6"/>
<text x="60.3" y="1585.12" font-size="18" font-weight="bold" text-anchor="end">0.4</text>
<text x="60.3" y="1618.2" font-size="18" font-weight="bold" text-anchor="end">0.1</text>
<text x="60.3" y="1642.9" font-size="18" font-weight="bold" text-anchor="end">0.0</text>
<text transform="translate(16.7 1499.2) rotate(-90) scale(1 1.03)" font-size="21.2" font-weight="bold" text-anchor="middle">Stratified K Fold CV score</text>
<line x1="89.1" y1="1637.3" x2="89.1" y2="1644.3" stroke="#000" stroke-width="2.6"/>
<text x="95.3" y="1655.5" font-size="17.0" font-weight="bold" text-anchor="end" transform="rotate(-45 95.3 1655.5)" stroke="#000" stroke-width="0.3">MALAT1</text>
<line x1="117.99" y1="1637.3" x2="117.99" y2="1644.3" stroke="#000" stroke-width="2.6"/>
<text x="124.19" y="1655.5" font-size="17.0" font-weight="bold" text-anchor="end" transform="rotate(-45 124.19 1655.5)" stroke="#000" stroke-width="0.3">PCA3</text>
<line x1="146.88" y1="1637.3" x2="146.88" y2="1644.3" stroke="#000" stroke-width="2.6"/>
<text x="153.08" y="1655.5" font-size="17.0" font-weight="bold" text-anchor="end" transform="rotate(-45 153.08 1655.5)" stroke="#000" stroke-width="0.3">TMPRSS2:ERG</text>
<line x1="175.77" y1="1637.3" x2="175.77" y2="1644.3" stroke="#000" stroke-width="2.6"/>
<text x="181.97" y="1655.5" font-size="17.0" font-weight="bold" text-anchor="end" transform="rotate(-45 181.97 1655.5)" stroke="#000" stroke-width="0.3">hsa-miR-1185-2-3p</text>
<line x1="204.66" y1="1637.3" x2="204.66" y2="1644.3" stroke="#000" stroke-width="2.6"/>
<text x="210.86" y="1655.5" font-size="17.0" font-weight="bold" text-anchor="end" transform="rotate(-45 210.86 1655.5)" stroke="#000" stroke-width="0.3">hsa-miR-125b-5p</text>
<line x1="233.55" y1="1637.3" x2="233.55" y2="1644.3" stroke="#000" stroke-width="2.6"/>
<text x="239.75" y="1655.5" font-size="17.0" font-weight="bold" text-anchor="end" transform="rotate(-45 239.75 1655.5)" stroke="#000" stroke-width="0.3">hsa-miR-141-3p</text>
<line x1="262.44" y1="1637.3" x2="262.44" y2="1644.3" stroke="#000" stroke-width="2.6"/>
<text x="268.64" y="1655.5" font-size="17.0" font-weight="bold" text-anchor="end" transform="rotate(-45 268.64 1655.5)" stroke="#000" stroke-width="0.3">hsa-miR-141-5p</text>
<line x1="291.33" y1="1637.3" x2="291.33" y2="1644.3" stroke="#000" stroke-width="2.6"/>
<text x="297.53" y="1655.5" font-size="17.0" font-weight="bold" text-anchor="end" transform="rotate(-45 297.53 1655.5)" stroke="#000" stroke-width="0.3">hsa-miR-146a-5p</text>
<line x1="320.22" y1="1637.3" x2="320.22" y2="1644.3" stroke="#000" stroke-width="2.6"/>
<text x="326.42" y="1655.5" font-size="17.0" font-weight="bold" text-anchor="end" transform="rotate(-45 326.42 1655.5)" stroke="#000" stroke-width="0.3">hsa-miR-17-3p</text>
<line x1="349.11" y1="1637.3" x2="349.11" y2="1644.3" stroke="#000" stroke-width="2.6"/>
<text x="355.31" y="1655.5" font-size="17.0" font-weight="bold" text-anchor="end" transform="rotate(-45 355.31 1655.5)" stroke="#000" stroke-width="0.3">hsa-miR-200b-3p</text>
<line x1="378" y1="1637.3" x2="378" y2="1644.3" stroke="#000" stroke-width="2.6"/>
<text x="384.2" y="1655.5" font-size="17.0" font-weight="bold" text-anchor="end" transform="rotate(-45 384.2 1655.5)" stroke="#000" stroke-width="0.3">hsa-miR-21-5p</text>
<line x1="406.89" y1="1637.3" x2="406.89" y2="1644.3" stroke="#000" stroke-width="2.6"/>
<text x="413.09" y="1655.5" font-size="17.0" font-weight="bold" text-anchor="end" transform="rotate(-45 413.09 1655.5)" stroke="#000" stroke-width="0.3">hsa-miR-222-3p</text>
<line x1="435.78" y1="1637.3" x2="435.78" y2="1644.3" stroke="#000" stroke-width="2.6"/>
<text x="441.98" y="1655.5" font-size="17.0" font-weight="bold" text-anchor="end" transform="rotate(-45 441.98 1655.5)" stroke="#000" stroke-width="0.3">hsa-miR-24-3p</text>
<line x1="464.67" y1="1637.3" x2="464.67" y2="1644.3" stroke="#000" stroke-width="2.6"/>
<text x="470.87" y="1655.5" font-size="17.0" font-weight="bold" text-anchor="end" transform="rotate(-45 470.87 1655.5)" stroke="#000" stroke-width="0.3">hsa-miR-27b-3p</text>
<line x1="493.56" y1="1637.3" x2="493.56" y2="1644.3" stroke="#000" stroke-width="2.6"/>
<text x="499.76" y="1655.5" font-size="17.0" font-weight="bold" text-anchor="end" transform="rotate(-45 499.76 1655.5)" stroke="#000" stroke-width="0.3">hsa-miR-30a-3p</text>
<line x1="522.45" y1="1637.3" x2="522.45" y2="1644.3" stroke="#000" stroke-width="2.6"/>
<text x="528.65" y="1655.5" font-size="17.0" font-weight="bold" text-anchor="end" transform="rotate(-45 528.65 1655.5)" stroke="#000" stroke-width="0.3">hsa-miR-30a-5p</text>
<line x1="551.34" y1="1637.3" x2="551.34" y2="1644.3" stroke="#000" stroke-width="2.6"/>
<text x="557.54" y="1655.5" font-size="17.0" font-weight="bold" text-anchor="end" transform="rotate(-45 557.54 1655.5)" stroke="#000" stroke-width="0.3">hsa-miR-30b-5p</text>
<line x1="580.23" y1="1637.3" x2="580.23" y2="1644.3" stroke="#000" stroke-width="2.6"/>
<text x="586.43" y="1655.5" font-size="17.0" font-weight="bold" text-anchor="end" transform="rotate(-45 586.43 1655.5)" stroke="#000" stroke-width="0.3">hsa-miR-30c-5p</text>
<line x1="609.12" y1="1637.3" x2="609.12" y2="1644.3" stroke="#000" stroke-width="2.6"/>
<text x="615.32" y="1655.5" font-size="17.0" font-weight="bold" text-anchor="end" transform="rotate(-45 615.32 1655.5)" stroke="#000" stroke-width="0.3">hsa-miR-31-5p</text>
<line x1="638.01" y1="1637.3" x2="638.01" y2="1644.3" stroke="#000" stroke-width="2.6"/>
<text x="644.21" y="1655.5" font-size="17.0" font-weight="bold" text-anchor="end" transform="rotate(-45 644.21 1655.5)" stroke="#000" stroke-width="0.3">hsa-miR-375</text>
<circle cx="673" cy="1391.2" r="4.68" fill="#0000ff" fill-opacity="0.5" stroke="#0000ff" stroke-opacity="0.55" stroke-width="0.9"/>
<text x="693.6" y="1397.6" font-size="18" font-weight="normal" text-anchor="start">SVC</text>
<rect x="668.56" y="1412.41" width="8.88" height="8.88" fill="#ff0000" fill-opacity="0.5" stroke="#ff0000" stroke-opacity="0.6" stroke-width="0.9"/>
<text x="693.6" y="1423.25" font-size="18" font-weight="normal" text-anchor="start">RF</text>
<path d="M673,1436.5L679,1442.5L673,1448.5L667,1442.5Z" fill="#00c000" fill-opacity="0.5" stroke="#00c000" stroke-opacity="0.6" stroke-width="0.9"/>
<text x="693.6" y="1448.9" font-size="18" font-weight="normal" text-anchor="start">LR</text>
<path d="M673,1462.73L678.16,1472.28L667.84,1472.28Z" fill="#a000e8" fill-opacity="0.5" stroke="#a000e8" stroke-opacity="0.45" stroke-width="0.8"/>
<text x="693.6" y="1474.55" font-size="18" font-weight="normal" text-anchor="start">NB</text>
<path d="M673,1499.22L678.16,1489.67L667.84,1489.67Z" fill="#ff7800" fill-opacity="0.55" stroke="#ff7800" stroke-opacity="0.45" stroke-width="0.8"/>
<text x="693.6" y="1500.2" font-size="18" font-weight="normal" text-anchor="start">GB</text>
<path d="M673,1513.81L674.33,1517.62L678.36,1517.71L675.15,1520.15L676.32,1524.01L673,1521.71L669.68,1524.01L670.85,1520.15L667.64,1517.71L671.67,1517.62Z" fill="#2a2a2a" fill-opacity="0.68" stroke="#111" stroke-opacity="0.55" stroke-width="0.6"/>
<text x="693.6" y="1525.85" font-size="18" font-weight="normal" text-anchor="start">MLP</text>
</svg>
</body></html>
